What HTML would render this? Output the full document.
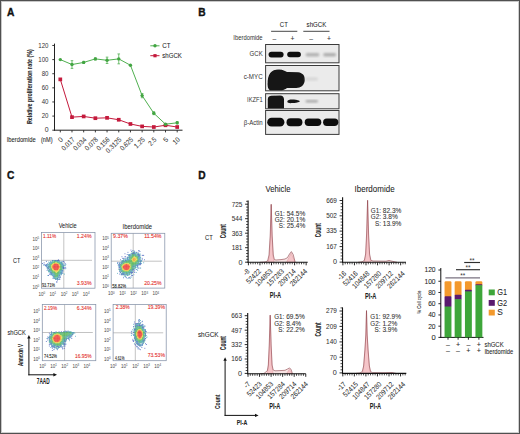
<!DOCTYPE html>
<html><head><meta charset="utf-8"><title>Figure</title>
<style>html,body{margin:0;padding:0;background:#fff;overflow:hidden}svg{display:block}text{font-family:"Liberation Sans",sans-serif}</style>
</head><body>
<svg width="520" height="434" viewBox="0 0 520 434">
<defs>
<filter id="bl3" x="-10%" y="-10%" width="120%" height="120%"><feGaussianBlur stdDeviation="0.35"/></filter>
<filter id="bl4" x="-30%" y="-30%" width="160%" height="160%"><feGaussianBlur stdDeviation="0.4"/></filter>
<filter id="bl5" x="-30%" y="-30%" width="160%" height="160%"><feGaussianBlur stdDeviation="0.5"/></filter>
<filter id="bl6" x="-30%" y="-30%" width="160%" height="160%"><feGaussianBlur stdDeviation="0.6"/></filter>
<filter id="bl8" x="-30%" y="-30%" width="160%" height="160%"><feGaussianBlur stdDeviation="0.8"/></filter>
<filter id="bl9" x="-30%" y="-30%" width="160%" height="160%"><feGaussianBlur stdDeviation="0.9"/></filter>
<filter id="bl10" x="-30%" y="-30%" width="160%" height="160%"><feGaussianBlur stdDeviation="1.0"/></filter>
</defs>
<rect x="0.50" y="0.50" width="519.00" height="433.00" rx="0" fill="#fff" stroke="#505050" stroke-width="1"/>
<line x1="1.50" y1="1.00" x2="1.50" y2="433.00" stroke="#c8c8c8" stroke-width="1"/>
<line x1="1.00" y1="1.50" x2="519.00" y2="1.50" stroke="#c8c8c8" stroke-width="1"/>
<line x1="518.50" y1="1.00" x2="518.50" y2="433.00" stroke="#d0d0d0" stroke-width="1"/>
<line x1="1.00" y1="432.50" x2="519.00" y2="432.50" stroke="#d0d0d0" stroke-width="1"/>
<text x="7.00" y="15.60" font-size="10.20" text-anchor="start" fill="#111" stroke="#111" stroke-width="0.35" font-weight="bold">A</text>
<text x="198.30" y="15.80" font-size="10.20" text-anchor="start" fill="#111" stroke="#111" stroke-width="0.35" font-weight="bold">B</text>
<text x="7.00" y="179.20" font-size="10.20" text-anchor="start" fill="#111" stroke="#111" stroke-width="0.35" font-weight="bold">C</text>
<text x="198.30" y="179.30" font-size="10.20" text-anchor="start" fill="#111" stroke="#111" stroke-width="0.35" font-weight="bold">D</text>
<line x1="54.50" y1="43.60" x2="54.50" y2="130.70" stroke="#222" stroke-width="1"/>
<line x1="54.00" y1="130.20" x2="182.50" y2="130.20" stroke="#222" stroke-width="1"/>
<line x1="52.30" y1="130.20" x2="54.50" y2="130.20" stroke="#222" stroke-width="0.9"/>
<text x="48.50" y="132.30" font-size="6.89" text-anchor="end" fill="#333">0</text>
<line x1="52.30" y1="116.08" x2="54.50" y2="116.08" stroke="#222" stroke-width="0.9"/>
<text x="48.50" y="118.18" font-size="6.89" text-anchor="end" fill="#333" textLength="6.79" lengthAdjust="spacingAndGlyphs">20</text>
<line x1="52.30" y1="101.96" x2="54.50" y2="101.96" stroke="#222" stroke-width="0.9"/>
<text x="48.50" y="104.06" font-size="6.89" text-anchor="end" fill="#333" textLength="6.79" lengthAdjust="spacingAndGlyphs">40</text>
<line x1="52.30" y1="87.84" x2="54.50" y2="87.84" stroke="#222" stroke-width="0.9"/>
<text x="48.50" y="89.94" font-size="6.89" text-anchor="end" fill="#333" textLength="6.79" lengthAdjust="spacingAndGlyphs">60</text>
<line x1="52.30" y1="73.72" x2="54.50" y2="73.72" stroke="#222" stroke-width="0.9"/>
<text x="48.50" y="75.82" font-size="6.89" text-anchor="end" fill="#333" textLength="6.79" lengthAdjust="spacingAndGlyphs">80</text>
<line x1="52.30" y1="59.60" x2="54.50" y2="59.60" stroke="#222" stroke-width="0.9"/>
<text x="48.50" y="61.70" font-size="6.89" text-anchor="end" fill="#333" textLength="10.18" lengthAdjust="spacingAndGlyphs">100</text>
<line x1="52.30" y1="45.48" x2="54.50" y2="45.48" stroke="#222" stroke-width="0.9"/>
<text x="48.50" y="47.58" font-size="6.89" text-anchor="end" fill="#333" textLength="10.18" lengthAdjust="spacingAndGlyphs">120</text>
<line x1="60.30" y1="130.20" x2="60.30" y2="132.40" stroke="#222" stroke-width="0.9"/>
<text x="63.50" y="140.10" font-size="7.01" text-anchor="end" fill="#3a3a3a" stroke="#3a3a3a" stroke-width="0.05" transform="rotate(-45 63.5 140.1)">0</text>
<line x1="71.99" y1="130.20" x2="71.99" y2="132.40" stroke="#222" stroke-width="0.9"/>
<text x="75.19" y="140.10" font-size="7.01" text-anchor="end" fill="#3a3a3a" stroke="#3a3a3a" stroke-width="0.05" transform="rotate(-45 75.19 140.1)" textLength="15.52" lengthAdjust="spacingAndGlyphs">0.017</text>
<line x1="83.68" y1="130.20" x2="83.68" y2="132.40" stroke="#222" stroke-width="0.9"/>
<text x="86.88" y="140.10" font-size="7.01" text-anchor="end" fill="#3a3a3a" stroke="#3a3a3a" stroke-width="0.05" transform="rotate(-45 86.88 140.1)" textLength="15.52" lengthAdjust="spacingAndGlyphs">0.034</text>
<line x1="95.37" y1="130.20" x2="95.37" y2="132.40" stroke="#222" stroke-width="0.9"/>
<text x="98.57" y="140.10" font-size="7.01" text-anchor="end" fill="#3a3a3a" stroke="#3a3a3a" stroke-width="0.05" transform="rotate(-45 98.57000000000001 140.1)" textLength="15.52" lengthAdjust="spacingAndGlyphs">0.078</text>
<line x1="107.06" y1="130.20" x2="107.06" y2="132.40" stroke="#222" stroke-width="0.9"/>
<text x="110.26" y="140.10" font-size="7.01" text-anchor="end" fill="#3a3a3a" stroke="#3a3a3a" stroke-width="0.05" transform="rotate(-45 110.26 140.1)" textLength="15.52" lengthAdjust="spacingAndGlyphs">0.156</text>
<line x1="118.75" y1="130.20" x2="118.75" y2="132.40" stroke="#222" stroke-width="0.9"/>
<text x="121.95" y="140.10" font-size="7.01" text-anchor="end" fill="#3a3a3a" stroke="#3a3a3a" stroke-width="0.05" transform="rotate(-45 121.95 140.1)" textLength="18.96" lengthAdjust="spacingAndGlyphs">0.3125</text>
<line x1="130.44" y1="130.20" x2="130.44" y2="132.40" stroke="#222" stroke-width="0.9"/>
<text x="133.64" y="140.10" font-size="7.01" text-anchor="end" fill="#3a3a3a" stroke="#3a3a3a" stroke-width="0.05" transform="rotate(-45 133.64 140.1)" textLength="15.52" lengthAdjust="spacingAndGlyphs">0.625</text>
<line x1="142.13" y1="130.20" x2="142.13" y2="132.40" stroke="#222" stroke-width="0.9"/>
<text x="145.33" y="140.10" font-size="7.01" text-anchor="end" fill="#3a3a3a" stroke="#3a3a3a" stroke-width="0.05" transform="rotate(-45 145.32999999999998 140.1)" textLength="12.07" lengthAdjust="spacingAndGlyphs">1.25</text>
<line x1="153.82" y1="130.20" x2="153.82" y2="132.40" stroke="#222" stroke-width="0.9"/>
<text x="157.02" y="140.10" font-size="7.01" text-anchor="end" fill="#3a3a3a" stroke="#3a3a3a" stroke-width="0.05" transform="rotate(-45 157.01999999999998 140.1)" textLength="8.62" lengthAdjust="spacingAndGlyphs">2.5</text>
<line x1="165.51" y1="130.20" x2="165.51" y2="132.40" stroke="#222" stroke-width="0.9"/>
<text x="168.71" y="140.10" font-size="7.01" text-anchor="end" fill="#3a3a3a" stroke="#3a3a3a" stroke-width="0.05" transform="rotate(-45 168.70999999999998 140.1)">5</text>
<line x1="177.20" y1="130.20" x2="177.20" y2="132.40" stroke="#222" stroke-width="0.9"/>
<text x="180.40" y="140.10" font-size="7.01" text-anchor="end" fill="#3a3a3a" stroke="#3a3a3a" stroke-width="0.05" transform="rotate(-45 180.39999999999998 140.1)" textLength="6.90" lengthAdjust="spacingAndGlyphs">10</text>
<text x="31.60" y="86.60" font-size="7.01" text-anchor="middle" fill="#2a2a2a" stroke="#2a2a2a" stroke-width="0.07" font-weight="bold" transform="rotate(-90 31.6 86.6)" textLength="75.00" lengthAdjust="spacingAndGlyphs">Relative proliferation rate (%)</text>
<text x="6.70" y="141.80" font-size="6.55" text-anchor="start" fill="#262626" stroke="#262626" stroke-width="0.07" textLength="29.00" lengthAdjust="spacingAndGlyphs">Iberdomide</text>
<text x="41.00" y="141.80" font-size="6.33" text-anchor="start" fill="#262626" stroke="#262626" stroke-width="0.07" textLength="11.50" lengthAdjust="spacingAndGlyphs">(nM)</text>
<polyline fill="none" stroke="#c41a3c" stroke-width="1" points="60.30,79.37 71.99,117.14 83.68,116.43 95.37,118.20 107.06,117.84 118.75,119.75 130.44,123.99 142.13,126.39 153.82,127.02 165.51,125.26 177.20,127.02"/>
<rect x="58.45" y="77.52" width="3.70" height="3.70" rx="0" fill="#c41a3c"/>
<rect x="70.14" y="115.29" width="3.70" height="3.70" rx="0" fill="#c41a3c"/>
<rect x="81.83" y="114.58" width="3.70" height="3.70" rx="0" fill="#c41a3c"/>
<rect x="93.52" y="116.35" width="3.70" height="3.70" rx="0" fill="#c41a3c"/>
<rect x="105.21" y="115.99" width="3.70" height="3.70" rx="0" fill="#c41a3c"/>
<rect x="116.90" y="117.90" width="3.70" height="3.70" rx="0" fill="#c41a3c"/>
<rect x="128.59" y="122.14" width="3.70" height="3.70" rx="0" fill="#c41a3c"/>
<rect x="140.28" y="124.54" width="3.70" height="3.70" rx="0" fill="#c41a3c"/>
<rect x="151.97" y="125.17" width="3.70" height="3.70" rx="0" fill="#c41a3c"/>
<rect x="163.66" y="123.41" width="3.70" height="3.70" rx="0" fill="#c41a3c"/>
<rect x="175.35" y="125.17" width="3.70" height="3.70" rx="0" fill="#c41a3c"/>
<polyline fill="none" stroke="#50b050" stroke-width="1" points="60.30,59.60 71.99,64.54 83.68,62.42 95.37,58.89 107.06,60.31 118.75,58.89 130.44,65.25 142.13,95.61 153.82,113.26 165.51,124.20 177.20,122.79"/>
<circle cx="60.30" cy="59.60" r="1.7" fill="#42a542"/>
<line x1="71.99" y1="60.66" x2="71.99" y2="68.42" stroke="#50b050" stroke-width="0.8"/>
<line x1="70.69" y1="60.66" x2="73.29" y2="60.66" stroke="#50b050" stroke-width="0.8"/>
<line x1="70.69" y1="68.42" x2="73.29" y2="68.42" stroke="#50b050" stroke-width="0.8"/>
<circle cx="71.99" cy="64.54" r="1.7" fill="#42a542"/>
<line x1="83.68" y1="61.36" x2="83.68" y2="63.48" stroke="#50b050" stroke-width="0.8"/>
<line x1="82.38" y1="61.36" x2="84.98" y2="61.36" stroke="#50b050" stroke-width="0.8"/>
<line x1="82.38" y1="63.48" x2="84.98" y2="63.48" stroke="#50b050" stroke-width="0.8"/>
<circle cx="83.68" cy="62.42" r="1.7" fill="#42a542"/>
<line x1="95.37" y1="57.83" x2="95.37" y2="59.95" stroke="#50b050" stroke-width="0.8"/>
<line x1="94.07" y1="57.83" x2="96.67" y2="57.83" stroke="#50b050" stroke-width="0.8"/>
<line x1="94.07" y1="59.95" x2="96.67" y2="59.95" stroke="#50b050" stroke-width="0.8"/>
<circle cx="95.37" cy="58.89" r="1.7" fill="#42a542"/>
<line x1="107.06" y1="57.13" x2="107.06" y2="63.48" stroke="#50b050" stroke-width="0.8"/>
<line x1="105.76" y1="57.13" x2="108.36" y2="57.13" stroke="#50b050" stroke-width="0.8"/>
<line x1="105.76" y1="63.48" x2="108.36" y2="63.48" stroke="#50b050" stroke-width="0.8"/>
<circle cx="107.06" cy="60.31" r="1.7" fill="#42a542"/>
<line x1="118.75" y1="53.95" x2="118.75" y2="63.84" stroke="#50b050" stroke-width="0.8"/>
<line x1="117.45" y1="53.95" x2="120.05" y2="53.95" stroke="#50b050" stroke-width="0.8"/>
<line x1="117.45" y1="63.84" x2="120.05" y2="63.84" stroke="#50b050" stroke-width="0.8"/>
<circle cx="118.75" cy="58.89" r="1.7" fill="#42a542"/>
<circle cx="130.44" cy="65.25" r="1.7" fill="#42a542"/>
<line x1="142.13" y1="93.49" x2="142.13" y2="97.72" stroke="#50b050" stroke-width="0.8"/>
<line x1="140.83" y1="93.49" x2="143.43" y2="93.49" stroke="#50b050" stroke-width="0.8"/>
<line x1="140.83" y1="97.72" x2="143.43" y2="97.72" stroke="#50b050" stroke-width="0.8"/>
<circle cx="142.13" cy="95.61" r="1.7" fill="#42a542"/>
<line x1="153.82" y1="111.84" x2="153.82" y2="114.67" stroke="#50b050" stroke-width="0.8"/>
<line x1="152.52" y1="111.84" x2="155.12" y2="111.84" stroke="#50b050" stroke-width="0.8"/>
<line x1="152.52" y1="114.67" x2="155.12" y2="114.67" stroke="#50b050" stroke-width="0.8"/>
<circle cx="153.82" cy="113.26" r="1.7" fill="#42a542"/>
<circle cx="165.51" cy="124.20" r="1.7" fill="#42a542"/>
<line x1="177.20" y1="121.73" x2="177.20" y2="123.85" stroke="#50b050" stroke-width="0.8"/>
<line x1="175.90" y1="121.73" x2="178.50" y2="121.73" stroke="#50b050" stroke-width="0.8"/>
<line x1="175.90" y1="123.85" x2="178.50" y2="123.85" stroke="#50b050" stroke-width="0.8"/>
<circle cx="177.20" cy="122.79" r="1.7" fill="#42a542"/>
<line x1="150.30" y1="45.80" x2="159.50" y2="45.80" stroke="#50b050" stroke-width="1"/>
<circle cx="155" cy="45.8" r="1.7" fill="#42a542"/>
<text x="162.30" y="47.90" font-size="7.01" text-anchor="start" fill="#262626" stroke="#262626" stroke-width="0.07" textLength="8.26" lengthAdjust="spacingAndGlyphs">CT</text>
<line x1="150.30" y1="55.70" x2="159.50" y2="55.70" stroke="#c41a3c" stroke-width="1"/>
<rect x="153.40" y="54.10" width="3.20" height="3.20" rx="0" fill="#c41a3c"/>
<text x="162.30" y="57.80" font-size="7.01" text-anchor="start" fill="#262626" stroke="#262626" stroke-width="0.07" textLength="19.60" lengthAdjust="spacingAndGlyphs">shGCK</text>
<text x="283.80" y="27.20" font-size="6.78" text-anchor="middle" fill="#262626" stroke="#262626" stroke-width="0.07" textLength="8.00" lengthAdjust="spacingAndGlyphs">CT</text>
<text x="316.40" y="27.20" font-size="6.78" text-anchor="middle" fill="#262626" stroke="#262626" stroke-width="0.07" textLength="19.60" lengthAdjust="spacingAndGlyphs">shGCK</text>
<line x1="271.10" y1="31.30" x2="297.30" y2="31.30" stroke="#333" stroke-width="0.9"/>
<line x1="303.30" y1="31.30" x2="329.50" y2="31.30" stroke="#333" stroke-width="0.9"/>
<text x="262.60" y="39.80" font-size="6.55" text-anchor="end" fill="#333" textLength="29.30" lengthAdjust="spacingAndGlyphs">Iberdomide</text>
<text x="274.40" y="41.20" font-size="6.78" text-anchor="middle" fill="#333" stroke="#333" stroke-width="0.07">–</text>
<text x="292.40" y="41.20" font-size="6.78" text-anchor="middle" fill="#333" stroke="#333" stroke-width="0.07">+</text>
<text x="311.20" y="41.20" font-size="6.78" text-anchor="middle" fill="#333" stroke="#333" stroke-width="0.07">–</text>
<text x="329.10" y="41.20" font-size="6.78" text-anchor="middle" fill="#333" stroke="#333" stroke-width="0.07">+</text>
<text x="262.70" y="55.60" font-size="6.78" text-anchor="end" fill="#333" textLength="13.10" lengthAdjust="spacingAndGlyphs">GCK</text>
<text x="262.70" y="78.90" font-size="6.78" text-anchor="end" fill="#333" textLength="19.00" lengthAdjust="spacingAndGlyphs">c-MYC</text>
<text x="262.70" y="102.30" font-size="6.78" text-anchor="end" fill="#333" textLength="15.60" lengthAdjust="spacingAndGlyphs">IKZF1</text>
<text x="262.70" y="124.80" font-size="6.78" text-anchor="end" fill="#333" textLength="19.00" lengthAdjust="spacingAndGlyphs">β-Actin</text>
<rect x="265.60" y="44.50" width="73.40" height="18.30" rx="0" fill="#ebebeb" stroke="#3a3a3a" stroke-width="1"/>
<rect x="265.60" y="65.50" width="73.40" height="25.30" rx="0" fill="#ebebeb" stroke="#3a3a3a" stroke-width="1"/>
<rect x="265.60" y="93.70" width="73.40" height="15.10" rx="0" fill="#ebebeb" stroke="#3a3a3a" stroke-width="1"/>
<rect x="265.60" y="110.50" width="73.40" height="23.90" rx="0" fill="#ebebeb" stroke="#3a3a3a" stroke-width="1"/>
<rect x="268.60" y="51.70" width="15.00" height="5.70" rx="2.85" fill="#111" filter="url(#bl6)"/>
<rect x="287.20" y="51.80" width="13.70" height="5.50" rx="2.75" fill="#111" filter="url(#bl6)"/>
<rect x="305.60" y="53.00" width="13.80" height="3.40" rx="1.70" fill="#b3b3b3" filter="url(#bl8)"/>
<rect x="323.20" y="53.00" width="13.00" height="3.40" rx="1.70" fill="#afafaf" filter="url(#bl8)"/>
<path d="M267.6,84 C267.6,74 271,69.5 279,69.5 C283,69.5 285,71 287,72 L298,72.3 C303,73 305,76 304.8,80 C304.5,85 301,88 296,88 L287,88 C285,89.5 283,90.3 280,90.3 L270,90.3 C268,89 267.6,87 267.6,84 Z" fill="#121212" filter="url(#bl6)"/>
<rect x="305.00" y="77.50" width="13.00" height="3.00" rx="1.50" fill="#d6d6d6" filter="url(#bl10)"/>
<path d="M267.8,108.3 L267.8,99 C268,96.5 270,95.6 272,95.8 L280,95.6 C282.5,95.6 284,97 284,99.5 L284,108.3 Z" fill="#121212" filter="url(#bl5)"/>
<path d="M287.3,101.2 C288,99.1 292,99.2 296,99.7 C298.5,100.2 299.8,100.8 299.8,101.4 C299.2,102.3 296,102.8 292,103.1 C289,103.3 287.3,102.9 287.3,101.2 Z" fill="#151515" filter="url(#bl5)"/>
<rect x="305.60" y="100.00" width="12.40" height="2.60" rx="1.30" fill="#a8a8a8" filter="url(#bl8)"/>
<rect x="267.20" y="117.80" width="17.20" height="8.80" rx="4.40" fill="#101010" filter="url(#bl6)"/>
<rect x="286.50" y="118.30" width="15.90" height="8.00" rx="4.00" fill="#101010" filter="url(#bl6)"/>
<rect x="304.70" y="118.60" width="16.60" height="7.40" rx="3.70" fill="#101010" filter="url(#bl6)"/>
<rect x="323.10" y="118.60" width="15.20" height="7.40" rx="3.70" fill="#101010" filter="url(#bl6)"/>
<rect x="41.60" y="232.60" width="53.40" height="55.60" fill="#fff"/>
<line x1="63.80" y1="232.60" x2="63.80" y2="288.20" stroke="#b4b4b4" stroke-width="0.8"/>
<line x1="41.60" y1="260.30" x2="92.00" y2="260.30" stroke="#b4b4b4" stroke-width="0.8"/>
<g filter="url(#bl3)"><rect x="57.95" y="259.45" width="0.80" height="0.80" fill="#3550b8"/><rect x="51.95" y="260.20" width="0.80" height="0.80" fill="#3550b8"/><rect x="52.70" y="260.20" width="0.80" height="0.80" fill="#3a9fb5"/><rect x="53.45" y="260.20" width="0.80" height="0.80" fill="#3a9fb5"/><rect x="54.20" y="260.20" width="0.80" height="0.80" fill="#3a9a8c"/><rect x="54.95" y="260.20" width="0.80" height="0.80" fill="#3550b8"/><rect x="55.70" y="260.20" width="0.80" height="0.80" fill="#3550b8"/><rect x="56.45" y="260.20" width="0.80" height="0.80" fill="#3a9a8c"/><rect x="57.20" y="260.20" width="0.80" height="0.80" fill="#3550b8"/><rect x="57.95" y="260.20" width="0.80" height="0.80" fill="#3550b8"/><rect x="58.70" y="260.20" width="0.80" height="0.80" fill="#3550b8"/><rect x="45.95" y="260.95" width="0.80" height="0.80" fill="#3550b8"/><rect x="50.45" y="260.95" width="0.80" height="0.80" fill="#3a9fb5"/><rect x="51.95" y="260.95" width="0.80" height="0.80" fill="#3a9a8c"/><rect x="53.45" y="260.95" width="0.80" height="0.80" fill="#46b04a"/><rect x="54.20" y="260.95" width="0.80" height="0.80" fill="#46b04a"/><rect x="54.95" y="260.95" width="0.80" height="0.80" fill="#3a9a8c"/><rect x="55.70" y="260.95" width="0.80" height="0.80" fill="#3a9fb5"/><rect x="56.45" y="260.95" width="0.80" height="0.80" fill="#3a9fb5"/><rect x="57.20" y="260.95" width="0.80" height="0.80" fill="#3a9a8c"/><rect x="57.95" y="260.95" width="0.80" height="0.80" fill="#3a9fb5"/><rect x="58.70" y="260.95" width="0.80" height="0.80" fill="#3a9fb5"/><rect x="59.45" y="260.95" width="0.80" height="0.80" fill="#3a9fb5"/><rect x="61.70" y="260.95" width="0.80" height="0.80" fill="#3550b8"/><rect x="63.20" y="260.95" width="0.80" height="0.80" fill="#3550b8"/><rect x="48.20" y="261.70" width="0.80" height="0.80" fill="#3a9fb5"/><rect x="49.70" y="261.70" width="0.80" height="0.80" fill="#3a9fb5"/><rect x="50.45" y="261.70" width="0.80" height="0.80" fill="#3550b8"/><rect x="51.20" y="261.70" width="0.80" height="0.80" fill="#3a9fb5"/><rect x="51.95" y="261.70" width="0.80" height="0.80" fill="#3a9a8c"/><rect x="52.70" y="261.70" width="0.80" height="0.80" fill="#3a9a8c"/><rect x="53.45" y="261.70" width="0.80" height="0.80" fill="#46b04a"/><rect x="54.20" y="261.70" width="0.80" height="0.80" fill="#46b04a"/><rect x="54.95" y="261.70" width="0.80" height="0.80" fill="#46b04a"/><rect x="55.70" y="261.70" width="0.80" height="0.80" fill="#46b04a"/><rect x="56.45" y="261.70" width="0.80" height="0.80" fill="#46b04a"/><rect x="57.20" y="261.70" width="0.80" height="0.80" fill="#3a9fb5"/><rect x="57.95" y="261.70" width="0.80" height="0.80" fill="#3a9fb5"/><rect x="58.70" y="261.70" width="0.80" height="0.80" fill="#3a9fb5"/><rect x="59.45" y="261.70" width="0.80" height="0.80" fill="#3a9a8c"/><rect x="60.20" y="261.70" width="0.80" height="0.80" fill="#3a9fb5"/><rect x="60.95" y="261.70" width="0.80" height="0.80" fill="#3a9a8c"/><rect x="61.70" y="261.70" width="0.80" height="0.80" fill="#3a9fb5"/><rect x="63.95" y="261.70" width="0.80" height="0.80" fill="#3550b8"/><rect x="43.70" y="262.45" width="0.80" height="0.80" fill="#3550b8"/><rect x="48.95" y="262.45" width="0.80" height="0.80" fill="#3a9fb5"/><rect x="49.70" y="262.45" width="0.80" height="0.80" fill="#3a9fb5"/><rect x="50.45" y="262.45" width="0.80" height="0.80" fill="#3a9fb5"/><rect x="51.20" y="262.45" width="0.80" height="0.80" fill="#3a9fb5"/><rect x="51.95" y="262.45" width="0.80" height="0.80" fill="#3a9a8c"/><rect x="52.70" y="262.45" width="0.80" height="0.80" fill="#46b04a"/><rect x="53.45" y="262.45" width="0.80" height="0.80" fill="#46b04a"/><rect x="54.20" y="262.45" width="0.80" height="0.80" fill="#46b04a"/><rect x="54.95" y="262.45" width="0.80" height="0.80" fill="#e0d83a"/><rect x="55.70" y="262.45" width="0.80" height="0.80" fill="#e0d83a"/><rect x="56.45" y="262.45" width="0.80" height="0.80" fill="#e0d83a"/><rect x="57.20" y="262.45" width="0.80" height="0.80" fill="#46b04a"/><rect x="57.95" y="262.45" width="0.80" height="0.80" fill="#46b04a"/><rect x="58.70" y="262.45" width="0.80" height="0.80" fill="#46b04a"/><rect x="59.45" y="262.45" width="0.80" height="0.80" fill="#3a9a8c"/><rect x="60.20" y="262.45" width="0.80" height="0.80" fill="#3a9fb5"/><rect x="60.95" y="262.45" width="0.80" height="0.80" fill="#3550b8"/><rect x="61.70" y="262.45" width="0.80" height="0.80" fill="#3a9a8c"/><rect x="42.20" y="263.20" width="0.80" height="0.80" fill="#3550b8"/><rect x="47.45" y="263.20" width="0.80" height="0.80" fill="#3550b8"/><rect x="48.95" y="263.20" width="0.80" height="0.80" fill="#3a9a8c"/><rect x="49.70" y="263.20" width="0.80" height="0.80" fill="#3a9fb5"/><rect x="50.45" y="263.20" width="0.80" height="0.80" fill="#3a9fb5"/><rect x="51.20" y="263.20" width="0.80" height="0.80" fill="#3a9fb5"/><rect x="51.95" y="263.20" width="0.80" height="0.80" fill="#46b04a"/><rect x="52.70" y="263.20" width="0.80" height="0.80" fill="#e0d83a"/><rect x="53.45" y="263.20" width="0.80" height="0.80" fill="#e0d83a"/><rect x="54.20" y="263.20" width="0.80" height="0.80" fill="#f3951e"/><rect x="54.95" y="263.20" width="0.80" height="0.80" fill="#f3951e"/><rect x="55.70" y="263.20" width="0.80" height="0.80" fill="#f3951e"/><rect x="56.45" y="263.20" width="0.80" height="0.80" fill="#f3951e"/><rect x="57.20" y="263.20" width="0.80" height="0.80" fill="#e0d83a"/><rect x="57.95" y="263.20" width="0.80" height="0.80" fill="#e0d83a"/><rect x="58.70" y="263.20" width="0.80" height="0.80" fill="#46b04a"/><rect x="59.45" y="263.20" width="0.80" height="0.80" fill="#46b04a"/><rect x="60.20" y="263.20" width="0.80" height="0.80" fill="#3a9fb5"/><rect x="60.95" y="263.20" width="0.80" height="0.80" fill="#3a9a8c"/><rect x="61.70" y="263.20" width="0.80" height="0.80" fill="#3a9fb5"/><rect x="62.45" y="263.20" width="0.80" height="0.80" fill="#3a9fb5"/><rect x="64.70" y="263.20" width="0.80" height="0.80" fill="#3550b8"/><rect x="43.70" y="263.95" width="0.80" height="0.80" fill="#3550b8"/><rect x="45.95" y="263.95" width="0.80" height="0.80" fill="#3550b8"/><rect x="46.70" y="263.95" width="0.80" height="0.80" fill="#3a9fb5"/><rect x="47.45" y="263.95" width="0.80" height="0.80" fill="#3a9fb5"/><rect x="48.20" y="263.95" width="0.80" height="0.80" fill="#3a9a8c"/><rect x="48.95" y="263.95" width="0.80" height="0.80" fill="#3a9fb5"/><rect x="49.70" y="263.95" width="0.80" height="0.80" fill="#46b04a"/><rect x="50.45" y="263.95" width="0.80" height="0.80" fill="#46b04a"/><rect x="51.20" y="263.95" width="0.80" height="0.80" fill="#46b04a"/><rect x="51.95" y="263.95" width="0.80" height="0.80" fill="#e0d83a"/><rect x="52.70" y="263.95" width="0.80" height="0.80" fill="#f3951e"/><rect x="53.45" y="263.95" width="0.80" height="0.80" fill="#f3951e"/><rect x="54.20" y="263.95" width="0.80" height="0.80" fill="#e8261e"/><rect x="54.95" y="263.95" width="0.80" height="0.80" fill="#e8261e"/><rect x="55.70" y="263.95" width="0.80" height="0.80" fill="#e8261e"/><rect x="56.45" y="263.95" width="0.80" height="0.80" fill="#e8261e"/><rect x="57.20" y="263.95" width="0.80" height="0.80" fill="#e8261e"/><rect x="57.95" y="263.95" width="0.80" height="0.80" fill="#f3951e"/><rect x="58.70" y="263.95" width="0.80" height="0.80" fill="#e0d83a"/><rect x="59.45" y="263.95" width="0.80" height="0.80" fill="#46b04a"/><rect x="60.20" y="263.95" width="0.80" height="0.80" fill="#46b04a"/><rect x="60.95" y="263.95" width="0.80" height="0.80" fill="#3a9a8c"/><rect x="61.70" y="263.95" width="0.80" height="0.80" fill="#3550b8"/><rect x="62.45" y="263.95" width="0.80" height="0.80" fill="#3a9fb5"/><rect x="65.45" y="263.95" width="0.80" height="0.80" fill="#3a9fb5"/><rect x="42.95" y="264.70" width="0.80" height="0.80" fill="#3a9fb5"/><rect x="44.45" y="264.70" width="0.80" height="0.80" fill="#3550b8"/><rect x="45.20" y="264.70" width="0.80" height="0.80" fill="#3550b8"/><rect x="45.95" y="264.70" width="0.80" height="0.80" fill="#3a9fb5"/><rect x="47.45" y="264.70" width="0.80" height="0.80" fill="#3a9fb5"/><rect x="48.95" y="264.70" width="0.80" height="0.80" fill="#3a9fb5"/><rect x="49.70" y="264.70" width="0.80" height="0.80" fill="#3a9a8c"/><rect x="50.45" y="264.70" width="0.80" height="0.80" fill="#46b04a"/><rect x="51.20" y="264.70" width="0.80" height="0.80" fill="#e0d83a"/><rect x="51.95" y="264.70" width="0.80" height="0.80" fill="#e0d83a"/><rect x="52.70" y="264.70" width="0.80" height="0.80" fill="#f3951e"/><rect x="53.45" y="264.70" width="0.80" height="0.80" fill="#e8261e"/><rect x="54.20" y="264.70" width="0.80" height="0.80" fill="#e8261e"/><rect x="54.95" y="264.70" width="0.80" height="0.80" fill="#e8261e"/><rect x="55.70" y="264.70" width="0.80" height="0.80" fill="#e8261e"/><rect x="56.45" y="264.70" width="0.80" height="0.80" fill="#e8261e"/><rect x="57.20" y="264.70" width="0.80" height="0.80" fill="#e8261e"/><rect x="57.95" y="264.70" width="0.80" height="0.80" fill="#e8261e"/><rect x="58.70" y="264.70" width="0.80" height="0.80" fill="#f3951e"/><rect x="59.45" y="264.70" width="0.80" height="0.80" fill="#e0d83a"/><rect x="60.20" y="264.70" width="0.80" height="0.80" fill="#46b04a"/><rect x="60.95" y="264.70" width="0.80" height="0.80" fill="#3a9fb5"/><rect x="61.70" y="264.70" width="0.80" height="0.80" fill="#3a9fb5"/><rect x="62.45" y="264.70" width="0.80" height="0.80" fill="#3550b8"/><rect x="63.20" y="264.70" width="0.80" height="0.80" fill="#3a9fb5"/><rect x="63.95" y="264.70" width="0.80" height="0.80" fill="#3a9fb5"/><rect x="64.70" y="264.70" width="0.80" height="0.80" fill="#3550b8"/><rect x="45.20" y="265.45" width="0.80" height="0.80" fill="#3550b8"/><rect x="45.95" y="265.45" width="0.80" height="0.80" fill="#3550b8"/><rect x="46.70" y="265.45" width="0.80" height="0.80" fill="#3550b8"/><rect x="47.45" y="265.45" width="0.80" height="0.80" fill="#3a9fb5"/><rect x="48.20" y="265.45" width="0.80" height="0.80" fill="#3a9a8c"/><rect x="48.95" y="265.45" width="0.80" height="0.80" fill="#3a9fb5"/><rect x="49.70" y="265.45" width="0.80" height="0.80" fill="#3a9a8c"/><rect x="50.45" y="265.45" width="0.80" height="0.80" fill="#46b04a"/><rect x="51.20" y="265.45" width="0.80" height="0.80" fill="#e0d83a"/><rect x="51.95" y="265.45" width="0.80" height="0.80" fill="#f3951e"/><rect x="52.70" y="265.45" width="0.80" height="0.80" fill="#e8261e"/><rect x="53.45" y="265.45" width="0.80" height="0.80" fill="#e8261e"/><rect x="54.20" y="265.45" width="0.80" height="0.80" fill="#e8261e"/><rect x="54.95" y="265.45" width="0.80" height="0.80" fill="#e8261e"/><rect x="55.70" y="265.45" width="0.80" height="0.80" fill="#e8261e"/><rect x="56.45" y="265.45" width="0.80" height="0.80" fill="#e8261e"/><rect x="57.20" y="265.45" width="0.80" height="0.80" fill="#e8261e"/><rect x="57.95" y="265.45" width="0.80" height="0.80" fill="#e8261e"/><rect x="58.70" y="265.45" width="0.80" height="0.80" fill="#f3951e"/><rect x="59.45" y="265.45" width="0.80" height="0.80" fill="#e0d83a"/><rect x="60.20" y="265.45" width="0.80" height="0.80" fill="#46b04a"/><rect x="60.95" y="265.45" width="0.80" height="0.80" fill="#46b04a"/><rect x="61.70" y="265.45" width="0.80" height="0.80" fill="#3a9fb5"/><rect x="62.45" y="265.45" width="0.80" height="0.80" fill="#3a9a8c"/><rect x="63.20" y="265.45" width="0.80" height="0.80" fill="#3a9fb5"/><rect x="64.70" y="265.45" width="0.80" height="0.80" fill="#3a9fb5"/><rect x="45.95" y="266.20" width="0.80" height="0.80" fill="#3a9fb5"/><rect x="46.70" y="266.20" width="0.80" height="0.80" fill="#3a9fb5"/><rect x="48.20" y="266.20" width="0.80" height="0.80" fill="#3550b8"/><rect x="48.95" y="266.20" width="0.80" height="0.80" fill="#46b04a"/><rect x="49.70" y="266.20" width="0.80" height="0.80" fill="#3a9a8c"/><rect x="50.45" y="266.20" width="0.80" height="0.80" fill="#46b04a"/><rect x="51.20" y="266.20" width="0.80" height="0.80" fill="#e0d83a"/><rect x="51.95" y="266.20" width="0.80" height="0.80" fill="#f3951e"/><rect x="52.70" y="266.20" width="0.80" height="0.80" fill="#e8261e"/><rect x="53.45" y="266.20" width="0.80" height="0.80" fill="#e8261e"/><rect x="54.20" y="266.20" width="0.80" height="0.80" fill="#e8261e"/><rect x="54.95" y="266.20" width="0.80" height="0.80" fill="#e8261e"/><rect x="55.70" y="266.20" width="0.80" height="0.80" fill="#e8261e"/><rect x="56.45" y="266.20" width="0.80" height="0.80" fill="#e8261e"/><rect x="57.20" y="266.20" width="0.80" height="0.80" fill="#e8261e"/><rect x="57.95" y="266.20" width="0.80" height="0.80" fill="#e8261e"/><rect x="58.70" y="266.20" width="0.80" height="0.80" fill="#e8261e"/><rect x="59.45" y="266.20" width="0.80" height="0.80" fill="#f3951e"/><rect x="60.20" y="266.20" width="0.80" height="0.80" fill="#46b04a"/><rect x="60.95" y="266.20" width="0.80" height="0.80" fill="#46b04a"/><rect x="61.70" y="266.20" width="0.80" height="0.80" fill="#3a9a8c"/><rect x="62.45" y="266.20" width="0.80" height="0.80" fill="#3a9a8c"/><rect x="63.20" y="266.20" width="0.80" height="0.80" fill="#3a9fb5"/><rect x="46.70" y="266.95" width="0.80" height="0.80" fill="#3550b8"/><rect x="47.45" y="266.95" width="0.80" height="0.80" fill="#3a9fb5"/><rect x="48.20" y="266.95" width="0.80" height="0.80" fill="#3a9a8c"/><rect x="48.95" y="266.95" width="0.80" height="0.80" fill="#3a9fb5"/><rect x="49.70" y="266.95" width="0.80" height="0.80" fill="#3a9a8c"/><rect x="50.45" y="266.95" width="0.80" height="0.80" fill="#46b04a"/><rect x="51.20" y="266.95" width="0.80" height="0.80" fill="#e0d83a"/><rect x="51.95" y="266.95" width="0.80" height="0.80" fill="#f3951e"/><rect x="52.70" y="266.95" width="0.80" height="0.80" fill="#e8261e"/><rect x="53.45" y="266.95" width="0.80" height="0.80" fill="#e8261e"/><rect x="54.20" y="266.95" width="0.80" height="0.80" fill="#e8261e"/><rect x="54.95" y="266.95" width="0.80" height="0.80" fill="#e8261e"/><rect x="55.70" y="266.95" width="0.80" height="0.80" fill="#e8261e"/><rect x="56.45" y="266.95" width="0.80" height="0.80" fill="#e8261e"/><rect x="57.20" y="266.95" width="0.80" height="0.80" fill="#e8261e"/><rect x="57.95" y="266.95" width="0.80" height="0.80" fill="#e8261e"/><rect x="58.70" y="266.95" width="0.80" height="0.80" fill="#e8261e"/><rect x="59.45" y="266.95" width="0.80" height="0.80" fill="#f3951e"/><rect x="60.20" y="266.95" width="0.80" height="0.80" fill="#46b04a"/><rect x="60.95" y="266.95" width="0.80" height="0.80" fill="#46b04a"/><rect x="61.70" y="266.95" width="0.80" height="0.80" fill="#3a9fb5"/><rect x="62.45" y="266.95" width="0.80" height="0.80" fill="#3550b8"/><rect x="63.20" y="266.95" width="0.80" height="0.80" fill="#3550b8"/><rect x="64.70" y="266.95" width="0.80" height="0.80" fill="#3550b8"/><rect x="46.70" y="267.70" width="0.80" height="0.80" fill="#3550b8"/><rect x="47.45" y="267.70" width="0.80" height="0.80" fill="#3550b8"/><rect x="48.20" y="267.70" width="0.80" height="0.80" fill="#3a9a8c"/><rect x="48.95" y="267.70" width="0.80" height="0.80" fill="#3a9a8c"/><rect x="49.70" y="267.70" width="0.80" height="0.80" fill="#3a9fb5"/><rect x="50.45" y="267.70" width="0.80" height="0.80" fill="#46b04a"/><rect x="51.20" y="267.70" width="0.80" height="0.80" fill="#e0d83a"/><rect x="51.95" y="267.70" width="0.80" height="0.80" fill="#f3951e"/><rect x="52.70" y="267.70" width="0.80" height="0.80" fill="#e8261e"/><rect x="53.45" y="267.70" width="0.80" height="0.80" fill="#e8261e"/><rect x="54.20" y="267.70" width="0.80" height="0.80" fill="#e8261e"/><rect x="54.95" y="267.70" width="0.80" height="0.80" fill="#e8261e"/><rect x="55.70" y="267.70" width="0.80" height="0.80" fill="#e8261e"/><rect x="56.45" y="267.70" width="0.80" height="0.80" fill="#e8261e"/><rect x="57.20" y="267.70" width="0.80" height="0.80" fill="#e8261e"/><rect x="57.95" y="267.70" width="0.80" height="0.80" fill="#e8261e"/><rect x="58.70" y="267.70" width="0.80" height="0.80" fill="#f3951e"/><rect x="59.45" y="267.70" width="0.80" height="0.80" fill="#e0d83a"/><rect x="60.20" y="267.70" width="0.80" height="0.80" fill="#46b04a"/><rect x="60.95" y="267.70" width="0.80" height="0.80" fill="#46b04a"/><rect x="61.70" y="267.70" width="0.80" height="0.80" fill="#3a9a8c"/><rect x="62.45" y="267.70" width="0.80" height="0.80" fill="#3a9a8c"/><rect x="63.20" y="267.70" width="0.80" height="0.80" fill="#3550b8"/><rect x="63.95" y="267.70" width="0.80" height="0.80" fill="#3550b8"/><rect x="65.45" y="267.70" width="0.80" height="0.80" fill="#3550b8"/><rect x="47.45" y="268.45" width="0.80" height="0.80" fill="#3a9a8c"/><rect x="48.20" y="268.45" width="0.80" height="0.80" fill="#3550b8"/><rect x="49.70" y="268.45" width="0.80" height="0.80" fill="#3a9a8c"/><rect x="50.45" y="268.45" width="0.80" height="0.80" fill="#46b04a"/><rect x="51.20" y="268.45" width="0.80" height="0.80" fill="#46b04a"/><rect x="51.95" y="268.45" width="0.80" height="0.80" fill="#e0d83a"/><rect x="52.70" y="268.45" width="0.80" height="0.80" fill="#f3951e"/><rect x="53.45" y="268.45" width="0.80" height="0.80" fill="#e8261e"/><rect x="54.20" y="268.45" width="0.80" height="0.80" fill="#e8261e"/><rect x="54.95" y="268.45" width="0.80" height="0.80" fill="#e8261e"/><rect x="55.70" y="268.45" width="0.80" height="0.80" fill="#e8261e"/><rect x="56.45" y="268.45" width="0.80" height="0.80" fill="#e8261e"/><rect x="57.20" y="268.45" width="0.80" height="0.80" fill="#e8261e"/><rect x="57.95" y="268.45" width="0.80" height="0.80" fill="#e8261e"/><rect x="58.70" y="268.45" width="0.80" height="0.80" fill="#f3951e"/><rect x="59.45" y="268.45" width="0.80" height="0.80" fill="#e0d83a"/><rect x="60.20" y="268.45" width="0.80" height="0.80" fill="#46b04a"/><rect x="60.95" y="268.45" width="0.80" height="0.80" fill="#46b04a"/><rect x="61.70" y="268.45" width="0.80" height="0.80" fill="#3a9fb5"/><rect x="62.45" y="268.45" width="0.80" height="0.80" fill="#3a9a8c"/><rect x="63.20" y="268.45" width="0.80" height="0.80" fill="#3550b8"/><rect x="64.70" y="268.45" width="0.80" height="0.80" fill="#3a9fb5"/><rect x="47.45" y="269.20" width="0.80" height="0.80" fill="#3a9fb5"/><rect x="48.95" y="269.20" width="0.80" height="0.80" fill="#3550b8"/><rect x="49.70" y="269.20" width="0.80" height="0.80" fill="#3a9a8c"/><rect x="50.45" y="269.20" width="0.80" height="0.80" fill="#3a9a8c"/><rect x="51.20" y="269.20" width="0.80" height="0.80" fill="#46b04a"/><rect x="51.95" y="269.20" width="0.80" height="0.80" fill="#e0d83a"/><rect x="52.70" y="269.20" width="0.80" height="0.80" fill="#e0d83a"/><rect x="53.45" y="269.20" width="0.80" height="0.80" fill="#f3951e"/><rect x="54.20" y="269.20" width="0.80" height="0.80" fill="#e8261e"/><rect x="54.95" y="269.20" width="0.80" height="0.80" fill="#e8261e"/><rect x="55.70" y="269.20" width="0.80" height="0.80" fill="#e8261e"/><rect x="56.45" y="269.20" width="0.80" height="0.80" fill="#e8261e"/><rect x="57.20" y="269.20" width="0.80" height="0.80" fill="#e8261e"/><rect x="57.95" y="269.20" width="0.80" height="0.80" fill="#f3951e"/><rect x="58.70" y="269.20" width="0.80" height="0.80" fill="#e0d83a"/><rect x="59.45" y="269.20" width="0.80" height="0.80" fill="#46b04a"/><rect x="60.20" y="269.20" width="0.80" height="0.80" fill="#46b04a"/><rect x="60.95" y="269.20" width="0.80" height="0.80" fill="#3a9a8c"/><rect x="61.70" y="269.20" width="0.80" height="0.80" fill="#46b04a"/><rect x="46.70" y="269.95" width="0.80" height="0.80" fill="#3550b8"/><rect x="48.20" y="269.95" width="0.80" height="0.80" fill="#3a9a8c"/><rect x="48.95" y="269.95" width="0.80" height="0.80" fill="#3a9fb5"/><rect x="49.70" y="269.95" width="0.80" height="0.80" fill="#3a9fb5"/><rect x="50.45" y="269.95" width="0.80" height="0.80" fill="#46b04a"/><rect x="51.20" y="269.95" width="0.80" height="0.80" fill="#46b04a"/><rect x="51.95" y="269.95" width="0.80" height="0.80" fill="#46b04a"/><rect x="52.70" y="269.95" width="0.80" height="0.80" fill="#e0d83a"/><rect x="53.45" y="269.95" width="0.80" height="0.80" fill="#e0d83a"/><rect x="54.20" y="269.95" width="0.80" height="0.80" fill="#f3951e"/><rect x="54.95" y="269.95" width="0.80" height="0.80" fill="#f3951e"/><rect x="55.70" y="269.95" width="0.80" height="0.80" fill="#f3951e"/><rect x="56.45" y="269.95" width="0.80" height="0.80" fill="#f3951e"/><rect x="57.20" y="269.95" width="0.80" height="0.80" fill="#f3951e"/><rect x="57.95" y="269.95" width="0.80" height="0.80" fill="#e0d83a"/><rect x="58.70" y="269.95" width="0.80" height="0.80" fill="#e0d83a"/><rect x="59.45" y="269.95" width="0.80" height="0.80" fill="#46b04a"/><rect x="60.20" y="269.95" width="0.80" height="0.80" fill="#3a9a8c"/><rect x="60.95" y="269.95" width="0.80" height="0.80" fill="#3a9a8c"/><rect x="61.70" y="269.95" width="0.80" height="0.80" fill="#3550b8"/><rect x="62.45" y="269.95" width="0.80" height="0.80" fill="#3a9fb5"/><rect x="48.20" y="270.70" width="0.80" height="0.80" fill="#3a9a8c"/><rect x="48.95" y="270.70" width="0.80" height="0.80" fill="#3a9a8c"/><rect x="49.70" y="270.70" width="0.80" height="0.80" fill="#3550b8"/><rect x="50.45" y="270.70" width="0.80" height="0.80" fill="#3a9fb5"/><rect x="51.20" y="270.70" width="0.80" height="0.80" fill="#3a9a8c"/><rect x="51.95" y="270.70" width="0.80" height="0.80" fill="#46b04a"/><rect x="52.70" y="270.70" width="0.80" height="0.80" fill="#46b04a"/><rect x="53.45" y="270.70" width="0.80" height="0.80" fill="#e0d83a"/><rect x="54.20" y="270.70" width="0.80" height="0.80" fill="#e0d83a"/><rect x="54.95" y="270.70" width="0.80" height="0.80" fill="#f3951e"/><rect x="55.70" y="270.70" width="0.80" height="0.80" fill="#f3951e"/><rect x="56.45" y="270.70" width="0.80" height="0.80" fill="#f3951e"/><rect x="57.20" y="270.70" width="0.80" height="0.80" fill="#e0d83a"/><rect x="57.95" y="270.70" width="0.80" height="0.80" fill="#e0d83a"/><rect x="58.70" y="270.70" width="0.80" height="0.80" fill="#46b04a"/><rect x="59.45" y="270.70" width="0.80" height="0.80" fill="#46b04a"/><rect x="60.20" y="270.70" width="0.80" height="0.80" fill="#3a9fb5"/><rect x="60.95" y="270.70" width="0.80" height="0.80" fill="#3a9fb5"/><rect x="61.70" y="270.70" width="0.80" height="0.80" fill="#3550b8"/><rect x="62.45" y="270.70" width="0.80" height="0.80" fill="#3550b8"/><rect x="48.20" y="271.45" width="0.80" height="0.80" fill="#3a9fb5"/><rect x="48.95" y="271.45" width="0.80" height="0.80" fill="#3a9fb5"/><rect x="49.70" y="271.45" width="0.80" height="0.80" fill="#3a9fb5"/><rect x="50.45" y="271.45" width="0.80" height="0.80" fill="#3a9fb5"/><rect x="51.20" y="271.45" width="0.80" height="0.80" fill="#3a9fb5"/><rect x="51.95" y="271.45" width="0.80" height="0.80" fill="#46b04a"/><rect x="52.70" y="271.45" width="0.80" height="0.80" fill="#46b04a"/><rect x="53.45" y="271.45" width="0.80" height="0.80" fill="#46b04a"/><rect x="54.20" y="271.45" width="0.80" height="0.80" fill="#46b04a"/><rect x="54.95" y="271.45" width="0.80" height="0.80" fill="#e0d83a"/><rect x="55.70" y="271.45" width="0.80" height="0.80" fill="#e0d83a"/><rect x="56.45" y="271.45" width="0.80" height="0.80" fill="#e0d83a"/><rect x="57.20" y="271.45" width="0.80" height="0.80" fill="#e0d83a"/><rect x="57.95" y="271.45" width="0.80" height="0.80" fill="#46b04a"/><rect x="58.70" y="271.45" width="0.80" height="0.80" fill="#46b04a"/><rect x="59.45" y="271.45" width="0.80" height="0.80" fill="#3a9fb5"/><rect x="60.20" y="271.45" width="0.80" height="0.80" fill="#3a9fb5"/><rect x="60.95" y="271.45" width="0.80" height="0.80" fill="#3a9fb5"/><rect x="61.70" y="271.45" width="0.80" height="0.80" fill="#3a9fb5"/><rect x="49.70" y="272.20" width="0.80" height="0.80" fill="#3a9fb5"/><rect x="50.45" y="272.20" width="0.80" height="0.80" fill="#3550b8"/><rect x="51.20" y="272.20" width="0.80" height="0.80" fill="#3a9a8c"/><rect x="51.95" y="272.20" width="0.80" height="0.80" fill="#46b04a"/><rect x="52.70" y="272.20" width="0.80" height="0.80" fill="#3a9a8c"/><rect x="53.45" y="272.20" width="0.80" height="0.80" fill="#46b04a"/><rect x="54.20" y="272.20" width="0.80" height="0.80" fill="#46b04a"/><rect x="54.95" y="272.20" width="0.80" height="0.80" fill="#46b04a"/><rect x="55.70" y="272.20" width="0.80" height="0.80" fill="#e0d83a"/><rect x="56.45" y="272.20" width="0.80" height="0.80" fill="#e0d83a"/><rect x="57.20" y="272.20" width="0.80" height="0.80" fill="#46b04a"/><rect x="57.95" y="272.20" width="0.80" height="0.80" fill="#46b04a"/><rect x="58.70" y="272.20" width="0.80" height="0.80" fill="#46b04a"/><rect x="59.45" y="272.20" width="0.80" height="0.80" fill="#3a9fb5"/><rect x="60.20" y="272.20" width="0.80" height="0.80" fill="#3a9a8c"/><rect x="60.95" y="272.20" width="0.80" height="0.80" fill="#3a9fb5"/><rect x="61.70" y="272.20" width="0.80" height="0.80" fill="#3550b8"/><rect x="50.45" y="272.95" width="0.80" height="0.80" fill="#3550b8"/><rect x="51.20" y="272.95" width="0.80" height="0.80" fill="#3550b8"/><rect x="51.95" y="272.95" width="0.80" height="0.80" fill="#3a9fb5"/><rect x="52.70" y="272.95" width="0.80" height="0.80" fill="#3a9a8c"/><rect x="53.45" y="272.95" width="0.80" height="0.80" fill="#3a9fb5"/><rect x="54.20" y="272.95" width="0.80" height="0.80" fill="#46b04a"/><rect x="54.95" y="272.95" width="0.80" height="0.80" fill="#46b04a"/><rect x="55.70" y="272.95" width="0.80" height="0.80" fill="#46b04a"/><rect x="56.45" y="272.95" width="0.80" height="0.80" fill="#46b04a"/><rect x="57.20" y="272.95" width="0.80" height="0.80" fill="#46b04a"/><rect x="57.95" y="272.95" width="0.80" height="0.80" fill="#46b04a"/><rect x="58.70" y="272.95" width="0.80" height="0.80" fill="#3a9a8c"/><rect x="59.45" y="272.95" width="0.80" height="0.80" fill="#3a9fb5"/><rect x="60.20" y="272.95" width="0.80" height="0.80" fill="#3a9fb5"/><rect x="60.95" y="272.95" width="0.80" height="0.80" fill="#3550b8"/><rect x="61.70" y="272.95" width="0.80" height="0.80" fill="#3a9fb5"/><rect x="62.45" y="272.95" width="0.80" height="0.80" fill="#3a9fb5"/><rect x="48.95" y="273.70" width="0.80" height="0.80" fill="#3550b8"/><rect x="49.70" y="273.70" width="0.80" height="0.80" fill="#3550b8"/><rect x="50.45" y="273.70" width="0.80" height="0.80" fill="#3a9fb5"/><rect x="51.20" y="273.70" width="0.80" height="0.80" fill="#3a9fb5"/><rect x="51.95" y="273.70" width="0.80" height="0.80" fill="#3a9a8c"/><rect x="52.70" y="273.70" width="0.80" height="0.80" fill="#3a9fb5"/><rect x="53.45" y="273.70" width="0.80" height="0.80" fill="#3a9fb5"/><rect x="54.20" y="273.70" width="0.80" height="0.80" fill="#3a9a8c"/><rect x="54.95" y="273.70" width="0.80" height="0.80" fill="#46b04a"/><rect x="55.70" y="273.70" width="0.80" height="0.80" fill="#46b04a"/><rect x="56.45" y="273.70" width="0.80" height="0.80" fill="#46b04a"/><rect x="57.20" y="273.70" width="0.80" height="0.80" fill="#46b04a"/><rect x="57.95" y="273.70" width="0.80" height="0.80" fill="#46b04a"/><rect x="58.70" y="273.70" width="0.80" height="0.80" fill="#3a9a8c"/><rect x="59.45" y="273.70" width="0.80" height="0.80" fill="#46b04a"/><rect x="60.20" y="273.70" width="0.80" height="0.80" fill="#3a9fb5"/><rect x="60.95" y="273.70" width="0.80" height="0.80" fill="#3550b8"/><rect x="63.95" y="273.70" width="0.80" height="0.80" fill="#3a9fb5"/><rect x="50.45" y="274.45" width="0.80" height="0.80" fill="#3a9fb5"/><rect x="51.20" y="274.45" width="0.80" height="0.80" fill="#3550b8"/><rect x="51.95" y="274.45" width="0.80" height="0.80" fill="#3a9fb5"/><rect x="52.70" y="274.45" width="0.80" height="0.80" fill="#3a9fb5"/><rect x="53.45" y="274.45" width="0.80" height="0.80" fill="#3a9a8c"/><rect x="54.20" y="274.45" width="0.80" height="0.80" fill="#3a9a8c"/><rect x="54.95" y="274.45" width="0.80" height="0.80" fill="#46b04a"/><rect x="55.70" y="274.45" width="0.80" height="0.80" fill="#46b04a"/><rect x="56.45" y="274.45" width="0.80" height="0.80" fill="#46b04a"/><rect x="57.20" y="274.45" width="0.80" height="0.80" fill="#46b04a"/><rect x="57.95" y="274.45" width="0.80" height="0.80" fill="#3a9fb5"/><rect x="58.70" y="274.45" width="0.80" height="0.80" fill="#3a9a8c"/><rect x="59.45" y="274.45" width="0.80" height="0.80" fill="#3a9fb5"/><rect x="60.95" y="274.45" width="0.80" height="0.80" fill="#3a9fb5"/><rect x="47.45" y="275.20" width="0.80" height="0.80" fill="#3a9fb5"/><rect x="48.20" y="275.20" width="0.80" height="0.80" fill="#3550b8"/><rect x="51.95" y="275.20" width="0.80" height="0.80" fill="#3a9fb5"/><rect x="52.70" y="275.20" width="0.80" height="0.80" fill="#3a9fb5"/><rect x="53.45" y="275.20" width="0.80" height="0.80" fill="#3a9fb5"/><rect x="54.20" y="275.20" width="0.80" height="0.80" fill="#3a9fb5"/><rect x="54.95" y="275.20" width="0.80" height="0.80" fill="#3a9fb5"/><rect x="55.70" y="275.20" width="0.80" height="0.80" fill="#46b04a"/><rect x="56.45" y="275.20" width="0.80" height="0.80" fill="#46b04a"/><rect x="57.20" y="275.20" width="0.80" height="0.80" fill="#46b04a"/><rect x="57.95" y="275.20" width="0.80" height="0.80" fill="#3a9fb5"/><rect x="58.70" y="275.20" width="0.80" height="0.80" fill="#3a9fb5"/><rect x="59.45" y="275.20" width="0.80" height="0.80" fill="#3550b8"/><rect x="52.70" y="275.95" width="0.80" height="0.80" fill="#3550b8"/><rect x="53.45" y="275.95" width="0.80" height="0.80" fill="#3a9a8c"/><rect x="54.20" y="275.95" width="0.80" height="0.80" fill="#46b04a"/><rect x="54.95" y="275.95" width="0.80" height="0.80" fill="#46b04a"/><rect x="55.70" y="275.95" width="0.80" height="0.80" fill="#3a9a8c"/><rect x="56.45" y="275.95" width="0.80" height="0.80" fill="#3a9a8c"/><rect x="57.20" y="275.95" width="0.80" height="0.80" fill="#46b04a"/><rect x="57.95" y="275.95" width="0.80" height="0.80" fill="#3a9fb5"/><rect x="59.45" y="275.95" width="0.80" height="0.80" fill="#3a9a8c"/><rect x="53.45" y="276.70" width="0.80" height="0.80" fill="#3550b8"/><rect x="54.20" y="276.70" width="0.80" height="0.80" fill="#3a9fb5"/><rect x="54.95" y="276.70" width="0.80" height="0.80" fill="#46b04a"/><rect x="55.70" y="276.70" width="0.80" height="0.80" fill="#46b04a"/><rect x="56.45" y="276.70" width="0.80" height="0.80" fill="#46b04a"/><rect x="57.20" y="276.70" width="0.80" height="0.80" fill="#3a9fb5"/><rect x="57.95" y="276.70" width="0.80" height="0.80" fill="#3a9a8c"/><rect x="58.70" y="276.70" width="0.80" height="0.80" fill="#3550b8"/><rect x="59.45" y="276.70" width="0.80" height="0.80" fill="#3a9fb5"/><rect x="60.20" y="276.70" width="0.80" height="0.80" fill="#3550b8"/><rect x="52.70" y="277.45" width="0.80" height="0.80" fill="#3a9fb5"/><rect x="53.45" y="277.45" width="0.80" height="0.80" fill="#3a9fb5"/><rect x="54.20" y="277.45" width="0.80" height="0.80" fill="#3a9fb5"/><rect x="54.95" y="277.45" width="0.80" height="0.80" fill="#3a9fb5"/><rect x="56.45" y="277.45" width="0.80" height="0.80" fill="#3a9fb5"/><rect x="57.20" y="277.45" width="0.80" height="0.80" fill="#3a9fb5"/><rect x="57.95" y="277.45" width="0.80" height="0.80" fill="#3a9a8c"/><rect x="59.45" y="277.45" width="0.80" height="0.80" fill="#3550b8"/><rect x="52.70" y="278.20" width="0.80" height="0.80" fill="#3550b8"/><rect x="54.20" y="278.20" width="0.80" height="0.80" fill="#3a9a8c"/><rect x="54.95" y="278.20" width="0.80" height="0.80" fill="#3a9a8c"/><rect x="55.70" y="278.20" width="0.80" height="0.80" fill="#3a9a8c"/><rect x="56.45" y="278.20" width="0.80" height="0.80" fill="#3a9fb5"/><rect x="57.20" y="278.20" width="0.80" height="0.80" fill="#3550b8"/><rect x="58.70" y="278.20" width="0.80" height="0.80" fill="#3a9fb5"/><rect x="54.95" y="278.95" width="0.80" height="0.80" fill="#3550b8"/><rect x="55.70" y="278.95" width="0.80" height="0.80" fill="#3a9fb5"/><rect x="56.45" y="278.95" width="0.80" height="0.80" fill="#3a9a8c"/><rect x="57.20" y="278.95" width="0.80" height="0.80" fill="#3a9fb5"/><rect x="57.95" y="278.95" width="0.80" height="0.80" fill="#3a9fb5"/><rect x="58.70" y="278.95" width="0.80" height="0.80" fill="#3550b8"/><rect x="59.45" y="278.95" width="0.80" height="0.80" fill="#3550b8"/><rect x="57.20" y="279.70" width="0.80" height="0.80" fill="#3550b8"/><rect x="56.45" y="281.20" width="0.80" height="0.80" fill="#3550b8"/><rect x="56.45" y="281.95" width="0.80" height="0.80" fill="#3550b8"/></g>
<rect x="41.60" y="232.60" width="53.40" height="55.60" fill="none" stroke="#8592a8" stroke-width="0.75"/>
<text x="39.20" y="288.50" font-size="4.5" text-anchor="end" fill="#484848">10<tspan font-size="2.93" dy="-1.6">0</tspan></text>
<text x="39.20" y="278.90" font-size="4.5" text-anchor="end" fill="#484848">10<tspan font-size="2.93" dy="-1.6">1</tspan></text>
<text x="39.20" y="269.30" font-size="4.5" text-anchor="end" fill="#484848">10<tspan font-size="2.93" dy="-1.6">2</tspan></text>
<text x="39.20" y="259.70" font-size="4.5" text-anchor="end" fill="#484848">10<tspan font-size="2.93" dy="-1.6">3</tspan></text>
<text x="39.20" y="250.10" font-size="4.5" text-anchor="end" fill="#484848">10<tspan font-size="2.93" dy="-1.6">4</tspan></text>
<text x="39.20" y="240.50" font-size="4.5" text-anchor="end" fill="#484848">10<tspan font-size="2.93" dy="-1.6">5</tspan></text>
<text x="41.80" y="295.50" font-size="4.5" text-anchor="middle" fill="#484848">10<tspan font-size="2.93" dy="-1.6">0</tspan></text>
<text x="52.90" y="295.50" font-size="4.5" text-anchor="middle" fill="#484848">10<tspan font-size="2.93" dy="-1.6">1</tspan></text>
<text x="64.00" y="295.50" font-size="4.5" text-anchor="middle" fill="#484848">10<tspan font-size="2.93" dy="-1.6">2</tspan></text>
<text x="75.10" y="295.50" font-size="4.5" text-anchor="middle" fill="#484848">10<tspan font-size="2.93" dy="-1.6">3</tspan></text>
<text x="86.20" y="295.50" font-size="4.5" text-anchor="middle" fill="#484848">10<tspan font-size="2.93" dy="-1.6">4</tspan></text>
<text x="43.10" y="238.20" font-size="5.65" text-anchor="start" fill="#e4302c" stroke="#e4302c" stroke-width="0.1" textLength="13.00" lengthAdjust="spacingAndGlyphs">1.11%</text>
<text x="76.80" y="238.20" font-size="5.65" text-anchor="start" fill="#e4302c" stroke="#e4302c" stroke-width="0.1" textLength="14.70" lengthAdjust="spacingAndGlyphs">1.24%</text>
<text x="76.80" y="284.80" font-size="5.65" text-anchor="start" fill="#e4302c" stroke="#e4302c" stroke-width="0.1" textLength="14.70" lengthAdjust="spacingAndGlyphs">3.93%</text>
<text x="41.90" y="287.20" font-size="5.65" text-anchor="start" fill="#222" stroke="#222" stroke-width="0.1" textLength="13.10" lengthAdjust="spacingAndGlyphs">93.71%</text>
<text x="67.70" y="228.30" font-size="6.67" text-anchor="middle" fill="#222" stroke="#222" stroke-width="0.05" textLength="18.10" lengthAdjust="spacingAndGlyphs">Vehicle</text>
<rect x="111.20" y="233.30" width="53.60" height="54.80" fill="#fff"/>
<line x1="133.20" y1="233.30" x2="133.20" y2="288.10" stroke="#b4b4b4" stroke-width="0.8"/>
<line x1="111.20" y1="261.20" x2="161.80" y2="261.20" stroke="#b4b4b4" stroke-width="0.8"/>
<g filter="url(#bl3)"><rect x="130.55" y="249.65" width="0.80" height="0.80" fill="#3550b8"/><rect x="132.05" y="250.40" width="0.80" height="0.80" fill="#3a9fb5"/><rect x="133.55" y="250.40" width="0.80" height="0.80" fill="#3550b8"/><rect x="138.05" y="250.40" width="0.80" height="0.80" fill="#3550b8"/><rect x="138.80" y="250.40" width="0.80" height="0.80" fill="#3550b8"/><rect x="131.30" y="251.15" width="0.80" height="0.80" fill="#3550b8"/><rect x="134.30" y="251.15" width="0.80" height="0.80" fill="#3a9fb5"/><rect x="139.55" y="251.15" width="0.80" height="0.80" fill="#3550b8"/><rect x="127.55" y="251.90" width="0.80" height="0.80" fill="#3550b8"/><rect x="132.80" y="251.90" width="0.80" height="0.80" fill="#3550b8"/><rect x="133.55" y="251.90" width="0.80" height="0.80" fill="#3a9a8c"/><rect x="134.30" y="251.90" width="0.80" height="0.80" fill="#3550b8"/><rect x="135.80" y="251.90" width="0.80" height="0.80" fill="#3550b8"/><rect x="136.55" y="251.90" width="0.80" height="0.80" fill="#3550b8"/><rect x="131.30" y="252.65" width="0.80" height="0.80" fill="#3a9fb5"/><rect x="132.05" y="252.65" width="0.80" height="0.80" fill="#3a9a8c"/><rect x="132.80" y="252.65" width="0.80" height="0.80" fill="#3a9a8c"/><rect x="133.55" y="252.65" width="0.80" height="0.80" fill="#3a9a8c"/><rect x="134.30" y="252.65" width="0.80" height="0.80" fill="#3a9a8c"/><rect x="135.05" y="252.65" width="0.80" height="0.80" fill="#3a9fb5"/><rect x="135.80" y="252.65" width="0.80" height="0.80" fill="#3a9fb5"/><rect x="136.55" y="252.65" width="0.80" height="0.80" fill="#3a9a8c"/><rect x="138.05" y="252.65" width="0.80" height="0.80" fill="#3550b8"/><rect x="124.55" y="253.40" width="0.80" height="0.80" fill="#3550b8"/><rect x="130.55" y="253.40" width="0.80" height="0.80" fill="#3a9fb5"/><rect x="131.30" y="253.40" width="0.80" height="0.80" fill="#3a9a8c"/><rect x="132.05" y="253.40" width="0.80" height="0.80" fill="#3550b8"/><rect x="132.80" y="253.40" width="0.80" height="0.80" fill="#3550b8"/><rect x="133.55" y="253.40" width="0.80" height="0.80" fill="#3550b8"/><rect x="134.30" y="253.40" width="0.80" height="0.80" fill="#3550b8"/><rect x="135.05" y="253.40" width="0.80" height="0.80" fill="#3a9fb5"/><rect x="136.55" y="253.40" width="0.80" height="0.80" fill="#3a9a8c"/><rect x="137.30" y="253.40" width="0.80" height="0.80" fill="#3a9fb5"/><rect x="138.05" y="253.40" width="0.80" height="0.80" fill="#3a9fb5"/><rect x="139.55" y="253.40" width="0.80" height="0.80" fill="#3a9fb5"/><rect x="126.80" y="254.15" width="0.80" height="0.80" fill="#3550b8"/><rect x="128.30" y="254.15" width="0.80" height="0.80" fill="#3a9fb5"/><rect x="129.05" y="254.15" width="0.80" height="0.80" fill="#3a9fb5"/><rect x="129.80" y="254.15" width="0.80" height="0.80" fill="#3550b8"/><rect x="131.30" y="254.15" width="0.80" height="0.80" fill="#3a9fb5"/><rect x="132.05" y="254.15" width="0.80" height="0.80" fill="#46b04a"/><rect x="132.80" y="254.15" width="0.80" height="0.80" fill="#46b04a"/><rect x="133.55" y="254.15" width="0.80" height="0.80" fill="#3a9a8c"/><rect x="134.30" y="254.15" width="0.80" height="0.80" fill="#46b04a"/><rect x="135.05" y="254.15" width="0.80" height="0.80" fill="#3a9fb5"/><rect x="135.80" y="254.15" width="0.80" height="0.80" fill="#3a9a8c"/><rect x="137.30" y="254.15" width="0.80" height="0.80" fill="#3550b8"/><rect x="138.05" y="254.15" width="0.80" height="0.80" fill="#3550b8"/><rect x="138.80" y="254.15" width="0.80" height="0.80" fill="#3a9a8c"/><rect x="139.55" y="254.15" width="0.80" height="0.80" fill="#3a9fb5"/><rect x="128.30" y="254.90" width="0.80" height="0.80" fill="#3550b8"/><rect x="129.05" y="254.90" width="0.80" height="0.80" fill="#3550b8"/><rect x="129.80" y="254.90" width="0.80" height="0.80" fill="#3a9fb5"/><rect x="130.55" y="254.90" width="0.80" height="0.80" fill="#3a9a8c"/><rect x="131.30" y="254.90" width="0.80" height="0.80" fill="#3a9fb5"/><rect x="132.05" y="254.90" width="0.80" height="0.80" fill="#46b04a"/><rect x="132.80" y="254.90" width="0.80" height="0.80" fill="#3a9a8c"/><rect x="133.55" y="254.90" width="0.80" height="0.80" fill="#3a9a8c"/><rect x="134.30" y="254.90" width="0.80" height="0.80" fill="#3a9fb5"/><rect x="135.05" y="254.90" width="0.80" height="0.80" fill="#3a9a8c"/><rect x="135.80" y="254.90" width="0.80" height="0.80" fill="#3a9fb5"/><rect x="136.55" y="254.90" width="0.80" height="0.80" fill="#46b04a"/><rect x="137.30" y="254.90" width="0.80" height="0.80" fill="#3a9fb5"/><rect x="138.05" y="254.90" width="0.80" height="0.80" fill="#3a9fb5"/><rect x="138.80" y="254.90" width="0.80" height="0.80" fill="#3550b8"/><rect x="139.55" y="254.90" width="0.80" height="0.80" fill="#3550b8"/><rect x="141.80" y="254.90" width="0.80" height="0.80" fill="#3550b8"/><rect x="142.55" y="254.90" width="0.80" height="0.80" fill="#3550b8"/><rect x="143.30" y="254.90" width="0.80" height="0.80" fill="#3550b8"/><rect x="128.30" y="255.65" width="0.80" height="0.80" fill="#3a9a8c"/><rect x="129.05" y="255.65" width="0.80" height="0.80" fill="#3a9a8c"/><rect x="129.80" y="255.65" width="0.80" height="0.80" fill="#3a9fb5"/><rect x="130.55" y="255.65" width="0.80" height="0.80" fill="#46b04a"/><rect x="131.30" y="255.65" width="0.80" height="0.80" fill="#3a9fb5"/><rect x="132.05" y="255.65" width="0.80" height="0.80" fill="#46b04a"/><rect x="132.80" y="255.65" width="0.80" height="0.80" fill="#46b04a"/><rect x="133.55" y="255.65" width="0.80" height="0.80" fill="#46b04a"/><rect x="134.30" y="255.65" width="0.80" height="0.80" fill="#46b04a"/><rect x="135.05" y="255.65" width="0.80" height="0.80" fill="#46b04a"/><rect x="135.80" y="255.65" width="0.80" height="0.80" fill="#46b04a"/><rect x="136.55" y="255.65" width="0.80" height="0.80" fill="#3a9fb5"/><rect x="137.30" y="255.65" width="0.80" height="0.80" fill="#3a9fb5"/><rect x="138.05" y="255.65" width="0.80" height="0.80" fill="#3550b8"/><rect x="138.80" y="255.65" width="0.80" height="0.80" fill="#3550b8"/><rect x="139.55" y="255.65" width="0.80" height="0.80" fill="#3a9a8c"/><rect x="121.55" y="256.40" width="0.80" height="0.80" fill="#3550b8"/><rect x="124.55" y="256.40" width="0.80" height="0.80" fill="#3550b8"/><rect x="125.30" y="256.40" width="0.80" height="0.80" fill="#3550b8"/><rect x="127.55" y="256.40" width="0.80" height="0.80" fill="#3a9fb5"/><rect x="129.05" y="256.40" width="0.80" height="0.80" fill="#3a9a8c"/><rect x="129.80" y="256.40" width="0.80" height="0.80" fill="#3a9a8c"/><rect x="130.55" y="256.40" width="0.80" height="0.80" fill="#3a9fb5"/><rect x="131.30" y="256.40" width="0.80" height="0.80" fill="#46b04a"/><rect x="132.05" y="256.40" width="0.80" height="0.80" fill="#46b04a"/><rect x="132.80" y="256.40" width="0.80" height="0.80" fill="#46b04a"/><rect x="133.55" y="256.40" width="0.80" height="0.80" fill="#e0d83a"/><rect x="134.30" y="256.40" width="0.80" height="0.80" fill="#e0d83a"/><rect x="135.05" y="256.40" width="0.80" height="0.80" fill="#46b04a"/><rect x="135.80" y="256.40" width="0.80" height="0.80" fill="#46b04a"/><rect x="136.55" y="256.40" width="0.80" height="0.80" fill="#46b04a"/><rect x="137.30" y="256.40" width="0.80" height="0.80" fill="#46b04a"/><rect x="138.05" y="256.40" width="0.80" height="0.80" fill="#46b04a"/><rect x="138.80" y="256.40" width="0.80" height="0.80" fill="#3550b8"/><rect x="139.55" y="256.40" width="0.80" height="0.80" fill="#3a9fb5"/><rect x="126.80" y="257.15" width="0.80" height="0.80" fill="#3a9fb5"/><rect x="127.55" y="257.15" width="0.80" height="0.80" fill="#3550b8"/><rect x="128.30" y="257.15" width="0.80" height="0.80" fill="#3a9fb5"/><rect x="129.05" y="257.15" width="0.80" height="0.80" fill="#3a9a8c"/><rect x="129.80" y="257.15" width="0.80" height="0.80" fill="#3a9a8c"/><rect x="130.55" y="257.15" width="0.80" height="0.80" fill="#46b04a"/><rect x="131.30" y="257.15" width="0.80" height="0.80" fill="#46b04a"/><rect x="132.05" y="257.15" width="0.80" height="0.80" fill="#46b04a"/><rect x="132.80" y="257.15" width="0.80" height="0.80" fill="#e0d83a"/><rect x="133.55" y="257.15" width="0.80" height="0.80" fill="#e0d83a"/><rect x="134.30" y="257.15" width="0.80" height="0.80" fill="#e0d83a"/><rect x="135.05" y="257.15" width="0.80" height="0.80" fill="#e0d83a"/><rect x="135.80" y="257.15" width="0.80" height="0.80" fill="#e0d83a"/><rect x="136.55" y="257.15" width="0.80" height="0.80" fill="#46b04a"/><rect x="137.30" y="257.15" width="0.80" height="0.80" fill="#46b04a"/><rect x="138.05" y="257.15" width="0.80" height="0.80" fill="#3a9fb5"/><rect x="138.80" y="257.15" width="0.80" height="0.80" fill="#3a9fb5"/><rect x="139.55" y="257.15" width="0.80" height="0.80" fill="#3a9fb5"/><rect x="140.30" y="257.15" width="0.80" height="0.80" fill="#3a9fb5"/><rect x="122.30" y="257.90" width="0.80" height="0.80" fill="#3550b8"/><rect x="123.05" y="257.90" width="0.80" height="0.80" fill="#3550b8"/><rect x="124.55" y="257.90" width="0.80" height="0.80" fill="#3550b8"/><rect x="126.80" y="257.90" width="0.80" height="0.80" fill="#3550b8"/><rect x="127.55" y="257.90" width="0.80" height="0.80" fill="#3550b8"/><rect x="129.05" y="257.90" width="0.80" height="0.80" fill="#3a9a8c"/><rect x="129.80" y="257.90" width="0.80" height="0.80" fill="#3a9fb5"/><rect x="130.55" y="257.90" width="0.80" height="0.80" fill="#46b04a"/><rect x="131.30" y="257.90" width="0.80" height="0.80" fill="#46b04a"/><rect x="132.05" y="257.90" width="0.80" height="0.80" fill="#e0d83a"/><rect x="132.80" y="257.90" width="0.80" height="0.80" fill="#e0d83a"/><rect x="133.55" y="257.90" width="0.80" height="0.80" fill="#f3951e"/><rect x="134.30" y="257.90" width="0.80" height="0.80" fill="#f3951e"/><rect x="135.05" y="257.90" width="0.80" height="0.80" fill="#e0d83a"/><rect x="135.80" y="257.90" width="0.80" height="0.80" fill="#e0d83a"/><rect x="136.55" y="257.90" width="0.80" height="0.80" fill="#46b04a"/><rect x="137.30" y="257.90" width="0.80" height="0.80" fill="#46b04a"/><rect x="138.05" y="257.90" width="0.80" height="0.80" fill="#3a9fb5"/><rect x="138.80" y="257.90" width="0.80" height="0.80" fill="#3a9a8c"/><rect x="139.55" y="257.90" width="0.80" height="0.80" fill="#3550b8"/><rect x="141.80" y="257.90" width="0.80" height="0.80" fill="#3550b8"/><rect x="124.55" y="258.65" width="0.80" height="0.80" fill="#3a9fb5"/><rect x="125.30" y="258.65" width="0.80" height="0.80" fill="#3a9fb5"/><rect x="126.05" y="258.65" width="0.80" height="0.80" fill="#3a9fb5"/><rect x="126.80" y="258.65" width="0.80" height="0.80" fill="#3a9a8c"/><rect x="127.55" y="258.65" width="0.80" height="0.80" fill="#3a9fb5"/><rect x="128.30" y="258.65" width="0.80" height="0.80" fill="#3a9fb5"/><rect x="129.05" y="258.65" width="0.80" height="0.80" fill="#46b04a"/><rect x="129.80" y="258.65" width="0.80" height="0.80" fill="#46b04a"/><rect x="130.55" y="258.65" width="0.80" height="0.80" fill="#46b04a"/><rect x="131.30" y="258.65" width="0.80" height="0.80" fill="#46b04a"/><rect x="132.05" y="258.65" width="0.80" height="0.80" fill="#e0d83a"/><rect x="132.80" y="258.65" width="0.80" height="0.80" fill="#f3951e"/><rect x="133.55" y="258.65" width="0.80" height="0.80" fill="#f3951e"/><rect x="134.30" y="258.65" width="0.80" height="0.80" fill="#f3951e"/><rect x="135.05" y="258.65" width="0.80" height="0.80" fill="#f3951e"/><rect x="135.80" y="258.65" width="0.80" height="0.80" fill="#e0d83a"/><rect x="136.55" y="258.65" width="0.80" height="0.80" fill="#e0d83a"/><rect x="137.30" y="258.65" width="0.80" height="0.80" fill="#46b04a"/><rect x="138.05" y="258.65" width="0.80" height="0.80" fill="#3a9fb5"/><rect x="138.80" y="258.65" width="0.80" height="0.80" fill="#3a9fb5"/><rect x="139.55" y="258.65" width="0.80" height="0.80" fill="#3a9fb5"/><rect x="140.30" y="258.65" width="0.80" height="0.80" fill="#3a9a8c"/><rect x="120.05" y="259.40" width="0.80" height="0.80" fill="#3550b8"/><rect x="123.05" y="259.40" width="0.80" height="0.80" fill="#3a9a8c"/><rect x="123.80" y="259.40" width="0.80" height="0.80" fill="#3a9fb5"/><rect x="125.30" y="259.40" width="0.80" height="0.80" fill="#3a9fb5"/><rect x="126.80" y="259.40" width="0.80" height="0.80" fill="#3a9fb5"/><rect x="127.55" y="259.40" width="0.80" height="0.80" fill="#3550b8"/><rect x="128.30" y="259.40" width="0.80" height="0.80" fill="#3a9fb5"/><rect x="129.05" y="259.40" width="0.80" height="0.80" fill="#3a9fb5"/><rect x="129.80" y="259.40" width="0.80" height="0.80" fill="#3a9fb5"/><rect x="130.55" y="259.40" width="0.80" height="0.80" fill="#46b04a"/><rect x="131.30" y="259.40" width="0.80" height="0.80" fill="#e0d83a"/><rect x="132.05" y="259.40" width="0.80" height="0.80" fill="#e0d83a"/><rect x="132.80" y="259.40" width="0.80" height="0.80" fill="#f3951e"/><rect x="133.55" y="259.40" width="0.80" height="0.80" fill="#f3951e"/><rect x="134.30" y="259.40" width="0.80" height="0.80" fill="#f3951e"/><rect x="135.05" y="259.40" width="0.80" height="0.80" fill="#f3951e"/><rect x="135.80" y="259.40" width="0.80" height="0.80" fill="#e0d83a"/><rect x="136.55" y="259.40" width="0.80" height="0.80" fill="#e0d83a"/><rect x="137.30" y="259.40" width="0.80" height="0.80" fill="#46b04a"/><rect x="138.05" y="259.40" width="0.80" height="0.80" fill="#3a9a8c"/><rect x="138.80" y="259.40" width="0.80" height="0.80" fill="#46b04a"/><rect x="139.55" y="259.40" width="0.80" height="0.80" fill="#3a9a8c"/><rect x="141.80" y="259.40" width="0.80" height="0.80" fill="#3550b8"/><rect x="144.05" y="259.40" width="0.80" height="0.80" fill="#3550b8"/><rect x="121.55" y="260.15" width="0.80" height="0.80" fill="#3a9fb5"/><rect x="122.30" y="260.15" width="0.80" height="0.80" fill="#3a9a8c"/><rect x="123.05" y="260.15" width="0.80" height="0.80" fill="#3a9a8c"/><rect x="124.55" y="260.15" width="0.80" height="0.80" fill="#3550b8"/><rect x="125.30" y="260.15" width="0.80" height="0.80" fill="#3550b8"/><rect x="126.05" y="260.15" width="0.80" height="0.80" fill="#3a9a8c"/><rect x="126.80" y="260.15" width="0.80" height="0.80" fill="#3a9fb5"/><rect x="127.55" y="260.15" width="0.80" height="0.80" fill="#3a9a8c"/><rect x="128.30" y="260.15" width="0.80" height="0.80" fill="#3a9a8c"/><rect x="129.05" y="260.15" width="0.80" height="0.80" fill="#46b04a"/><rect x="129.80" y="260.15" width="0.80" height="0.80" fill="#46b04a"/><rect x="130.55" y="260.15" width="0.80" height="0.80" fill="#46b04a"/><rect x="131.30" y="260.15" width="0.80" height="0.80" fill="#46b04a"/><rect x="132.05" y="260.15" width="0.80" height="0.80" fill="#e0d83a"/><rect x="132.80" y="260.15" width="0.80" height="0.80" fill="#e0d83a"/><rect x="133.55" y="260.15" width="0.80" height="0.80" fill="#f3951e"/><rect x="134.30" y="260.15" width="0.80" height="0.80" fill="#f3951e"/><rect x="135.05" y="260.15" width="0.80" height="0.80" fill="#e0d83a"/><rect x="135.80" y="260.15" width="0.80" height="0.80" fill="#e0d83a"/><rect x="136.55" y="260.15" width="0.80" height="0.80" fill="#46b04a"/><rect x="137.30" y="260.15" width="0.80" height="0.80" fill="#46b04a"/><rect x="138.05" y="260.15" width="0.80" height="0.80" fill="#3a9fb5"/><rect x="138.80" y="260.15" width="0.80" height="0.80" fill="#3a9a8c"/><rect x="140.30" y="260.15" width="0.80" height="0.80" fill="#3550b8"/><rect x="141.05" y="260.15" width="0.80" height="0.80" fill="#3a9fb5"/><rect x="121.55" y="260.90" width="0.80" height="0.80" fill="#3a9a8c"/><rect x="122.30" y="260.90" width="0.80" height="0.80" fill="#3a9fb5"/><rect x="123.05" y="260.90" width="0.80" height="0.80" fill="#3a9a8c"/><rect x="123.80" y="260.90" width="0.80" height="0.80" fill="#3a9a8c"/><rect x="124.55" y="260.90" width="0.80" height="0.80" fill="#3a9a8c"/><rect x="125.30" y="260.90" width="0.80" height="0.80" fill="#3a9a8c"/><rect x="126.05" y="260.90" width="0.80" height="0.80" fill="#46b04a"/><rect x="126.80" y="260.90" width="0.80" height="0.80" fill="#3a9fb5"/><rect x="127.55" y="260.90" width="0.80" height="0.80" fill="#46b04a"/><rect x="128.30" y="260.90" width="0.80" height="0.80" fill="#46b04a"/><rect x="129.05" y="260.90" width="0.80" height="0.80" fill="#3a9fb5"/><rect x="129.80" y="260.90" width="0.80" height="0.80" fill="#46b04a"/><rect x="130.55" y="260.90" width="0.80" height="0.80" fill="#46b04a"/><rect x="131.30" y="260.90" width="0.80" height="0.80" fill="#46b04a"/><rect x="132.05" y="260.90" width="0.80" height="0.80" fill="#e0d83a"/><rect x="132.80" y="260.90" width="0.80" height="0.80" fill="#e0d83a"/><rect x="133.55" y="260.90" width="0.80" height="0.80" fill="#e0d83a"/><rect x="134.30" y="260.90" width="0.80" height="0.80" fill="#e0d83a"/><rect x="135.05" y="260.90" width="0.80" height="0.80" fill="#e0d83a"/><rect x="135.80" y="260.90" width="0.80" height="0.80" fill="#e0d83a"/><rect x="136.55" y="260.90" width="0.80" height="0.80" fill="#46b04a"/><rect x="137.30" y="260.90" width="0.80" height="0.80" fill="#46b04a"/><rect x="138.05" y="260.90" width="0.80" height="0.80" fill="#3a9a8c"/><rect x="138.80" y="260.90" width="0.80" height="0.80" fill="#3a9fb5"/><rect x="139.55" y="260.90" width="0.80" height="0.80" fill="#3a9fb5"/><rect x="140.30" y="260.90" width="0.80" height="0.80" fill="#3a9a8c"/><rect x="141.05" y="260.90" width="0.80" height="0.80" fill="#3a9fb5"/><rect x="120.80" y="261.65" width="0.80" height="0.80" fill="#3a9fb5"/><rect x="121.55" y="261.65" width="0.80" height="0.80" fill="#3a9a8c"/><rect x="122.30" y="261.65" width="0.80" height="0.80" fill="#3550b8"/><rect x="123.05" y="261.65" width="0.80" height="0.80" fill="#3a9fb5"/><rect x="123.80" y="261.65" width="0.80" height="0.80" fill="#46b04a"/><rect x="124.55" y="261.65" width="0.80" height="0.80" fill="#3a9fb5"/><rect x="125.30" y="261.65" width="0.80" height="0.80" fill="#3a9fb5"/><rect x="126.05" y="261.65" width="0.80" height="0.80" fill="#46b04a"/><rect x="126.80" y="261.65" width="0.80" height="0.80" fill="#46b04a"/><rect x="127.55" y="261.65" width="0.80" height="0.80" fill="#46b04a"/><rect x="128.30" y="261.65" width="0.80" height="0.80" fill="#46b04a"/><rect x="129.05" y="261.65" width="0.80" height="0.80" fill="#46b04a"/><rect x="129.80" y="261.65" width="0.80" height="0.80" fill="#46b04a"/><rect x="130.55" y="261.65" width="0.80" height="0.80" fill="#46b04a"/><rect x="131.30" y="261.65" width="0.80" height="0.80" fill="#46b04a"/><rect x="132.05" y="261.65" width="0.80" height="0.80" fill="#46b04a"/><rect x="132.80" y="261.65" width="0.80" height="0.80" fill="#e0d83a"/><rect x="133.55" y="261.65" width="0.80" height="0.80" fill="#e0d83a"/><rect x="134.30" y="261.65" width="0.80" height="0.80" fill="#e0d83a"/><rect x="135.05" y="261.65" width="0.80" height="0.80" fill="#46b04a"/><rect x="135.80" y="261.65" width="0.80" height="0.80" fill="#46b04a"/><rect x="136.55" y="261.65" width="0.80" height="0.80" fill="#46b04a"/><rect x="137.30" y="261.65" width="0.80" height="0.80" fill="#3a9fb5"/><rect x="138.05" y="261.65" width="0.80" height="0.80" fill="#3a9a8c"/><rect x="139.55" y="261.65" width="0.80" height="0.80" fill="#3a9a8c"/><rect x="140.30" y="261.65" width="0.80" height="0.80" fill="#3550b8"/><rect x="117.05" y="262.40" width="0.80" height="0.80" fill="#3550b8"/><rect x="118.55" y="262.40" width="0.80" height="0.80" fill="#3550b8"/><rect x="119.30" y="262.40" width="0.80" height="0.80" fill="#3a9fb5"/><rect x="120.05" y="262.40" width="0.80" height="0.80" fill="#3a9fb5"/><rect x="120.80" y="262.40" width="0.80" height="0.80" fill="#3a9fb5"/><rect x="121.55" y="262.40" width="0.80" height="0.80" fill="#3550b8"/><rect x="122.30" y="262.40" width="0.80" height="0.80" fill="#46b04a"/><rect x="123.05" y="262.40" width="0.80" height="0.80" fill="#3a9a8c"/><rect x="123.80" y="262.40" width="0.80" height="0.80" fill="#46b04a"/><rect x="124.55" y="262.40" width="0.80" height="0.80" fill="#46b04a"/><rect x="125.30" y="262.40" width="0.80" height="0.80" fill="#46b04a"/><rect x="126.05" y="262.40" width="0.80" height="0.80" fill="#46b04a"/><rect x="126.80" y="262.40" width="0.80" height="0.80" fill="#46b04a"/><rect x="127.55" y="262.40" width="0.80" height="0.80" fill="#46b04a"/><rect x="128.30" y="262.40" width="0.80" height="0.80" fill="#46b04a"/><rect x="129.05" y="262.40" width="0.80" height="0.80" fill="#46b04a"/><rect x="129.80" y="262.40" width="0.80" height="0.80" fill="#46b04a"/><rect x="130.55" y="262.40" width="0.80" height="0.80" fill="#46b04a"/><rect x="131.30" y="262.40" width="0.80" height="0.80" fill="#46b04a"/><rect x="132.05" y="262.40" width="0.80" height="0.80" fill="#46b04a"/><rect x="132.80" y="262.40" width="0.80" height="0.80" fill="#46b04a"/><rect x="133.55" y="262.40" width="0.80" height="0.80" fill="#46b04a"/><rect x="134.30" y="262.40" width="0.80" height="0.80" fill="#46b04a"/><rect x="135.05" y="262.40" width="0.80" height="0.80" fill="#46b04a"/><rect x="135.80" y="262.40" width="0.80" height="0.80" fill="#46b04a"/><rect x="136.55" y="262.40" width="0.80" height="0.80" fill="#3a9a8c"/><rect x="137.30" y="262.40" width="0.80" height="0.80" fill="#3a9fb5"/><rect x="138.05" y="262.40" width="0.80" height="0.80" fill="#46b04a"/><rect x="139.55" y="262.40" width="0.80" height="0.80" fill="#3a9fb5"/><rect x="140.30" y="262.40" width="0.80" height="0.80" fill="#3a9fb5"/><rect x="143.30" y="262.40" width="0.80" height="0.80" fill="#3a9fb5"/><rect x="117.05" y="263.15" width="0.80" height="0.80" fill="#3a9fb5"/><rect x="119.30" y="263.15" width="0.80" height="0.80" fill="#3550b8"/><rect x="120.80" y="263.15" width="0.80" height="0.80" fill="#3550b8"/><rect x="121.55" y="263.15" width="0.80" height="0.80" fill="#3a9a8c"/><rect x="122.30" y="263.15" width="0.80" height="0.80" fill="#3a9fb5"/><rect x="123.05" y="263.15" width="0.80" height="0.80" fill="#46b04a"/><rect x="123.80" y="263.15" width="0.80" height="0.80" fill="#46b04a"/><rect x="124.55" y="263.15" width="0.80" height="0.80" fill="#e0d83a"/><rect x="125.30" y="263.15" width="0.80" height="0.80" fill="#e0d83a"/><rect x="126.05" y="263.15" width="0.80" height="0.80" fill="#e0d83a"/><rect x="126.80" y="263.15" width="0.80" height="0.80" fill="#e0d83a"/><rect x="127.55" y="263.15" width="0.80" height="0.80" fill="#e0d83a"/><rect x="128.30" y="263.15" width="0.80" height="0.80" fill="#e0d83a"/><rect x="129.05" y="263.15" width="0.80" height="0.80" fill="#46b04a"/><rect x="129.80" y="263.15" width="0.80" height="0.80" fill="#46b04a"/><rect x="130.55" y="263.15" width="0.80" height="0.80" fill="#46b04a"/><rect x="131.30" y="263.15" width="0.80" height="0.80" fill="#46b04a"/><rect x="132.05" y="263.15" width="0.80" height="0.80" fill="#46b04a"/><rect x="132.80" y="263.15" width="0.80" height="0.80" fill="#46b04a"/><rect x="133.55" y="263.15" width="0.80" height="0.80" fill="#46b04a"/><rect x="134.30" y="263.15" width="0.80" height="0.80" fill="#46b04a"/><rect x="135.05" y="263.15" width="0.80" height="0.80" fill="#46b04a"/><rect x="135.80" y="263.15" width="0.80" height="0.80" fill="#46b04a"/><rect x="136.55" y="263.15" width="0.80" height="0.80" fill="#3a9a8c"/><rect x="137.30" y="263.15" width="0.80" height="0.80" fill="#46b04a"/><rect x="138.05" y="263.15" width="0.80" height="0.80" fill="#3a9a8c"/><rect x="138.80" y="263.15" width="0.80" height="0.80" fill="#3a9a8c"/><rect x="139.55" y="263.15" width="0.80" height="0.80" fill="#3550b8"/><rect x="140.30" y="263.15" width="0.80" height="0.80" fill="#3550b8"/><rect x="141.05" y="263.15" width="0.80" height="0.80" fill="#3a9fb5"/><rect x="118.55" y="263.90" width="0.80" height="0.80" fill="#3550b8"/><rect x="119.30" y="263.90" width="0.80" height="0.80" fill="#3a9a8c"/><rect x="120.05" y="263.90" width="0.80" height="0.80" fill="#3a9a8c"/><rect x="120.80" y="263.90" width="0.80" height="0.80" fill="#3a9a8c"/><rect x="121.55" y="263.90" width="0.80" height="0.80" fill="#3a9a8c"/><rect x="122.30" y="263.90" width="0.80" height="0.80" fill="#46b04a"/><rect x="123.05" y="263.90" width="0.80" height="0.80" fill="#e0d83a"/><rect x="123.80" y="263.90" width="0.80" height="0.80" fill="#e0d83a"/><rect x="124.55" y="263.90" width="0.80" height="0.80" fill="#f3951e"/><rect x="125.30" y="263.90" width="0.80" height="0.80" fill="#f3951e"/><rect x="126.05" y="263.90" width="0.80" height="0.80" fill="#e8261e"/><rect x="126.80" y="263.90" width="0.80" height="0.80" fill="#f3951e"/><rect x="127.55" y="263.90" width="0.80" height="0.80" fill="#f3951e"/><rect x="128.30" y="263.90" width="0.80" height="0.80" fill="#f3951e"/><rect x="129.05" y="263.90" width="0.80" height="0.80" fill="#e0d83a"/><rect x="129.80" y="263.90" width="0.80" height="0.80" fill="#e0d83a"/><rect x="130.55" y="263.90" width="0.80" height="0.80" fill="#46b04a"/><rect x="131.30" y="263.90" width="0.80" height="0.80" fill="#46b04a"/><rect x="132.05" y="263.90" width="0.80" height="0.80" fill="#46b04a"/><rect x="132.80" y="263.90" width="0.80" height="0.80" fill="#46b04a"/><rect x="133.55" y="263.90" width="0.80" height="0.80" fill="#46b04a"/><rect x="134.30" y="263.90" width="0.80" height="0.80" fill="#3a9a8c"/><rect x="135.05" y="263.90" width="0.80" height="0.80" fill="#3a9a8c"/><rect x="135.80" y="263.90" width="0.80" height="0.80" fill="#3a9a8c"/><rect x="136.55" y="263.90" width="0.80" height="0.80" fill="#3a9a8c"/><rect x="137.30" y="263.90" width="0.80" height="0.80" fill="#3a9fb5"/><rect x="138.05" y="263.90" width="0.80" height="0.80" fill="#3a9fb5"/><rect x="138.80" y="263.90" width="0.80" height="0.80" fill="#3550b8"/><rect x="139.55" y="263.90" width="0.80" height="0.80" fill="#3550b8"/><rect x="140.30" y="263.90" width="0.80" height="0.80" fill="#3550b8"/><rect x="117.80" y="264.65" width="0.80" height="0.80" fill="#3550b8"/><rect x="118.55" y="264.65" width="0.80" height="0.80" fill="#3550b8"/><rect x="119.30" y="264.65" width="0.80" height="0.80" fill="#3a9fb5"/><rect x="120.05" y="264.65" width="0.80" height="0.80" fill="#46b04a"/><rect x="120.80" y="264.65" width="0.80" height="0.80" fill="#46b04a"/><rect x="121.55" y="264.65" width="0.80" height="0.80" fill="#46b04a"/><rect x="122.30" y="264.65" width="0.80" height="0.80" fill="#e0d83a"/><rect x="123.05" y="264.65" width="0.80" height="0.80" fill="#f3951e"/><rect x="123.80" y="264.65" width="0.80" height="0.80" fill="#f3951e"/><rect x="124.55" y="264.65" width="0.80" height="0.80" fill="#e8261e"/><rect x="125.30" y="264.65" width="0.80" height="0.80" fill="#e8261e"/><rect x="126.05" y="264.65" width="0.80" height="0.80" fill="#e8261e"/><rect x="126.80" y="264.65" width="0.80" height="0.80" fill="#e8261e"/><rect x="127.55" y="264.65" width="0.80" height="0.80" fill="#e8261e"/><rect x="128.30" y="264.65" width="0.80" height="0.80" fill="#f3951e"/><rect x="129.05" y="264.65" width="0.80" height="0.80" fill="#f3951e"/><rect x="129.80" y="264.65" width="0.80" height="0.80" fill="#e0d83a"/><rect x="130.55" y="264.65" width="0.80" height="0.80" fill="#46b04a"/><rect x="131.30" y="264.65" width="0.80" height="0.80" fill="#46b04a"/><rect x="132.05" y="264.65" width="0.80" height="0.80" fill="#46b04a"/><rect x="132.80" y="264.65" width="0.80" height="0.80" fill="#46b04a"/><rect x="133.55" y="264.65" width="0.80" height="0.80" fill="#3a9fb5"/><rect x="134.30" y="264.65" width="0.80" height="0.80" fill="#46b04a"/><rect x="135.05" y="264.65" width="0.80" height="0.80" fill="#46b04a"/><rect x="135.80" y="264.65" width="0.80" height="0.80" fill="#3a9a8c"/><rect x="136.55" y="264.65" width="0.80" height="0.80" fill="#3a9a8c"/><rect x="137.30" y="264.65" width="0.80" height="0.80" fill="#3550b8"/><rect x="138.05" y="264.65" width="0.80" height="0.80" fill="#3a9fb5"/><rect x="139.55" y="264.65" width="0.80" height="0.80" fill="#3550b8"/><rect x="118.55" y="265.40" width="0.80" height="0.80" fill="#3a9fb5"/><rect x="119.30" y="265.40" width="0.80" height="0.80" fill="#3550b8"/><rect x="120.05" y="265.40" width="0.80" height="0.80" fill="#3a9a8c"/><rect x="120.80" y="265.40" width="0.80" height="0.80" fill="#46b04a"/><rect x="121.55" y="265.40" width="0.80" height="0.80" fill="#46b04a"/><rect x="122.30" y="265.40" width="0.80" height="0.80" fill="#e0d83a"/><rect x="123.05" y="265.40" width="0.80" height="0.80" fill="#f3951e"/><rect x="123.80" y="265.40" width="0.80" height="0.80" fill="#e8261e"/><rect x="124.55" y="265.40" width="0.80" height="0.80" fill="#e8261e"/><rect x="125.30" y="265.40" width="0.80" height="0.80" fill="#e8261e"/><rect x="126.05" y="265.40" width="0.80" height="0.80" fill="#e8261e"/><rect x="126.80" y="265.40" width="0.80" height="0.80" fill="#e8261e"/><rect x="127.55" y="265.40" width="0.80" height="0.80" fill="#e8261e"/><rect x="128.30" y="265.40" width="0.80" height="0.80" fill="#e8261e"/><rect x="129.05" y="265.40" width="0.80" height="0.80" fill="#f3951e"/><rect x="129.80" y="265.40" width="0.80" height="0.80" fill="#e0d83a"/><rect x="130.55" y="265.40" width="0.80" height="0.80" fill="#46b04a"/><rect x="131.30" y="265.40" width="0.80" height="0.80" fill="#46b04a"/><rect x="132.05" y="265.40" width="0.80" height="0.80" fill="#46b04a"/><rect x="132.80" y="265.40" width="0.80" height="0.80" fill="#3a9a8c"/><rect x="133.55" y="265.40" width="0.80" height="0.80" fill="#3a9fb5"/><rect x="134.30" y="265.40" width="0.80" height="0.80" fill="#3a9a8c"/><rect x="135.05" y="265.40" width="0.80" height="0.80" fill="#3a9a8c"/><rect x="135.80" y="265.40" width="0.80" height="0.80" fill="#3550b8"/><rect x="136.55" y="265.40" width="0.80" height="0.80" fill="#3a9fb5"/><rect x="137.30" y="265.40" width="0.80" height="0.80" fill="#3550b8"/><rect x="118.55" y="266.15" width="0.80" height="0.80" fill="#3a9fb5"/><rect x="119.30" y="266.15" width="0.80" height="0.80" fill="#3a9fb5"/><rect x="120.05" y="266.15" width="0.80" height="0.80" fill="#3a9a8c"/><rect x="120.80" y="266.15" width="0.80" height="0.80" fill="#46b04a"/><rect x="121.55" y="266.15" width="0.80" height="0.80" fill="#e0d83a"/><rect x="122.30" y="266.15" width="0.80" height="0.80" fill="#f3951e"/><rect x="123.05" y="266.15" width="0.80" height="0.80" fill="#e8261e"/><rect x="123.80" y="266.15" width="0.80" height="0.80" fill="#e8261e"/><rect x="124.55" y="266.15" width="0.80" height="0.80" fill="#e8261e"/><rect x="125.30" y="266.15" width="0.80" height="0.80" fill="#e8261e"/><rect x="126.05" y="266.15" width="0.80" height="0.80" fill="#e8261e"/><rect x="126.80" y="266.15" width="0.80" height="0.80" fill="#e8261e"/><rect x="127.55" y="266.15" width="0.80" height="0.80" fill="#e8261e"/><rect x="128.30" y="266.15" width="0.80" height="0.80" fill="#e8261e"/><rect x="129.05" y="266.15" width="0.80" height="0.80" fill="#e8261e"/><rect x="129.80" y="266.15" width="0.80" height="0.80" fill="#f3951e"/><rect x="130.55" y="266.15" width="0.80" height="0.80" fill="#e0d83a"/><rect x="131.30" y="266.15" width="0.80" height="0.80" fill="#46b04a"/><rect x="132.05" y="266.15" width="0.80" height="0.80" fill="#3a9a8c"/><rect x="132.80" y="266.15" width="0.80" height="0.80" fill="#3a9a8c"/><rect x="133.55" y="266.15" width="0.80" height="0.80" fill="#3a9a8c"/><rect x="134.30" y="266.15" width="0.80" height="0.80" fill="#3a9a8c"/><rect x="135.05" y="266.15" width="0.80" height="0.80" fill="#3a9fb5"/><rect x="137.30" y="266.15" width="0.80" height="0.80" fill="#3550b8"/><rect x="118.55" y="266.90" width="0.80" height="0.80" fill="#3550b8"/><rect x="119.30" y="266.90" width="0.80" height="0.80" fill="#3550b8"/><rect x="120.05" y="266.90" width="0.80" height="0.80" fill="#3a9fb5"/><rect x="120.80" y="266.90" width="0.80" height="0.80" fill="#46b04a"/><rect x="121.55" y="266.90" width="0.80" height="0.80" fill="#e0d83a"/><rect x="122.30" y="266.90" width="0.80" height="0.80" fill="#f3951e"/><rect x="123.05" y="266.90" width="0.80" height="0.80" fill="#e8261e"/><rect x="123.80" y="266.90" width="0.80" height="0.80" fill="#e8261e"/><rect x="124.55" y="266.90" width="0.80" height="0.80" fill="#e8261e"/><rect x="125.30" y="266.90" width="0.80" height="0.80" fill="#e8261e"/><rect x="126.05" y="266.90" width="0.80" height="0.80" fill="#e8261e"/><rect x="126.80" y="266.90" width="0.80" height="0.80" fill="#e8261e"/><rect x="127.55" y="266.90" width="0.80" height="0.80" fill="#e8261e"/><rect x="128.30" y="266.90" width="0.80" height="0.80" fill="#e8261e"/><rect x="129.05" y="266.90" width="0.80" height="0.80" fill="#e8261e"/><rect x="129.80" y="266.90" width="0.80" height="0.80" fill="#e0d83a"/><rect x="130.55" y="266.90" width="0.80" height="0.80" fill="#46b04a"/><rect x="131.30" y="266.90" width="0.80" height="0.80" fill="#46b04a"/><rect x="132.05" y="266.90" width="0.80" height="0.80" fill="#3a9fb5"/><rect x="132.80" y="266.90" width="0.80" height="0.80" fill="#3a9a8c"/><rect x="134.30" y="266.90" width="0.80" height="0.80" fill="#3a9a8c"/><rect x="135.05" y="266.90" width="0.80" height="0.80" fill="#3a9a8c"/><rect x="135.80" y="266.90" width="0.80" height="0.80" fill="#3a9fb5"/><rect x="137.30" y="266.90" width="0.80" height="0.80" fill="#3a9fb5"/><rect x="119.30" y="267.65" width="0.80" height="0.80" fill="#3550b8"/><rect x="120.05" y="267.65" width="0.80" height="0.80" fill="#3a9fb5"/><rect x="120.80" y="267.65" width="0.80" height="0.80" fill="#46b04a"/><rect x="121.55" y="267.65" width="0.80" height="0.80" fill="#46b04a"/><rect x="122.30" y="267.65" width="0.80" height="0.80" fill="#f3951e"/><rect x="123.05" y="267.65" width="0.80" height="0.80" fill="#e8261e"/><rect x="123.80" y="267.65" width="0.80" height="0.80" fill="#e8261e"/><rect x="124.55" y="267.65" width="0.80" height="0.80" fill="#e8261e"/><rect x="125.30" y="267.65" width="0.80" height="0.80" fill="#e8261e"/><rect x="126.05" y="267.65" width="0.80" height="0.80" fill="#e8261e"/><rect x="126.80" y="267.65" width="0.80" height="0.80" fill="#e8261e"/><rect x="127.55" y="267.65" width="0.80" height="0.80" fill="#e8261e"/><rect x="128.30" y="267.65" width="0.80" height="0.80" fill="#e8261e"/><rect x="129.05" y="267.65" width="0.80" height="0.80" fill="#f3951e"/><rect x="129.80" y="267.65" width="0.80" height="0.80" fill="#e0d83a"/><rect x="130.55" y="267.65" width="0.80" height="0.80" fill="#46b04a"/><rect x="131.30" y="267.65" width="0.80" height="0.80" fill="#46b04a"/><rect x="132.05" y="267.65" width="0.80" height="0.80" fill="#3a9fb5"/><rect x="132.80" y="267.65" width="0.80" height="0.80" fill="#3a9a8c"/><rect x="134.30" y="267.65" width="0.80" height="0.80" fill="#3a9a8c"/><rect x="135.05" y="267.65" width="0.80" height="0.80" fill="#3a9a8c"/><rect x="137.30" y="267.65" width="0.80" height="0.80" fill="#3a9fb5"/><rect x="138.05" y="267.65" width="0.80" height="0.80" fill="#3550b8"/><rect x="139.55" y="267.65" width="0.80" height="0.80" fill="#3550b8"/><rect x="140.30" y="267.65" width="0.80" height="0.80" fill="#3a9fb5"/><rect x="118.55" y="268.40" width="0.80" height="0.80" fill="#3a9a8c"/><rect x="120.05" y="268.40" width="0.80" height="0.80" fill="#3a9fb5"/><rect x="120.80" y="268.40" width="0.80" height="0.80" fill="#3a9a8c"/><rect x="121.55" y="268.40" width="0.80" height="0.80" fill="#46b04a"/><rect x="122.30" y="268.40" width="0.80" height="0.80" fill="#e0d83a"/><rect x="123.05" y="268.40" width="0.80" height="0.80" fill="#f3951e"/><rect x="123.80" y="268.40" width="0.80" height="0.80" fill="#e8261e"/><rect x="124.55" y="268.40" width="0.80" height="0.80" fill="#e8261e"/><rect x="125.30" y="268.40" width="0.80" height="0.80" fill="#e8261e"/><rect x="126.05" y="268.40" width="0.80" height="0.80" fill="#e8261e"/><rect x="126.80" y="268.40" width="0.80" height="0.80" fill="#e8261e"/><rect x="127.55" y="268.40" width="0.80" height="0.80" fill="#e8261e"/><rect x="128.30" y="268.40" width="0.80" height="0.80" fill="#e8261e"/><rect x="129.05" y="268.40" width="0.80" height="0.80" fill="#f3951e"/><rect x="129.80" y="268.40" width="0.80" height="0.80" fill="#e0d83a"/><rect x="130.55" y="268.40" width="0.80" height="0.80" fill="#46b04a"/><rect x="131.30" y="268.40" width="0.80" height="0.80" fill="#46b04a"/><rect x="132.05" y="268.40" width="0.80" height="0.80" fill="#46b04a"/><rect x="132.80" y="268.40" width="0.80" height="0.80" fill="#3a9a8c"/><rect x="133.55" y="268.40" width="0.80" height="0.80" fill="#3a9a8c"/><rect x="134.30" y="268.40" width="0.80" height="0.80" fill="#3a9a8c"/><rect x="118.55" y="269.15" width="0.80" height="0.80" fill="#3a9a8c"/><rect x="119.30" y="269.15" width="0.80" height="0.80" fill="#3550b8"/><rect x="120.05" y="269.15" width="0.80" height="0.80" fill="#3a9a8c"/><rect x="120.80" y="269.15" width="0.80" height="0.80" fill="#3a9a8c"/><rect x="121.55" y="269.15" width="0.80" height="0.80" fill="#46b04a"/><rect x="122.30" y="269.15" width="0.80" height="0.80" fill="#e0d83a"/><rect x="123.05" y="269.15" width="0.80" height="0.80" fill="#e0d83a"/><rect x="123.80" y="269.15" width="0.80" height="0.80" fill="#f3951e"/><rect x="124.55" y="269.15" width="0.80" height="0.80" fill="#e8261e"/><rect x="125.30" y="269.15" width="0.80" height="0.80" fill="#e8261e"/><rect x="126.05" y="269.15" width="0.80" height="0.80" fill="#e8261e"/><rect x="126.80" y="269.15" width="0.80" height="0.80" fill="#e8261e"/><rect x="127.55" y="269.15" width="0.80" height="0.80" fill="#e8261e"/><rect x="128.30" y="269.15" width="0.80" height="0.80" fill="#f3951e"/><rect x="129.05" y="269.15" width="0.80" height="0.80" fill="#e0d83a"/><rect x="129.80" y="269.15" width="0.80" height="0.80" fill="#46b04a"/><rect x="130.55" y="269.15" width="0.80" height="0.80" fill="#46b04a"/><rect x="131.30" y="269.15" width="0.80" height="0.80" fill="#3a9a8c"/><rect x="132.05" y="269.15" width="0.80" height="0.80" fill="#3a9a8c"/><rect x="132.80" y="269.15" width="0.80" height="0.80" fill="#3550b8"/><rect x="133.55" y="269.15" width="0.80" height="0.80" fill="#3a9fb5"/><rect x="135.80" y="269.15" width="0.80" height="0.80" fill="#3550b8"/><rect x="136.55" y="269.15" width="0.80" height="0.80" fill="#3a9fb5"/><rect x="119.30" y="269.90" width="0.80" height="0.80" fill="#3a9a8c"/><rect x="120.05" y="269.90" width="0.80" height="0.80" fill="#3a9a8c"/><rect x="120.80" y="269.90" width="0.80" height="0.80" fill="#3a9a8c"/><rect x="121.55" y="269.90" width="0.80" height="0.80" fill="#3a9a8c"/><rect x="122.30" y="269.90" width="0.80" height="0.80" fill="#46b04a"/><rect x="123.05" y="269.90" width="0.80" height="0.80" fill="#e0d83a"/><rect x="123.80" y="269.90" width="0.80" height="0.80" fill="#e0d83a"/><rect x="124.55" y="269.90" width="0.80" height="0.80" fill="#f3951e"/><rect x="125.30" y="269.90" width="0.80" height="0.80" fill="#f3951e"/><rect x="126.05" y="269.90" width="0.80" height="0.80" fill="#f3951e"/><rect x="126.80" y="269.90" width="0.80" height="0.80" fill="#f3951e"/><rect x="127.55" y="269.90" width="0.80" height="0.80" fill="#f3951e"/><rect x="128.30" y="269.90" width="0.80" height="0.80" fill="#e0d83a"/><rect x="129.05" y="269.90" width="0.80" height="0.80" fill="#46b04a"/><rect x="129.80" y="269.90" width="0.80" height="0.80" fill="#46b04a"/><rect x="130.55" y="269.90" width="0.80" height="0.80" fill="#3a9fb5"/><rect x="131.30" y="269.90" width="0.80" height="0.80" fill="#46b04a"/><rect x="132.05" y="269.90" width="0.80" height="0.80" fill="#3550b8"/><rect x="133.55" y="269.90" width="0.80" height="0.80" fill="#3550b8"/><rect x="137.30" y="269.90" width="0.80" height="0.80" fill="#3a9fb5"/><rect x="119.30" y="270.65" width="0.80" height="0.80" fill="#3a9fb5"/><rect x="120.80" y="270.65" width="0.80" height="0.80" fill="#3a9fb5"/><rect x="121.55" y="270.65" width="0.80" height="0.80" fill="#3a9a8c"/><rect x="122.30" y="270.65" width="0.80" height="0.80" fill="#3a9fb5"/><rect x="123.05" y="270.65" width="0.80" height="0.80" fill="#46b04a"/><rect x="123.80" y="270.65" width="0.80" height="0.80" fill="#46b04a"/><rect x="124.55" y="270.65" width="0.80" height="0.80" fill="#e0d83a"/><rect x="125.30" y="270.65" width="0.80" height="0.80" fill="#e0d83a"/><rect x="126.05" y="270.65" width="0.80" height="0.80" fill="#e0d83a"/><rect x="126.80" y="270.65" width="0.80" height="0.80" fill="#e0d83a"/><rect x="127.55" y="270.65" width="0.80" height="0.80" fill="#e0d83a"/><rect x="128.30" y="270.65" width="0.80" height="0.80" fill="#46b04a"/><rect x="129.05" y="270.65" width="0.80" height="0.80" fill="#46b04a"/><rect x="129.80" y="270.65" width="0.80" height="0.80" fill="#3a9fb5"/><rect x="130.55" y="270.65" width="0.80" height="0.80" fill="#3a9a8c"/><rect x="131.30" y="270.65" width="0.80" height="0.80" fill="#3a9fb5"/><rect x="134.30" y="270.65" width="0.80" height="0.80" fill="#3550b8"/><rect x="119.30" y="271.40" width="0.80" height="0.80" fill="#3550b8"/><rect x="120.05" y="271.40" width="0.80" height="0.80" fill="#3a9a8c"/><rect x="120.80" y="271.40" width="0.80" height="0.80" fill="#3550b8"/><rect x="121.55" y="271.40" width="0.80" height="0.80" fill="#46b04a"/><rect x="122.30" y="271.40" width="0.80" height="0.80" fill="#46b04a"/><rect x="123.05" y="271.40" width="0.80" height="0.80" fill="#46b04a"/><rect x="123.80" y="271.40" width="0.80" height="0.80" fill="#46b04a"/><rect x="124.55" y="271.40" width="0.80" height="0.80" fill="#46b04a"/><rect x="125.30" y="271.40" width="0.80" height="0.80" fill="#46b04a"/><rect x="126.05" y="271.40" width="0.80" height="0.80" fill="#46b04a"/><rect x="126.80" y="271.40" width="0.80" height="0.80" fill="#46b04a"/><rect x="127.55" y="271.40" width="0.80" height="0.80" fill="#46b04a"/><rect x="128.30" y="271.40" width="0.80" height="0.80" fill="#46b04a"/><rect x="129.05" y="271.40" width="0.80" height="0.80" fill="#3a9fb5"/><rect x="129.80" y="271.40" width="0.80" height="0.80" fill="#3a9fb5"/><rect x="130.55" y="271.40" width="0.80" height="0.80" fill="#3550b8"/><rect x="131.30" y="271.40" width="0.80" height="0.80" fill="#3a9fb5"/><rect x="132.05" y="271.40" width="0.80" height="0.80" fill="#3a9fb5"/><rect x="132.80" y="271.40" width="0.80" height="0.80" fill="#3a9a8c"/><rect x="120.05" y="272.15" width="0.80" height="0.80" fill="#3550b8"/><rect x="122.30" y="272.15" width="0.80" height="0.80" fill="#3a9a8c"/><rect x="123.05" y="272.15" width="0.80" height="0.80" fill="#3a9fb5"/><rect x="123.80" y="272.15" width="0.80" height="0.80" fill="#3a9a8c"/><rect x="124.55" y="272.15" width="0.80" height="0.80" fill="#3a9fb5"/><rect x="125.30" y="272.15" width="0.80" height="0.80" fill="#3a9fb5"/><rect x="126.05" y="272.15" width="0.80" height="0.80" fill="#3a9a8c"/><rect x="126.80" y="272.15" width="0.80" height="0.80" fill="#3a9a8c"/><rect x="127.55" y="272.15" width="0.80" height="0.80" fill="#3a9fb5"/><rect x="128.30" y="272.15" width="0.80" height="0.80" fill="#3a9a8c"/><rect x="129.05" y="272.15" width="0.80" height="0.80" fill="#46b04a"/><rect x="129.80" y="272.15" width="0.80" height="0.80" fill="#3a9a8c"/><rect x="130.55" y="272.15" width="0.80" height="0.80" fill="#3550b8"/><rect x="131.30" y="272.15" width="0.80" height="0.80" fill="#3550b8"/><rect x="132.05" y="272.15" width="0.80" height="0.80" fill="#3550b8"/><rect x="134.30" y="272.15" width="0.80" height="0.80" fill="#3550b8"/><rect x="135.80" y="272.15" width="0.80" height="0.80" fill="#3a9fb5"/><rect x="117.05" y="272.90" width="0.80" height="0.80" fill="#3a9fb5"/><rect x="120.80" y="272.90" width="0.80" height="0.80" fill="#3550b8"/><rect x="121.55" y="272.90" width="0.80" height="0.80" fill="#3a9a8c"/><rect x="122.30" y="272.90" width="0.80" height="0.80" fill="#3550b8"/><rect x="123.05" y="272.90" width="0.80" height="0.80" fill="#3a9fb5"/><rect x="123.80" y="272.90" width="0.80" height="0.80" fill="#3a9a8c"/><rect x="124.55" y="272.90" width="0.80" height="0.80" fill="#3a9fb5"/><rect x="125.30" y="272.90" width="0.80" height="0.80" fill="#46b04a"/><rect x="126.05" y="272.90" width="0.80" height="0.80" fill="#46b04a"/><rect x="126.80" y="272.90" width="0.80" height="0.80" fill="#46b04a"/><rect x="127.55" y="272.90" width="0.80" height="0.80" fill="#3a9a8c"/><rect x="128.30" y="272.90" width="0.80" height="0.80" fill="#3a9fb5"/><rect x="129.05" y="272.90" width="0.80" height="0.80" fill="#3a9a8c"/><rect x="130.55" y="272.90" width="0.80" height="0.80" fill="#3a9a8c"/><rect x="131.30" y="272.90" width="0.80" height="0.80" fill="#3550b8"/><rect x="119.30" y="273.65" width="0.80" height="0.80" fill="#3550b8"/><rect x="120.80" y="273.65" width="0.80" height="0.80" fill="#3a9fb5"/><rect x="121.55" y="273.65" width="0.80" height="0.80" fill="#3a9fb5"/><rect x="122.30" y="273.65" width="0.80" height="0.80" fill="#3550b8"/><rect x="123.05" y="273.65" width="0.80" height="0.80" fill="#3550b8"/><rect x="123.80" y="273.65" width="0.80" height="0.80" fill="#3550b8"/><rect x="124.55" y="273.65" width="0.80" height="0.80" fill="#3a9fb5"/><rect x="126.05" y="273.65" width="0.80" height="0.80" fill="#3a9a8c"/><rect x="126.80" y="273.65" width="0.80" height="0.80" fill="#3550b8"/><rect x="127.55" y="273.65" width="0.80" height="0.80" fill="#3a9fb5"/><rect x="129.05" y="273.65" width="0.80" height="0.80" fill="#3a9a8c"/><rect x="129.80" y="273.65" width="0.80" height="0.80" fill="#3a9fb5"/><rect x="131.30" y="273.65" width="0.80" height="0.80" fill="#3a9fb5"/><rect x="120.80" y="274.40" width="0.80" height="0.80" fill="#3550b8"/><rect x="121.55" y="274.40" width="0.80" height="0.80" fill="#3550b8"/><rect x="122.30" y="274.40" width="0.80" height="0.80" fill="#3a9a8c"/><rect x="123.05" y="274.40" width="0.80" height="0.80" fill="#3550b8"/><rect x="123.80" y="274.40" width="0.80" height="0.80" fill="#3a9fb5"/><rect x="124.55" y="274.40" width="0.80" height="0.80" fill="#3a9a8c"/><rect x="125.30" y="274.40" width="0.80" height="0.80" fill="#3550b8"/><rect x="126.05" y="274.40" width="0.80" height="0.80" fill="#3a9fb5"/><rect x="126.80" y="274.40" width="0.80" height="0.80" fill="#3a9a8c"/><rect x="127.55" y="274.40" width="0.80" height="0.80" fill="#3a9fb5"/><rect x="128.30" y="274.40" width="0.80" height="0.80" fill="#3a9a8c"/><rect x="129.05" y="274.40" width="0.80" height="0.80" fill="#3a9a8c"/><rect x="133.55" y="274.40" width="0.80" height="0.80" fill="#3a9fb5"/><rect x="124.55" y="275.15" width="0.80" height="0.80" fill="#3a9a8c"/><rect x="126.80" y="275.15" width="0.80" height="0.80" fill="#3a9a8c"/><rect x="127.55" y="275.15" width="0.80" height="0.80" fill="#3a9a8c"/><rect x="131.30" y="275.15" width="0.80" height="0.80" fill="#3550b8"/><rect x="132.05" y="275.15" width="0.80" height="0.80" fill="#3550b8"/><rect x="123.80" y="275.90" width="0.80" height="0.80" fill="#3a9fb5"/><rect x="125.30" y="275.90" width="0.80" height="0.80" fill="#3550b8"/><rect x="125.30" y="276.65" width="0.80" height="0.80" fill="#3a9fb5"/><rect x="129.80" y="276.65" width="0.80" height="0.80" fill="#3550b8"/><rect x="131.30" y="276.65" width="0.80" height="0.80" fill="#3a9fb5"/><rect x="123.05" y="277.40" width="0.80" height="0.80" fill="#3550b8"/><rect x="126.05" y="277.40" width="0.80" height="0.80" fill="#3550b8"/><rect x="128.30" y="277.40" width="0.80" height="0.80" fill="#3550b8"/><rect x="129.05" y="277.40" width="0.80" height="0.80" fill="#3550b8"/><rect x="127.55" y="278.15" width="0.80" height="0.80" fill="#3a9fb5"/><rect x="129.80" y="278.15" width="0.80" height="0.80" fill="#3a9fb5"/></g>
<rect x="111.20" y="233.30" width="53.60" height="54.80" fill="none" stroke="#8592a8" stroke-width="0.75"/>
<text x="108.80" y="288.40" font-size="4.5" text-anchor="end" fill="#484848">10<tspan font-size="2.93" dy="-1.6">0</tspan></text>
<text x="108.80" y="278.80" font-size="4.5" text-anchor="end" fill="#484848">10<tspan font-size="2.93" dy="-1.6">1</tspan></text>
<text x="108.80" y="269.20" font-size="4.5" text-anchor="end" fill="#484848">10<tspan font-size="2.93" dy="-1.6">2</tspan></text>
<text x="108.80" y="259.60" font-size="4.5" text-anchor="end" fill="#484848">10<tspan font-size="2.93" dy="-1.6">3</tspan></text>
<text x="108.80" y="250.00" font-size="4.5" text-anchor="end" fill="#484848">10<tspan font-size="2.93" dy="-1.6">4</tspan></text>
<text x="108.80" y="240.40" font-size="4.5" text-anchor="end" fill="#484848">10<tspan font-size="2.93" dy="-1.6">5</tspan></text>
<text x="111.40" y="295.40" font-size="4.5" text-anchor="middle" fill="#484848">10<tspan font-size="2.93" dy="-1.6">0</tspan></text>
<text x="122.50" y="295.40" font-size="4.5" text-anchor="middle" fill="#484848">10<tspan font-size="2.93" dy="-1.6">1</tspan></text>
<text x="133.60" y="295.40" font-size="4.5" text-anchor="middle" fill="#484848">10<tspan font-size="2.93" dy="-1.6">2</tspan></text>
<text x="144.70" y="295.40" font-size="4.5" text-anchor="middle" fill="#484848">10<tspan font-size="2.93" dy="-1.6">3</tspan></text>
<text x="155.80" y="295.40" font-size="4.5" text-anchor="middle" fill="#484848">10<tspan font-size="2.93" dy="-1.6">4</tspan></text>
<text x="113.10" y="238.20" font-size="5.65" text-anchor="start" fill="#e4302c" stroke="#e4302c" stroke-width="0.1" textLength="14.70" lengthAdjust="spacingAndGlyphs">9.37%</text>
<text x="144.20" y="238.20" font-size="5.65" text-anchor="start" fill="#e4302c" stroke="#e4302c" stroke-width="0.1" textLength="17.30" lengthAdjust="spacingAndGlyphs">11.54%</text>
<text x="144.20" y="284.80" font-size="5.65" text-anchor="start" fill="#e4302c" stroke="#e4302c" stroke-width="0.1" textLength="17.30" lengthAdjust="spacingAndGlyphs">20.25%</text>
<text x="112.30" y="287.50" font-size="5.65" text-anchor="start" fill="#222" stroke="#222" stroke-width="0.1" textLength="13.70" lengthAdjust="spacingAndGlyphs">58.82%</text>
<text x="137.30" y="229.00" font-size="6.67" text-anchor="middle" fill="#222" stroke="#222" stroke-width="0.05" textLength="29.40" lengthAdjust="spacingAndGlyphs">Iberdomide</text>
<rect x="42.30" y="304.50" width="53.50" height="56.20" fill="#fff"/>
<line x1="64.60" y1="304.50" x2="64.60" y2="360.70" stroke="#b4b4b4" stroke-width="0.8"/>
<line x1="42.30" y1="332.50" x2="92.80" y2="332.50" stroke="#b4b4b4" stroke-width="0.8"/>
<g filter="url(#bl3)"><rect x="65.40" y="330.60" width="0.80" height="0.80" fill="#3550b8"/><rect x="67.65" y="330.60" width="0.80" height="0.80" fill="#3550b8"/><rect x="51.15" y="331.35" width="0.80" height="0.80" fill="#3550b8"/><rect x="55.65" y="331.35" width="0.80" height="0.80" fill="#3550b8"/><rect x="58.65" y="331.35" width="0.80" height="0.80" fill="#3550b8"/><rect x="60.90" y="331.35" width="0.80" height="0.80" fill="#3550b8"/><rect x="63.15" y="331.35" width="0.80" height="0.80" fill="#3550b8"/><rect x="63.90" y="331.35" width="0.80" height="0.80" fill="#3a9a8c"/><rect x="64.65" y="331.35" width="0.80" height="0.80" fill="#3a9fb5"/><rect x="65.40" y="331.35" width="0.80" height="0.80" fill="#3a9a8c"/><rect x="66.15" y="331.35" width="0.80" height="0.80" fill="#3550b8"/><rect x="66.90" y="331.35" width="0.80" height="0.80" fill="#3a9a8c"/><rect x="67.65" y="331.35" width="0.80" height="0.80" fill="#3a9fb5"/><rect x="68.40" y="331.35" width="0.80" height="0.80" fill="#3a9a8c"/><rect x="69.15" y="331.35" width="0.80" height="0.80" fill="#3a9fb5"/><rect x="69.90" y="331.35" width="0.80" height="0.80" fill="#3a9fb5"/><rect x="70.65" y="331.35" width="0.80" height="0.80" fill="#3a9a8c"/><rect x="51.15" y="332.10" width="0.80" height="0.80" fill="#3a9fb5"/><rect x="52.65" y="332.10" width="0.80" height="0.80" fill="#3a9a8c"/><rect x="53.40" y="332.10" width="0.80" height="0.80" fill="#3a9fb5"/><rect x="54.15" y="332.10" width="0.80" height="0.80" fill="#3550b8"/><rect x="54.90" y="332.10" width="0.80" height="0.80" fill="#3a9fb5"/><rect x="55.65" y="332.10" width="0.80" height="0.80" fill="#3a9fb5"/><rect x="56.40" y="332.10" width="0.80" height="0.80" fill="#46b04a"/><rect x="57.15" y="332.10" width="0.80" height="0.80" fill="#46b04a"/><rect x="57.90" y="332.10" width="0.80" height="0.80" fill="#46b04a"/><rect x="58.65" y="332.10" width="0.80" height="0.80" fill="#3a9fb5"/><rect x="59.40" y="332.10" width="0.80" height="0.80" fill="#3a9a8c"/><rect x="60.15" y="332.10" width="0.80" height="0.80" fill="#3a9a8c"/><rect x="60.90" y="332.10" width="0.80" height="0.80" fill="#46b04a"/><rect x="61.65" y="332.10" width="0.80" height="0.80" fill="#3a9a8c"/><rect x="62.40" y="332.10" width="0.80" height="0.80" fill="#46b04a"/><rect x="63.15" y="332.10" width="0.80" height="0.80" fill="#46b04a"/><rect x="63.90" y="332.10" width="0.80" height="0.80" fill="#46b04a"/><rect x="64.65" y="332.10" width="0.80" height="0.80" fill="#3a9a8c"/><rect x="65.40" y="332.10" width="0.80" height="0.80" fill="#3a9fb5"/><rect x="66.15" y="332.10" width="0.80" height="0.80" fill="#46b04a"/><rect x="66.90" y="332.10" width="0.80" height="0.80" fill="#46b04a"/><rect x="67.65" y="332.10" width="0.80" height="0.80" fill="#46b04a"/><rect x="68.40" y="332.10" width="0.80" height="0.80" fill="#3a9fb5"/><rect x="69.15" y="332.10" width="0.80" height="0.80" fill="#3a9a8c"/><rect x="69.90" y="332.10" width="0.80" height="0.80" fill="#46b04a"/><rect x="70.65" y="332.10" width="0.80" height="0.80" fill="#3a9a8c"/><rect x="71.40" y="332.10" width="0.80" height="0.80" fill="#3a9fb5"/><rect x="72.15" y="332.10" width="0.80" height="0.80" fill="#3a9fb5"/><rect x="72.90" y="332.10" width="0.80" height="0.80" fill="#3a9fb5"/><rect x="73.65" y="332.10" width="0.80" height="0.80" fill="#3a9fb5"/><rect x="48.90" y="332.85" width="0.80" height="0.80" fill="#3550b8"/><rect x="51.15" y="332.85" width="0.80" height="0.80" fill="#3a9a8c"/><rect x="52.65" y="332.85" width="0.80" height="0.80" fill="#3a9a8c"/><rect x="53.40" y="332.85" width="0.80" height="0.80" fill="#46b04a"/><rect x="54.15" y="332.85" width="0.80" height="0.80" fill="#46b04a"/><rect x="54.90" y="332.85" width="0.80" height="0.80" fill="#46b04a"/><rect x="55.65" y="332.85" width="0.80" height="0.80" fill="#46b04a"/><rect x="56.40" y="332.85" width="0.80" height="0.80" fill="#46b04a"/><rect x="57.15" y="332.85" width="0.80" height="0.80" fill="#46b04a"/><rect x="57.90" y="332.85" width="0.80" height="0.80" fill="#46b04a"/><rect x="58.65" y="332.85" width="0.80" height="0.80" fill="#46b04a"/><rect x="59.40" y="332.85" width="0.80" height="0.80" fill="#46b04a"/><rect x="60.15" y="332.85" width="0.80" height="0.80" fill="#46b04a"/><rect x="60.90" y="332.85" width="0.80" height="0.80" fill="#3a9a8c"/><rect x="61.65" y="332.85" width="0.80" height="0.80" fill="#3a9a8c"/><rect x="62.40" y="332.85" width="0.80" height="0.80" fill="#3a9a8c"/><rect x="63.15" y="332.85" width="0.80" height="0.80" fill="#46b04a"/><rect x="63.90" y="332.85" width="0.80" height="0.80" fill="#46b04a"/><rect x="64.65" y="332.85" width="0.80" height="0.80" fill="#46b04a"/><rect x="65.40" y="332.85" width="0.80" height="0.80" fill="#46b04a"/><rect x="66.15" y="332.85" width="0.80" height="0.80" fill="#46b04a"/><rect x="66.90" y="332.85" width="0.80" height="0.80" fill="#46b04a"/><rect x="67.65" y="332.85" width="0.80" height="0.80" fill="#46b04a"/><rect x="68.40" y="332.85" width="0.80" height="0.80" fill="#46b04a"/><rect x="69.15" y="332.85" width="0.80" height="0.80" fill="#46b04a"/><rect x="69.90" y="332.85" width="0.80" height="0.80" fill="#46b04a"/><rect x="70.65" y="332.85" width="0.80" height="0.80" fill="#3a9fb5"/><rect x="71.40" y="332.85" width="0.80" height="0.80" fill="#46b04a"/><rect x="72.15" y="332.85" width="0.80" height="0.80" fill="#3a9fb5"/><rect x="72.90" y="332.85" width="0.80" height="0.80" fill="#3550b8"/><rect x="74.40" y="332.85" width="0.80" height="0.80" fill="#3a9fb5"/><rect x="50.40" y="333.60" width="0.80" height="0.80" fill="#3a9fb5"/><rect x="51.15" y="333.60" width="0.80" height="0.80" fill="#3550b8"/><rect x="51.90" y="333.60" width="0.80" height="0.80" fill="#3a9fb5"/><rect x="52.65" y="333.60" width="0.80" height="0.80" fill="#46b04a"/><rect x="53.40" y="333.60" width="0.80" height="0.80" fill="#46b04a"/><rect x="54.15" y="333.60" width="0.80" height="0.80" fill="#46b04a"/><rect x="54.90" y="333.60" width="0.80" height="0.80" fill="#46b04a"/><rect x="55.65" y="333.60" width="0.80" height="0.80" fill="#46b04a"/><rect x="56.40" y="333.60" width="0.80" height="0.80" fill="#e0d83a"/><rect x="57.15" y="333.60" width="0.80" height="0.80" fill="#e0d83a"/><rect x="57.90" y="333.60" width="0.80" height="0.80" fill="#e0d83a"/><rect x="58.65" y="333.60" width="0.80" height="0.80" fill="#46b04a"/><rect x="59.40" y="333.60" width="0.80" height="0.80" fill="#46b04a"/><rect x="60.15" y="333.60" width="0.80" height="0.80" fill="#46b04a"/><rect x="60.90" y="333.60" width="0.80" height="0.80" fill="#46b04a"/><rect x="61.65" y="333.60" width="0.80" height="0.80" fill="#46b04a"/><rect x="62.40" y="333.60" width="0.80" height="0.80" fill="#46b04a"/><rect x="63.15" y="333.60" width="0.80" height="0.80" fill="#46b04a"/><rect x="63.90" y="333.60" width="0.80" height="0.80" fill="#46b04a"/><rect x="64.65" y="333.60" width="0.80" height="0.80" fill="#46b04a"/><rect x="65.40" y="333.60" width="0.80" height="0.80" fill="#46b04a"/><rect x="66.15" y="333.60" width="0.80" height="0.80" fill="#46b04a"/><rect x="66.90" y="333.60" width="0.80" height="0.80" fill="#46b04a"/><rect x="67.65" y="333.60" width="0.80" height="0.80" fill="#46b04a"/><rect x="68.40" y="333.60" width="0.80" height="0.80" fill="#46b04a"/><rect x="69.15" y="333.60" width="0.80" height="0.80" fill="#3a9fb5"/><rect x="69.90" y="333.60" width="0.80" height="0.80" fill="#46b04a"/><rect x="70.65" y="333.60" width="0.80" height="0.80" fill="#46b04a"/><rect x="71.40" y="333.60" width="0.80" height="0.80" fill="#3a9fb5"/><rect x="72.15" y="333.60" width="0.80" height="0.80" fill="#3a9a8c"/><rect x="72.90" y="333.60" width="0.80" height="0.80" fill="#3a9a8c"/><rect x="49.65" y="334.35" width="0.80" height="0.80" fill="#3550b8"/><rect x="50.40" y="334.35" width="0.80" height="0.80" fill="#3550b8"/><rect x="51.15" y="334.35" width="0.80" height="0.80" fill="#3a9a8c"/><rect x="51.90" y="334.35" width="0.80" height="0.80" fill="#3a9fb5"/><rect x="52.65" y="334.35" width="0.80" height="0.80" fill="#46b04a"/><rect x="53.40" y="334.35" width="0.80" height="0.80" fill="#46b04a"/><rect x="54.15" y="334.35" width="0.80" height="0.80" fill="#e0d83a"/><rect x="54.90" y="334.35" width="0.80" height="0.80" fill="#e0d83a"/><rect x="55.65" y="334.35" width="0.80" height="0.80" fill="#f3951e"/><rect x="56.40" y="334.35" width="0.80" height="0.80" fill="#f3951e"/><rect x="57.15" y="334.35" width="0.80" height="0.80" fill="#f3951e"/><rect x="57.90" y="334.35" width="0.80" height="0.80" fill="#f3951e"/><rect x="58.65" y="334.35" width="0.80" height="0.80" fill="#e0d83a"/><rect x="59.40" y="334.35" width="0.80" height="0.80" fill="#e0d83a"/><rect x="60.15" y="334.35" width="0.80" height="0.80" fill="#46b04a"/><rect x="60.90" y="334.35" width="0.80" height="0.80" fill="#46b04a"/><rect x="61.65" y="334.35" width="0.80" height="0.80" fill="#46b04a"/><rect x="62.40" y="334.35" width="0.80" height="0.80" fill="#46b04a"/><rect x="63.15" y="334.35" width="0.80" height="0.80" fill="#46b04a"/><rect x="63.90" y="334.35" width="0.80" height="0.80" fill="#46b04a"/><rect x="64.65" y="334.35" width="0.80" height="0.80" fill="#46b04a"/><rect x="65.40" y="334.35" width="0.80" height="0.80" fill="#46b04a"/><rect x="66.15" y="334.35" width="0.80" height="0.80" fill="#46b04a"/><rect x="66.90" y="334.35" width="0.80" height="0.80" fill="#46b04a"/><rect x="67.65" y="334.35" width="0.80" height="0.80" fill="#3a9a8c"/><rect x="68.40" y="334.35" width="0.80" height="0.80" fill="#3a9a8c"/><rect x="69.15" y="334.35" width="0.80" height="0.80" fill="#46b04a"/><rect x="69.90" y="334.35" width="0.80" height="0.80" fill="#3a9fb5"/><rect x="70.65" y="334.35" width="0.80" height="0.80" fill="#3a9a8c"/><rect x="71.40" y="334.35" width="0.80" height="0.80" fill="#3a9fb5"/><rect x="72.15" y="334.35" width="0.80" height="0.80" fill="#3550b8"/><rect x="49.65" y="335.10" width="0.80" height="0.80" fill="#3a9fb5"/><rect x="51.15" y="335.10" width="0.80" height="0.80" fill="#3a9fb5"/><rect x="51.90" y="335.10" width="0.80" height="0.80" fill="#3a9fb5"/><rect x="52.65" y="335.10" width="0.80" height="0.80" fill="#46b04a"/><rect x="53.40" y="335.10" width="0.80" height="0.80" fill="#e0d83a"/><rect x="54.15" y="335.10" width="0.80" height="0.80" fill="#f3951e"/><rect x="54.90" y="335.10" width="0.80" height="0.80" fill="#f3951e"/><rect x="55.65" y="335.10" width="0.80" height="0.80" fill="#e8261e"/><rect x="56.40" y="335.10" width="0.80" height="0.80" fill="#e8261e"/><rect x="57.15" y="335.10" width="0.80" height="0.80" fill="#e8261e"/><rect x="57.90" y="335.10" width="0.80" height="0.80" fill="#e8261e"/><rect x="58.65" y="335.10" width="0.80" height="0.80" fill="#f3951e"/><rect x="59.40" y="335.10" width="0.80" height="0.80" fill="#f3951e"/><rect x="60.15" y="335.10" width="0.80" height="0.80" fill="#e0d83a"/><rect x="60.90" y="335.10" width="0.80" height="0.80" fill="#e0d83a"/><rect x="61.65" y="335.10" width="0.80" height="0.80" fill="#46b04a"/><rect x="62.40" y="335.10" width="0.80" height="0.80" fill="#46b04a"/><rect x="63.15" y="335.10" width="0.80" height="0.80" fill="#46b04a"/><rect x="63.90" y="335.10" width="0.80" height="0.80" fill="#46b04a"/><rect x="64.65" y="335.10" width="0.80" height="0.80" fill="#46b04a"/><rect x="65.40" y="335.10" width="0.80" height="0.80" fill="#46b04a"/><rect x="66.15" y="335.10" width="0.80" height="0.80" fill="#46b04a"/><rect x="66.90" y="335.10" width="0.80" height="0.80" fill="#46b04a"/><rect x="67.65" y="335.10" width="0.80" height="0.80" fill="#3a9fb5"/><rect x="68.40" y="335.10" width="0.80" height="0.80" fill="#46b04a"/><rect x="69.15" y="335.10" width="0.80" height="0.80" fill="#3a9fb5"/><rect x="69.90" y="335.10" width="0.80" height="0.80" fill="#3a9fb5"/><rect x="70.65" y="335.10" width="0.80" height="0.80" fill="#3a9fb5"/><rect x="71.40" y="335.10" width="0.80" height="0.80" fill="#3a9a8c"/><rect x="48.90" y="335.85" width="0.80" height="0.80" fill="#3a9fb5"/><rect x="49.65" y="335.85" width="0.80" height="0.80" fill="#3550b8"/><rect x="50.40" y="335.85" width="0.80" height="0.80" fill="#46b04a"/><rect x="51.15" y="335.85" width="0.80" height="0.80" fill="#3a9a8c"/><rect x="51.90" y="335.85" width="0.80" height="0.80" fill="#46b04a"/><rect x="52.65" y="335.85" width="0.80" height="0.80" fill="#e0d83a"/><rect x="53.40" y="335.85" width="0.80" height="0.80" fill="#f3951e"/><rect x="54.15" y="335.85" width="0.80" height="0.80" fill="#f3951e"/><rect x="54.90" y="335.85" width="0.80" height="0.80" fill="#e8261e"/><rect x="55.65" y="335.85" width="0.80" height="0.80" fill="#e8261e"/><rect x="56.40" y="335.85" width="0.80" height="0.80" fill="#e8261e"/><rect x="57.15" y="335.85" width="0.80" height="0.80" fill="#e8261e"/><rect x="57.90" y="335.85" width="0.80" height="0.80" fill="#e8261e"/><rect x="58.65" y="335.85" width="0.80" height="0.80" fill="#e8261e"/><rect x="59.40" y="335.85" width="0.80" height="0.80" fill="#f3951e"/><rect x="60.15" y="335.85" width="0.80" height="0.80" fill="#f3951e"/><rect x="60.90" y="335.85" width="0.80" height="0.80" fill="#e0d83a"/><rect x="61.65" y="335.85" width="0.80" height="0.80" fill="#46b04a"/><rect x="62.40" y="335.85" width="0.80" height="0.80" fill="#46b04a"/><rect x="63.15" y="335.85" width="0.80" height="0.80" fill="#46b04a"/><rect x="63.90" y="335.85" width="0.80" height="0.80" fill="#46b04a"/><rect x="64.65" y="335.85" width="0.80" height="0.80" fill="#3a9fb5"/><rect x="65.40" y="335.85" width="0.80" height="0.80" fill="#3a9fb5"/><rect x="66.15" y="335.85" width="0.80" height="0.80" fill="#3a9fb5"/><rect x="66.90" y="335.85" width="0.80" height="0.80" fill="#3a9a8c"/><rect x="67.65" y="335.85" width="0.80" height="0.80" fill="#3a9a8c"/><rect x="68.40" y="335.85" width="0.80" height="0.80" fill="#3550b8"/><rect x="69.15" y="335.85" width="0.80" height="0.80" fill="#3a9a8c"/><rect x="69.90" y="335.85" width="0.80" height="0.80" fill="#3550b8"/><rect x="71.40" y="335.85" width="0.80" height="0.80" fill="#3550b8"/><rect x="75.15" y="335.85" width="0.80" height="0.80" fill="#3a9fb5"/><rect x="47.40" y="336.60" width="0.80" height="0.80" fill="#3550b8"/><rect x="48.90" y="336.60" width="0.80" height="0.80" fill="#3a9fb5"/><rect x="49.65" y="336.60" width="0.80" height="0.80" fill="#3a9fb5"/><rect x="50.40" y="336.60" width="0.80" height="0.80" fill="#46b04a"/><rect x="51.15" y="336.60" width="0.80" height="0.80" fill="#3a9a8c"/><rect x="51.90" y="336.60" width="0.80" height="0.80" fill="#46b04a"/><rect x="52.65" y="336.60" width="0.80" height="0.80" fill="#e0d83a"/><rect x="53.40" y="336.60" width="0.80" height="0.80" fill="#f3951e"/><rect x="54.15" y="336.60" width="0.80" height="0.80" fill="#e8261e"/><rect x="54.90" y="336.60" width="0.80" height="0.80" fill="#e8261e"/><rect x="55.65" y="336.60" width="0.80" height="0.80" fill="#e8261e"/><rect x="56.40" y="336.60" width="0.80" height="0.80" fill="#e8261e"/><rect x="57.15" y="336.60" width="0.80" height="0.80" fill="#e8261e"/><rect x="57.90" y="336.60" width="0.80" height="0.80" fill="#e8261e"/><rect x="58.65" y="336.60" width="0.80" height="0.80" fill="#e8261e"/><rect x="59.40" y="336.60" width="0.80" height="0.80" fill="#e8261e"/><rect x="60.15" y="336.60" width="0.80" height="0.80" fill="#f3951e"/><rect x="60.90" y="336.60" width="0.80" height="0.80" fill="#e0d83a"/><rect x="61.65" y="336.60" width="0.80" height="0.80" fill="#e0d83a"/><rect x="62.40" y="336.60" width="0.80" height="0.80" fill="#46b04a"/><rect x="63.15" y="336.60" width="0.80" height="0.80" fill="#46b04a"/><rect x="63.90" y="336.60" width="0.80" height="0.80" fill="#3a9fb5"/><rect x="64.65" y="336.60" width="0.80" height="0.80" fill="#46b04a"/><rect x="65.40" y="336.60" width="0.80" height="0.80" fill="#46b04a"/><rect x="66.15" y="336.60" width="0.80" height="0.80" fill="#3a9a8c"/><rect x="66.90" y="336.60" width="0.80" height="0.80" fill="#3a9a8c"/><rect x="67.65" y="336.60" width="0.80" height="0.80" fill="#3a9fb5"/><rect x="69.15" y="336.60" width="0.80" height="0.80" fill="#3a9a8c"/><rect x="69.90" y="336.60" width="0.80" height="0.80" fill="#3a9fb5"/><rect x="70.65" y="336.60" width="0.80" height="0.80" fill="#3550b8"/><rect x="48.15" y="337.35" width="0.80" height="0.80" fill="#3550b8"/><rect x="48.90" y="337.35" width="0.80" height="0.80" fill="#3a9a8c"/><rect x="49.65" y="337.35" width="0.80" height="0.80" fill="#3550b8"/><rect x="50.40" y="337.35" width="0.80" height="0.80" fill="#46b04a"/><rect x="51.15" y="337.35" width="0.80" height="0.80" fill="#46b04a"/><rect x="51.90" y="337.35" width="0.80" height="0.80" fill="#46b04a"/><rect x="52.65" y="337.35" width="0.80" height="0.80" fill="#f3951e"/><rect x="53.40" y="337.35" width="0.80" height="0.80" fill="#e8261e"/><rect x="54.15" y="337.35" width="0.80" height="0.80" fill="#e8261e"/><rect x="54.90" y="337.35" width="0.80" height="0.80" fill="#e8261e"/><rect x="55.65" y="337.35" width="0.80" height="0.80" fill="#e8261e"/><rect x="56.40" y="337.35" width="0.80" height="0.80" fill="#e8261e"/><rect x="57.15" y="337.35" width="0.80" height="0.80" fill="#e8261e"/><rect x="57.90" y="337.35" width="0.80" height="0.80" fill="#e8261e"/><rect x="58.65" y="337.35" width="0.80" height="0.80" fill="#e8261e"/><rect x="59.40" y="337.35" width="0.80" height="0.80" fill="#e8261e"/><rect x="60.15" y="337.35" width="0.80" height="0.80" fill="#f3951e"/><rect x="60.90" y="337.35" width="0.80" height="0.80" fill="#e0d83a"/><rect x="61.65" y="337.35" width="0.80" height="0.80" fill="#e0d83a"/><rect x="62.40" y="337.35" width="0.80" height="0.80" fill="#46b04a"/><rect x="63.15" y="337.35" width="0.80" height="0.80" fill="#46b04a"/><rect x="63.90" y="337.35" width="0.80" height="0.80" fill="#46b04a"/><rect x="64.65" y="337.35" width="0.80" height="0.80" fill="#3a9fb5"/><rect x="65.40" y="337.35" width="0.80" height="0.80" fill="#46b04a"/><rect x="66.15" y="337.35" width="0.80" height="0.80" fill="#3a9fb5"/><rect x="67.65" y="337.35" width="0.80" height="0.80" fill="#3a9a8c"/><rect x="68.40" y="337.35" width="0.80" height="0.80" fill="#3550b8"/><rect x="69.15" y="337.35" width="0.80" height="0.80" fill="#3a9a8c"/><rect x="69.90" y="337.35" width="0.80" height="0.80" fill="#3a9fb5"/><rect x="46.65" y="338.10" width="0.80" height="0.80" fill="#3550b8"/><rect x="47.40" y="338.10" width="0.80" height="0.80" fill="#3a9fb5"/><rect x="48.90" y="338.10" width="0.80" height="0.80" fill="#3a9fb5"/><rect x="49.65" y="338.10" width="0.80" height="0.80" fill="#3a9a8c"/><rect x="50.40" y="338.10" width="0.80" height="0.80" fill="#46b04a"/><rect x="51.15" y="338.10" width="0.80" height="0.80" fill="#46b04a"/><rect x="51.90" y="338.10" width="0.80" height="0.80" fill="#e0d83a"/><rect x="52.65" y="338.10" width="0.80" height="0.80" fill="#f3951e"/><rect x="53.40" y="338.10" width="0.80" height="0.80" fill="#e8261e"/><rect x="54.15" y="338.10" width="0.80" height="0.80" fill="#e8261e"/><rect x="54.90" y="338.10" width="0.80" height="0.80" fill="#e8261e"/><rect x="55.65" y="338.10" width="0.80" height="0.80" fill="#e8261e"/><rect x="56.40" y="338.10" width="0.80" height="0.80" fill="#e8261e"/><rect x="57.15" y="338.10" width="0.80" height="0.80" fill="#e8261e"/><rect x="57.90" y="338.10" width="0.80" height="0.80" fill="#e8261e"/><rect x="58.65" y="338.10" width="0.80" height="0.80" fill="#e8261e"/><rect x="59.40" y="338.10" width="0.80" height="0.80" fill="#e8261e"/><rect x="60.15" y="338.10" width="0.80" height="0.80" fill="#f3951e"/><rect x="60.90" y="338.10" width="0.80" height="0.80" fill="#e0d83a"/><rect x="61.65" y="338.10" width="0.80" height="0.80" fill="#e0d83a"/><rect x="62.40" y="338.10" width="0.80" height="0.80" fill="#46b04a"/><rect x="63.15" y="338.10" width="0.80" height="0.80" fill="#3a9a8c"/><rect x="63.90" y="338.10" width="0.80" height="0.80" fill="#46b04a"/><rect x="64.65" y="338.10" width="0.80" height="0.80" fill="#46b04a"/><rect x="65.40" y="338.10" width="0.80" height="0.80" fill="#3a9a8c"/><rect x="66.15" y="338.10" width="0.80" height="0.80" fill="#3a9a8c"/><rect x="66.90" y="338.10" width="0.80" height="0.80" fill="#3550b8"/><rect x="67.65" y="338.10" width="0.80" height="0.80" fill="#3a9fb5"/><rect x="68.40" y="338.10" width="0.80" height="0.80" fill="#3550b8"/><rect x="71.40" y="338.10" width="0.80" height="0.80" fill="#3550b8"/><rect x="48.90" y="338.85" width="0.80" height="0.80" fill="#3550b8"/><rect x="50.40" y="338.85" width="0.80" height="0.80" fill="#46b04a"/><rect x="51.15" y="338.85" width="0.80" height="0.80" fill="#46b04a"/><rect x="51.90" y="338.85" width="0.80" height="0.80" fill="#e0d83a"/><rect x="52.65" y="338.85" width="0.80" height="0.80" fill="#f3951e"/><rect x="53.40" y="338.85" width="0.80" height="0.80" fill="#e8261e"/><rect x="54.15" y="338.85" width="0.80" height="0.80" fill="#e8261e"/><rect x="54.90" y="338.85" width="0.80" height="0.80" fill="#e8261e"/><rect x="55.65" y="338.85" width="0.80" height="0.80" fill="#e8261e"/><rect x="56.40" y="338.85" width="0.80" height="0.80" fill="#e8261e"/><rect x="57.15" y="338.85" width="0.80" height="0.80" fill="#e8261e"/><rect x="57.90" y="338.85" width="0.80" height="0.80" fill="#e8261e"/><rect x="58.65" y="338.85" width="0.80" height="0.80" fill="#e8261e"/><rect x="59.40" y="338.85" width="0.80" height="0.80" fill="#e8261e"/><rect x="60.15" y="338.85" width="0.80" height="0.80" fill="#f3951e"/><rect x="60.90" y="338.85" width="0.80" height="0.80" fill="#e0d83a"/><rect x="61.65" y="338.85" width="0.80" height="0.80" fill="#46b04a"/><rect x="62.40" y="338.85" width="0.80" height="0.80" fill="#46b04a"/><rect x="63.15" y="338.85" width="0.80" height="0.80" fill="#46b04a"/><rect x="63.90" y="338.85" width="0.80" height="0.80" fill="#3a9a8c"/><rect x="64.65" y="338.85" width="0.80" height="0.80" fill="#3a9a8c"/><rect x="65.40" y="338.85" width="0.80" height="0.80" fill="#3a9a8c"/><rect x="66.15" y="338.85" width="0.80" height="0.80" fill="#3a9a8c"/><rect x="68.40" y="338.85" width="0.80" height="0.80" fill="#3550b8"/><rect x="69.15" y="338.85" width="0.80" height="0.80" fill="#3a9fb5"/><rect x="47.40" y="339.60" width="0.80" height="0.80" fill="#3550b8"/><rect x="48.90" y="339.60" width="0.80" height="0.80" fill="#3550b8"/><rect x="49.65" y="339.60" width="0.80" height="0.80" fill="#3a9a8c"/><rect x="50.40" y="339.60" width="0.80" height="0.80" fill="#3a9fb5"/><rect x="51.15" y="339.60" width="0.80" height="0.80" fill="#46b04a"/><rect x="51.90" y="339.60" width="0.80" height="0.80" fill="#46b04a"/><rect x="52.65" y="339.60" width="0.80" height="0.80" fill="#e0d83a"/><rect x="53.40" y="339.60" width="0.80" height="0.80" fill="#f3951e"/><rect x="54.15" y="339.60" width="0.80" height="0.80" fill="#e8261e"/><rect x="54.90" y="339.60" width="0.80" height="0.80" fill="#e8261e"/><rect x="55.65" y="339.60" width="0.80" height="0.80" fill="#e8261e"/><rect x="56.40" y="339.60" width="0.80" height="0.80" fill="#e8261e"/><rect x="57.15" y="339.60" width="0.80" height="0.80" fill="#e8261e"/><rect x="57.90" y="339.60" width="0.80" height="0.80" fill="#e8261e"/><rect x="58.65" y="339.60" width="0.80" height="0.80" fill="#e8261e"/><rect x="59.40" y="339.60" width="0.80" height="0.80" fill="#e8261e"/><rect x="60.15" y="339.60" width="0.80" height="0.80" fill="#f3951e"/><rect x="60.90" y="339.60" width="0.80" height="0.80" fill="#e0d83a"/><rect x="61.65" y="339.60" width="0.80" height="0.80" fill="#46b04a"/><rect x="62.40" y="339.60" width="0.80" height="0.80" fill="#3a9fb5"/><rect x="63.15" y="339.60" width="0.80" height="0.80" fill="#46b04a"/><rect x="63.90" y="339.60" width="0.80" height="0.80" fill="#3550b8"/><rect x="64.65" y="339.60" width="0.80" height="0.80" fill="#3a9fb5"/><rect x="65.40" y="339.60" width="0.80" height="0.80" fill="#3a9fb5"/><rect x="66.15" y="339.60" width="0.80" height="0.80" fill="#3550b8"/><rect x="48.90" y="340.35" width="0.80" height="0.80" fill="#3a9a8c"/><rect x="49.65" y="340.35" width="0.80" height="0.80" fill="#3a9a8c"/><rect x="50.40" y="340.35" width="0.80" height="0.80" fill="#46b04a"/><rect x="51.15" y="340.35" width="0.80" height="0.80" fill="#3a9fb5"/><rect x="51.90" y="340.35" width="0.80" height="0.80" fill="#46b04a"/><rect x="52.65" y="340.35" width="0.80" height="0.80" fill="#e0d83a"/><rect x="53.40" y="340.35" width="0.80" height="0.80" fill="#f3951e"/><rect x="54.15" y="340.35" width="0.80" height="0.80" fill="#e8261e"/><rect x="54.90" y="340.35" width="0.80" height="0.80" fill="#e8261e"/><rect x="55.65" y="340.35" width="0.80" height="0.80" fill="#e8261e"/><rect x="56.40" y="340.35" width="0.80" height="0.80" fill="#e8261e"/><rect x="57.15" y="340.35" width="0.80" height="0.80" fill="#e8261e"/><rect x="57.90" y="340.35" width="0.80" height="0.80" fill="#e8261e"/><rect x="58.65" y="340.35" width="0.80" height="0.80" fill="#e8261e"/><rect x="59.40" y="340.35" width="0.80" height="0.80" fill="#f3951e"/><rect x="60.15" y="340.35" width="0.80" height="0.80" fill="#e0d83a"/><rect x="60.90" y="340.35" width="0.80" height="0.80" fill="#e0d83a"/><rect x="61.65" y="340.35" width="0.80" height="0.80" fill="#46b04a"/><rect x="62.40" y="340.35" width="0.80" height="0.80" fill="#3a9a8c"/><rect x="63.15" y="340.35" width="0.80" height="0.80" fill="#3a9fb5"/><rect x="63.90" y="340.35" width="0.80" height="0.80" fill="#3a9a8c"/><rect x="64.65" y="340.35" width="0.80" height="0.80" fill="#3550b8"/><rect x="65.40" y="340.35" width="0.80" height="0.80" fill="#3a9a8c"/><rect x="69.15" y="340.35" width="0.80" height="0.80" fill="#3a9fb5"/><rect x="45.90" y="341.10" width="0.80" height="0.80" fill="#3550b8"/><rect x="48.90" y="341.10" width="0.80" height="0.80" fill="#3a9fb5"/><rect x="49.65" y="341.10" width="0.80" height="0.80" fill="#3a9a8c"/><rect x="50.40" y="341.10" width="0.80" height="0.80" fill="#46b04a"/><rect x="51.15" y="341.10" width="0.80" height="0.80" fill="#3a9fb5"/><rect x="51.90" y="341.10" width="0.80" height="0.80" fill="#46b04a"/><rect x="52.65" y="341.10" width="0.80" height="0.80" fill="#46b04a"/><rect x="53.40" y="341.10" width="0.80" height="0.80" fill="#e0d83a"/><rect x="54.15" y="341.10" width="0.80" height="0.80" fill="#f3951e"/><rect x="54.90" y="341.10" width="0.80" height="0.80" fill="#e8261e"/><rect x="55.65" y="341.10" width="0.80" height="0.80" fill="#e8261e"/><rect x="56.40" y="341.10" width="0.80" height="0.80" fill="#e8261e"/><rect x="57.15" y="341.10" width="0.80" height="0.80" fill="#e8261e"/><rect x="57.90" y="341.10" width="0.80" height="0.80" fill="#e8261e"/><rect x="58.65" y="341.10" width="0.80" height="0.80" fill="#f3951e"/><rect x="59.40" y="341.10" width="0.80" height="0.80" fill="#f3951e"/><rect x="60.15" y="341.10" width="0.80" height="0.80" fill="#e0d83a"/><rect x="60.90" y="341.10" width="0.80" height="0.80" fill="#46b04a"/><rect x="61.65" y="341.10" width="0.80" height="0.80" fill="#3a9a8c"/><rect x="62.40" y="341.10" width="0.80" height="0.80" fill="#46b04a"/><rect x="63.15" y="341.10" width="0.80" height="0.80" fill="#3a9fb5"/><rect x="63.90" y="341.10" width="0.80" height="0.80" fill="#3a9a8c"/><rect x="64.65" y="341.10" width="0.80" height="0.80" fill="#3a9a8c"/><rect x="65.40" y="341.10" width="0.80" height="0.80" fill="#3550b8"/><rect x="48.90" y="341.85" width="0.80" height="0.80" fill="#3a9a8c"/><rect x="49.65" y="341.85" width="0.80" height="0.80" fill="#3a9a8c"/><rect x="50.40" y="341.85" width="0.80" height="0.80" fill="#3550b8"/><rect x="51.15" y="341.85" width="0.80" height="0.80" fill="#3a9a8c"/><rect x="51.90" y="341.85" width="0.80" height="0.80" fill="#46b04a"/><rect x="52.65" y="341.85" width="0.80" height="0.80" fill="#46b04a"/><rect x="53.40" y="341.85" width="0.80" height="0.80" fill="#e0d83a"/><rect x="54.15" y="341.85" width="0.80" height="0.80" fill="#e0d83a"/><rect x="54.90" y="341.85" width="0.80" height="0.80" fill="#f3951e"/><rect x="55.65" y="341.85" width="0.80" height="0.80" fill="#f3951e"/><rect x="56.40" y="341.85" width="0.80" height="0.80" fill="#f3951e"/><rect x="57.15" y="341.85" width="0.80" height="0.80" fill="#f3951e"/><rect x="57.90" y="341.85" width="0.80" height="0.80" fill="#f3951e"/><rect x="58.65" y="341.85" width="0.80" height="0.80" fill="#e0d83a"/><rect x="59.40" y="341.85" width="0.80" height="0.80" fill="#e0d83a"/><rect x="60.15" y="341.85" width="0.80" height="0.80" fill="#46b04a"/><rect x="60.90" y="341.85" width="0.80" height="0.80" fill="#46b04a"/><rect x="61.65" y="341.85" width="0.80" height="0.80" fill="#3a9fb5"/><rect x="62.40" y="341.85" width="0.80" height="0.80" fill="#3a9a8c"/><rect x="63.15" y="341.85" width="0.80" height="0.80" fill="#3a9fb5"/><rect x="64.65" y="341.85" width="0.80" height="0.80" fill="#3a9fb5"/><rect x="49.65" y="342.60" width="0.80" height="0.80" fill="#3a9a8c"/><rect x="50.40" y="342.60" width="0.80" height="0.80" fill="#3a9a8c"/><rect x="51.15" y="342.60" width="0.80" height="0.80" fill="#46b04a"/><rect x="51.90" y="342.60" width="0.80" height="0.80" fill="#46b04a"/><rect x="52.65" y="342.60" width="0.80" height="0.80" fill="#46b04a"/><rect x="53.40" y="342.60" width="0.80" height="0.80" fill="#46b04a"/><rect x="54.15" y="342.60" width="0.80" height="0.80" fill="#46b04a"/><rect x="54.90" y="342.60" width="0.80" height="0.80" fill="#e0d83a"/><rect x="55.65" y="342.60" width="0.80" height="0.80" fill="#e0d83a"/><rect x="56.40" y="342.60" width="0.80" height="0.80" fill="#e0d83a"/><rect x="57.15" y="342.60" width="0.80" height="0.80" fill="#e0d83a"/><rect x="57.90" y="342.60" width="0.80" height="0.80" fill="#e0d83a"/><rect x="58.65" y="342.60" width="0.80" height="0.80" fill="#e0d83a"/><rect x="59.40" y="342.60" width="0.80" height="0.80" fill="#46b04a"/><rect x="60.15" y="342.60" width="0.80" height="0.80" fill="#46b04a"/><rect x="60.90" y="342.60" width="0.80" height="0.80" fill="#3a9fb5"/><rect x="61.65" y="342.60" width="0.80" height="0.80" fill="#3a9fb5"/><rect x="62.40" y="342.60" width="0.80" height="0.80" fill="#3a9a8c"/><rect x="63.15" y="342.60" width="0.80" height="0.80" fill="#3550b8"/><rect x="64.65" y="342.60" width="0.80" height="0.80" fill="#3550b8"/><rect x="49.65" y="343.35" width="0.80" height="0.80" fill="#3550b8"/><rect x="50.40" y="343.35" width="0.80" height="0.80" fill="#3a9fb5"/><rect x="51.15" y="343.35" width="0.80" height="0.80" fill="#3550b8"/><rect x="51.90" y="343.35" width="0.80" height="0.80" fill="#3a9fb5"/><rect x="52.65" y="343.35" width="0.80" height="0.80" fill="#3a9a8c"/><rect x="53.40" y="343.35" width="0.80" height="0.80" fill="#46b04a"/><rect x="54.15" y="343.35" width="0.80" height="0.80" fill="#46b04a"/><rect x="54.90" y="343.35" width="0.80" height="0.80" fill="#46b04a"/><rect x="55.65" y="343.35" width="0.80" height="0.80" fill="#46b04a"/><rect x="56.40" y="343.35" width="0.80" height="0.80" fill="#46b04a"/><rect x="57.15" y="343.35" width="0.80" height="0.80" fill="#46b04a"/><rect x="57.90" y="343.35" width="0.80" height="0.80" fill="#46b04a"/><rect x="58.65" y="343.35" width="0.80" height="0.80" fill="#46b04a"/><rect x="59.40" y="343.35" width="0.80" height="0.80" fill="#46b04a"/><rect x="60.15" y="343.35" width="0.80" height="0.80" fill="#46b04a"/><rect x="60.90" y="343.35" width="0.80" height="0.80" fill="#46b04a"/><rect x="61.65" y="343.35" width="0.80" height="0.80" fill="#3a9a8c"/><rect x="62.40" y="343.35" width="0.80" height="0.80" fill="#3a9a8c"/><rect x="63.15" y="343.35" width="0.80" height="0.80" fill="#3a9a8c"/><rect x="63.90" y="343.35" width="0.80" height="0.80" fill="#3550b8"/><rect x="65.40" y="343.35" width="0.80" height="0.80" fill="#3a9fb5"/><rect x="48.90" y="344.10" width="0.80" height="0.80" fill="#3550b8"/><rect x="50.40" y="344.10" width="0.80" height="0.80" fill="#3550b8"/><rect x="51.15" y="344.10" width="0.80" height="0.80" fill="#3a9fb5"/><rect x="52.65" y="344.10" width="0.80" height="0.80" fill="#46b04a"/><rect x="53.40" y="344.10" width="0.80" height="0.80" fill="#3a9fb5"/><rect x="54.15" y="344.10" width="0.80" height="0.80" fill="#3a9fb5"/><rect x="54.90" y="344.10" width="0.80" height="0.80" fill="#46b04a"/><rect x="55.65" y="344.10" width="0.80" height="0.80" fill="#46b04a"/><rect x="56.40" y="344.10" width="0.80" height="0.80" fill="#46b04a"/><rect x="57.15" y="344.10" width="0.80" height="0.80" fill="#46b04a"/><rect x="57.90" y="344.10" width="0.80" height="0.80" fill="#46b04a"/><rect x="58.65" y="344.10" width="0.80" height="0.80" fill="#46b04a"/><rect x="59.40" y="344.10" width="0.80" height="0.80" fill="#46b04a"/><rect x="60.15" y="344.10" width="0.80" height="0.80" fill="#3a9a8c"/><rect x="60.90" y="344.10" width="0.80" height="0.80" fill="#3a9a8c"/><rect x="62.40" y="344.10" width="0.80" height="0.80" fill="#3a9a8c"/><rect x="63.15" y="344.10" width="0.80" height="0.80" fill="#3a9fb5"/><rect x="63.90" y="344.10" width="0.80" height="0.80" fill="#3550b8"/><rect x="65.40" y="344.10" width="0.80" height="0.80" fill="#3550b8"/><rect x="51.15" y="344.85" width="0.80" height="0.80" fill="#3550b8"/><rect x="51.90" y="344.85" width="0.80" height="0.80" fill="#3a9a8c"/><rect x="52.65" y="344.85" width="0.80" height="0.80" fill="#3550b8"/><rect x="53.40" y="344.85" width="0.80" height="0.80" fill="#3a9a8c"/><rect x="54.15" y="344.85" width="0.80" height="0.80" fill="#3a9a8c"/><rect x="54.90" y="344.85" width="0.80" height="0.80" fill="#3a9a8c"/><rect x="55.65" y="344.85" width="0.80" height="0.80" fill="#3a9a8c"/><rect x="56.40" y="344.85" width="0.80" height="0.80" fill="#3a9a8c"/><rect x="57.15" y="344.85" width="0.80" height="0.80" fill="#46b04a"/><rect x="57.90" y="344.85" width="0.80" height="0.80" fill="#46b04a"/><rect x="58.65" y="344.85" width="0.80" height="0.80" fill="#46b04a"/><rect x="59.40" y="344.85" width="0.80" height="0.80" fill="#46b04a"/><rect x="60.15" y="344.85" width="0.80" height="0.80" fill="#3a9a8c"/><rect x="60.90" y="344.85" width="0.80" height="0.80" fill="#3a9fb5"/><rect x="48.90" y="345.60" width="0.80" height="0.80" fill="#3550b8"/><rect x="51.90" y="345.60" width="0.80" height="0.80" fill="#3a9fb5"/><rect x="52.65" y="345.60" width="0.80" height="0.80" fill="#3a9fb5"/><rect x="53.40" y="345.60" width="0.80" height="0.80" fill="#3a9fb5"/><rect x="54.15" y="345.60" width="0.80" height="0.80" fill="#3550b8"/><rect x="54.90" y="345.60" width="0.80" height="0.80" fill="#3a9a8c"/><rect x="55.65" y="345.60" width="0.80" height="0.80" fill="#3a9fb5"/><rect x="56.40" y="345.60" width="0.80" height="0.80" fill="#3a9fb5"/><rect x="57.15" y="345.60" width="0.80" height="0.80" fill="#46b04a"/><rect x="57.90" y="345.60" width="0.80" height="0.80" fill="#3a9fb5"/><rect x="58.65" y="345.60" width="0.80" height="0.80" fill="#3a9fb5"/><rect x="59.40" y="345.60" width="0.80" height="0.80" fill="#3a9a8c"/><rect x="60.15" y="345.60" width="0.80" height="0.80" fill="#3a9a8c"/><rect x="60.90" y="345.60" width="0.80" height="0.80" fill="#3550b8"/><rect x="63.15" y="345.60" width="0.80" height="0.80" fill="#3a9fb5"/><rect x="63.90" y="345.60" width="0.80" height="0.80" fill="#3550b8"/><rect x="64.65" y="345.60" width="0.80" height="0.80" fill="#3550b8"/><rect x="51.15" y="346.35" width="0.80" height="0.80" fill="#3550b8"/><rect x="51.90" y="346.35" width="0.80" height="0.80" fill="#3550b8"/><rect x="52.65" y="346.35" width="0.80" height="0.80" fill="#3a9a8c"/><rect x="53.40" y="346.35" width="0.80" height="0.80" fill="#3550b8"/><rect x="54.15" y="346.35" width="0.80" height="0.80" fill="#3a9fb5"/><rect x="55.65" y="346.35" width="0.80" height="0.80" fill="#3550b8"/><rect x="56.40" y="346.35" width="0.80" height="0.80" fill="#3a9a8c"/><rect x="57.15" y="346.35" width="0.80" height="0.80" fill="#3550b8"/><rect x="57.90" y="346.35" width="0.80" height="0.80" fill="#3550b8"/><rect x="58.65" y="346.35" width="0.80" height="0.80" fill="#3550b8"/><rect x="60.15" y="346.35" width="0.80" height="0.80" fill="#3550b8"/><rect x="60.90" y="346.35" width="0.80" height="0.80" fill="#3a9fb5"/><rect x="62.40" y="346.35" width="0.80" height="0.80" fill="#3550b8"/><rect x="50.40" y="347.10" width="0.80" height="0.80" fill="#3a9fb5"/><rect x="52.65" y="347.10" width="0.80" height="0.80" fill="#3550b8"/><rect x="54.15" y="347.10" width="0.80" height="0.80" fill="#3550b8"/><rect x="54.90" y="347.10" width="0.80" height="0.80" fill="#3a9a8c"/><rect x="56.40" y="347.10" width="0.80" height="0.80" fill="#3a9a8c"/><rect x="57.90" y="347.10" width="0.80" height="0.80" fill="#3a9a8c"/><rect x="58.65" y="347.10" width="0.80" height="0.80" fill="#3550b8"/><rect x="59.40" y="347.10" width="0.80" height="0.80" fill="#3a9fb5"/><rect x="61.65" y="347.10" width="0.80" height="0.80" fill="#3550b8"/><rect x="51.90" y="347.85" width="0.80" height="0.80" fill="#3550b8"/><rect x="55.65" y="347.85" width="0.80" height="0.80" fill="#3550b8"/><rect x="56.40" y="347.85" width="0.80" height="0.80" fill="#3a9fb5"/><rect x="57.15" y="347.85" width="0.80" height="0.80" fill="#3a9fb5"/><rect x="57.90" y="347.85" width="0.80" height="0.80" fill="#3a9a8c"/><rect x="62.40" y="347.85" width="0.80" height="0.80" fill="#3550b8"/><rect x="63.90" y="347.85" width="0.80" height="0.80" fill="#3550b8"/><rect x="54.15" y="348.60" width="0.80" height="0.80" fill="#3a9fb5"/><rect x="56.40" y="348.60" width="0.80" height="0.80" fill="#3a9fb5"/><rect x="62.40" y="348.60" width="0.80" height="0.80" fill="#3550b8"/><rect x="53.40" y="349.35" width="0.80" height="0.80" fill="#3550b8"/><rect x="57.15" y="349.35" width="0.80" height="0.80" fill="#3550b8"/><rect x="51.90" y="350.10" width="0.80" height="0.80" fill="#3550b8"/></g>
<rect x="42.30" y="304.50" width="53.50" height="56.20" fill="none" stroke="#8592a8" stroke-width="0.75"/>
<text x="39.90" y="361.00" font-size="4.5" text-anchor="end" fill="#484848">10<tspan font-size="2.93" dy="-1.6">0</tspan></text>
<text x="39.90" y="351.40" font-size="4.5" text-anchor="end" fill="#484848">10<tspan font-size="2.93" dy="-1.6">1</tspan></text>
<text x="39.90" y="341.80" font-size="4.5" text-anchor="end" fill="#484848">10<tspan font-size="2.93" dy="-1.6">2</tspan></text>
<text x="39.90" y="332.20" font-size="4.5" text-anchor="end" fill="#484848">10<tspan font-size="2.93" dy="-1.6">3</tspan></text>
<text x="39.90" y="322.60" font-size="4.5" text-anchor="end" fill="#484848">10<tspan font-size="2.93" dy="-1.6">4</tspan></text>
<text x="39.90" y="313.00" font-size="4.5" text-anchor="end" fill="#484848">10<tspan font-size="2.93" dy="-1.6">5</tspan></text>
<text x="42.50" y="368.00" font-size="4.5" text-anchor="middle" fill="#484848">10<tspan font-size="2.93" dy="-1.6">0</tspan></text>
<text x="53.60" y="368.00" font-size="4.5" text-anchor="middle" fill="#484848">10<tspan font-size="2.93" dy="-1.6">1</tspan></text>
<text x="64.70" y="368.00" font-size="4.5" text-anchor="middle" fill="#484848">10<tspan font-size="2.93" dy="-1.6">2</tspan></text>
<text x="75.80" y="368.00" font-size="4.5" text-anchor="middle" fill="#484848">10<tspan font-size="2.93" dy="-1.6">3</tspan></text>
<text x="86.90" y="368.00" font-size="4.5" text-anchor="middle" fill="#484848">10<tspan font-size="2.93" dy="-1.6">4</tspan></text>
<text x="44.00" y="309.80" font-size="5.65" text-anchor="start" fill="#e4302c" stroke="#e4302c" stroke-width="0.1" textLength="13.00" lengthAdjust="spacingAndGlyphs">2.19%</text>
<text x="76.80" y="309.80" font-size="5.65" text-anchor="start" fill="#e4302c" stroke="#e4302c" stroke-width="0.1" textLength="14.70" lengthAdjust="spacingAndGlyphs">6.34%</text>
<text x="44.00" y="357.60" font-size="5.65" text-anchor="start" fill="#222" stroke="#222" stroke-width="0.1" textLength="13.00" lengthAdjust="spacingAndGlyphs">74.52%</text>
<text x="75.00" y="357.60" font-size="5.65" text-anchor="start" fill="#e4302c" stroke="#e4302c" stroke-width="0.1" textLength="16.50" lengthAdjust="spacingAndGlyphs">16.95%</text>
<rect x="113.10" y="304.50" width="53.10" height="56.20" fill="#fff"/>
<line x1="135.30" y1="304.50" x2="135.30" y2="360.70" stroke="#b4b4b4" stroke-width="0.8"/>
<line x1="113.10" y1="332.80" x2="163.20" y2="332.80" stroke="#b4b4b4" stroke-width="0.8"/>
<g filter="url(#bl3)"><rect x="138.45" y="319.35" width="0.80" height="0.80" fill="#3a9fb5"/><rect x="139.20" y="319.35" width="0.80" height="0.80" fill="#3550b8"/><rect x="138.45" y="320.10" width="0.80" height="0.80" fill="#3550b8"/><rect x="139.95" y="320.10" width="0.80" height="0.80" fill="#3a9fb5"/><rect x="138.45" y="320.85" width="0.80" height="0.80" fill="#3550b8"/><rect x="139.20" y="320.85" width="0.80" height="0.80" fill="#3a9fb5"/><rect x="142.20" y="320.85" width="0.80" height="0.80" fill="#3550b8"/><rect x="133.95" y="321.60" width="0.80" height="0.80" fill="#3550b8"/><rect x="141.45" y="321.60" width="0.80" height="0.80" fill="#3a9fb5"/><rect x="138.45" y="322.35" width="0.80" height="0.80" fill="#3550b8"/><rect x="139.95" y="322.35" width="0.80" height="0.80" fill="#3550b8"/><rect x="134.70" y="323.10" width="0.80" height="0.80" fill="#3550b8"/><rect x="136.20" y="323.10" width="0.80" height="0.80" fill="#3550b8"/><rect x="136.95" y="323.10" width="0.80" height="0.80" fill="#3550b8"/><rect x="137.70" y="323.10" width="0.80" height="0.80" fill="#3a9a8c"/><rect x="138.45" y="323.10" width="0.80" height="0.80" fill="#3a9a8c"/><rect x="139.20" y="323.10" width="0.80" height="0.80" fill="#3a9fb5"/><rect x="139.95" y="323.10" width="0.80" height="0.80" fill="#3a9a8c"/><rect x="133.20" y="323.85" width="0.80" height="0.80" fill="#3a9fb5"/><rect x="134.70" y="323.85" width="0.80" height="0.80" fill="#3550b8"/><rect x="136.20" y="323.85" width="0.80" height="0.80" fill="#3a9fb5"/><rect x="136.95" y="323.85" width="0.80" height="0.80" fill="#3a9fb5"/><rect x="137.70" y="323.85" width="0.80" height="0.80" fill="#3550b8"/><rect x="138.45" y="323.85" width="0.80" height="0.80" fill="#3a9a8c"/><rect x="139.20" y="323.85" width="0.80" height="0.80" fill="#3a9a8c"/><rect x="142.20" y="323.85" width="0.80" height="0.80" fill="#3550b8"/><rect x="135.45" y="324.60" width="0.80" height="0.80" fill="#3550b8"/><rect x="136.20" y="324.60" width="0.80" height="0.80" fill="#3a9a8c"/><rect x="136.95" y="324.60" width="0.80" height="0.80" fill="#3a9fb5"/><rect x="138.45" y="324.60" width="0.80" height="0.80" fill="#3a9fb5"/><rect x="139.20" y="324.60" width="0.80" height="0.80" fill="#3550b8"/><rect x="139.95" y="324.60" width="0.80" height="0.80" fill="#3a9fb5"/><rect x="140.70" y="324.60" width="0.80" height="0.80" fill="#3550b8"/><rect x="141.45" y="324.60" width="0.80" height="0.80" fill="#3550b8"/><rect x="142.20" y="324.60" width="0.80" height="0.80" fill="#3a9fb5"/><rect x="142.95" y="324.60" width="0.80" height="0.80" fill="#3550b8"/><rect x="134.70" y="325.35" width="0.80" height="0.80" fill="#3a9fb5"/><rect x="135.45" y="325.35" width="0.80" height="0.80" fill="#3a9a8c"/><rect x="136.20" y="325.35" width="0.80" height="0.80" fill="#3a9a8c"/><rect x="136.95" y="325.35" width="0.80" height="0.80" fill="#3550b8"/><rect x="137.70" y="325.35" width="0.80" height="0.80" fill="#3550b8"/><rect x="138.45" y="325.35" width="0.80" height="0.80" fill="#3550b8"/><rect x="139.20" y="325.35" width="0.80" height="0.80" fill="#3550b8"/><rect x="139.95" y="325.35" width="0.80" height="0.80" fill="#3550b8"/><rect x="140.70" y="325.35" width="0.80" height="0.80" fill="#3a9a8c"/><rect x="141.45" y="325.35" width="0.80" height="0.80" fill="#3550b8"/><rect x="142.20" y="325.35" width="0.80" height="0.80" fill="#3a9fb5"/><rect x="144.45" y="325.35" width="0.80" height="0.80" fill="#3a9fb5"/><rect x="133.20" y="326.10" width="0.80" height="0.80" fill="#3550b8"/><rect x="134.70" y="326.10" width="0.80" height="0.80" fill="#3a9a8c"/><rect x="135.45" y="326.10" width="0.80" height="0.80" fill="#3550b8"/><rect x="136.20" y="326.10" width="0.80" height="0.80" fill="#3a9fb5"/><rect x="136.95" y="326.10" width="0.80" height="0.80" fill="#3a9a8c"/><rect x="137.70" y="326.10" width="0.80" height="0.80" fill="#46b04a"/><rect x="138.45" y="326.10" width="0.80" height="0.80" fill="#46b04a"/><rect x="139.20" y="326.10" width="0.80" height="0.80" fill="#3a9a8c"/><rect x="139.95" y="326.10" width="0.80" height="0.80" fill="#46b04a"/><rect x="140.70" y="326.10" width="0.80" height="0.80" fill="#3a9a8c"/><rect x="141.45" y="326.10" width="0.80" height="0.80" fill="#3a9fb5"/><rect x="142.20" y="326.10" width="0.80" height="0.80" fill="#3a9fb5"/><rect x="142.95" y="326.10" width="0.80" height="0.80" fill="#3a9a8c"/><rect x="144.45" y="326.10" width="0.80" height="0.80" fill="#3550b8"/><rect x="135.45" y="326.85" width="0.80" height="0.80" fill="#3a9a8c"/><rect x="136.20" y="326.85" width="0.80" height="0.80" fill="#3a9fb5"/><rect x="136.95" y="326.85" width="0.80" height="0.80" fill="#46b04a"/><rect x="137.70" y="326.85" width="0.80" height="0.80" fill="#3a9fb5"/><rect x="138.45" y="326.85" width="0.80" height="0.80" fill="#46b04a"/><rect x="139.20" y="326.85" width="0.80" height="0.80" fill="#46b04a"/><rect x="139.95" y="326.85" width="0.80" height="0.80" fill="#3a9fb5"/><rect x="140.70" y="326.85" width="0.80" height="0.80" fill="#46b04a"/><rect x="141.45" y="326.85" width="0.80" height="0.80" fill="#3a9fb5"/><rect x="142.20" y="326.85" width="0.80" height="0.80" fill="#3550b8"/><rect x="142.95" y="326.85" width="0.80" height="0.80" fill="#3550b8"/><rect x="133.20" y="327.60" width="0.80" height="0.80" fill="#3a9fb5"/><rect x="134.70" y="327.60" width="0.80" height="0.80" fill="#3a9a8c"/><rect x="135.45" y="327.60" width="0.80" height="0.80" fill="#3a9fb5"/><rect x="136.20" y="327.60" width="0.80" height="0.80" fill="#3a9a8c"/><rect x="136.95" y="327.60" width="0.80" height="0.80" fill="#46b04a"/><rect x="137.70" y="327.60" width="0.80" height="0.80" fill="#3a9fb5"/><rect x="138.45" y="327.60" width="0.80" height="0.80" fill="#46b04a"/><rect x="139.20" y="327.60" width="0.80" height="0.80" fill="#46b04a"/><rect x="139.95" y="327.60" width="0.80" height="0.80" fill="#46b04a"/><rect x="140.70" y="327.60" width="0.80" height="0.80" fill="#46b04a"/><rect x="141.45" y="327.60" width="0.80" height="0.80" fill="#3a9a8c"/><rect x="142.20" y="327.60" width="0.80" height="0.80" fill="#3550b8"/><rect x="142.95" y="327.60" width="0.80" height="0.80" fill="#3550b8"/><rect x="143.70" y="327.60" width="0.80" height="0.80" fill="#3550b8"/><rect x="133.95" y="328.35" width="0.80" height="0.80" fill="#3a9fb5"/><rect x="134.70" y="328.35" width="0.80" height="0.80" fill="#3a9a8c"/><rect x="135.45" y="328.35" width="0.80" height="0.80" fill="#3a9a8c"/><rect x="136.20" y="328.35" width="0.80" height="0.80" fill="#46b04a"/><rect x="136.95" y="328.35" width="0.80" height="0.80" fill="#3a9fb5"/><rect x="137.70" y="328.35" width="0.80" height="0.80" fill="#46b04a"/><rect x="138.45" y="328.35" width="0.80" height="0.80" fill="#46b04a"/><rect x="139.20" y="328.35" width="0.80" height="0.80" fill="#46b04a"/><rect x="139.95" y="328.35" width="0.80" height="0.80" fill="#46b04a"/><rect x="140.70" y="328.35" width="0.80" height="0.80" fill="#46b04a"/><rect x="141.45" y="328.35" width="0.80" height="0.80" fill="#3a9a8c"/><rect x="142.20" y="328.35" width="0.80" height="0.80" fill="#3a9fb5"/><rect x="142.95" y="328.35" width="0.80" height="0.80" fill="#3a9a8c"/><rect x="132.45" y="329.10" width="0.80" height="0.80" fill="#3a9fb5"/><rect x="133.95" y="329.10" width="0.80" height="0.80" fill="#3550b8"/><rect x="134.70" y="329.10" width="0.80" height="0.80" fill="#3550b8"/><rect x="135.45" y="329.10" width="0.80" height="0.80" fill="#3a9a8c"/><rect x="136.20" y="329.10" width="0.80" height="0.80" fill="#3a9a8c"/><rect x="136.95" y="329.10" width="0.80" height="0.80" fill="#46b04a"/><rect x="137.70" y="329.10" width="0.80" height="0.80" fill="#46b04a"/><rect x="138.45" y="329.10" width="0.80" height="0.80" fill="#e0d83a"/><rect x="139.20" y="329.10" width="0.80" height="0.80" fill="#e0d83a"/><rect x="139.95" y="329.10" width="0.80" height="0.80" fill="#e0d83a"/><rect x="140.70" y="329.10" width="0.80" height="0.80" fill="#e0d83a"/><rect x="141.45" y="329.10" width="0.80" height="0.80" fill="#46b04a"/><rect x="142.20" y="329.10" width="0.80" height="0.80" fill="#3a9fb5"/><rect x="142.95" y="329.10" width="0.80" height="0.80" fill="#3a9fb5"/><rect x="143.70" y="329.10" width="0.80" height="0.80" fill="#3a9a8c"/><rect x="144.45" y="329.10" width="0.80" height="0.80" fill="#3a9fb5"/><rect x="145.20" y="329.10" width="0.80" height="0.80" fill="#3a9fb5"/><rect x="133.95" y="329.85" width="0.80" height="0.80" fill="#3a9fb5"/><rect x="134.70" y="329.85" width="0.80" height="0.80" fill="#3550b8"/><rect x="135.45" y="329.85" width="0.80" height="0.80" fill="#3a9a8c"/><rect x="136.20" y="329.85" width="0.80" height="0.80" fill="#46b04a"/><rect x="136.95" y="329.85" width="0.80" height="0.80" fill="#46b04a"/><rect x="137.70" y="329.85" width="0.80" height="0.80" fill="#e0d83a"/><rect x="138.45" y="329.85" width="0.80" height="0.80" fill="#f3951e"/><rect x="139.20" y="329.85" width="0.80" height="0.80" fill="#f3951e"/><rect x="139.95" y="329.85" width="0.80" height="0.80" fill="#f3951e"/><rect x="140.70" y="329.85" width="0.80" height="0.80" fill="#e0d83a"/><rect x="141.45" y="329.85" width="0.80" height="0.80" fill="#46b04a"/><rect x="142.20" y="329.85" width="0.80" height="0.80" fill="#46b04a"/><rect x="142.95" y="329.85" width="0.80" height="0.80" fill="#3a9fb5"/><rect x="143.70" y="329.85" width="0.80" height="0.80" fill="#3a9fb5"/><rect x="144.45" y="329.85" width="0.80" height="0.80" fill="#3a9a8c"/><rect x="145.20" y="329.85" width="0.80" height="0.80" fill="#3a9fb5"/><rect x="131.70" y="330.60" width="0.80" height="0.80" fill="#3a9fb5"/><rect x="133.20" y="330.60" width="0.80" height="0.80" fill="#3a9fb5"/><rect x="133.95" y="330.60" width="0.80" height="0.80" fill="#3a9a8c"/><rect x="135.45" y="330.60" width="0.80" height="0.80" fill="#46b04a"/><rect x="136.20" y="330.60" width="0.80" height="0.80" fill="#46b04a"/><rect x="136.95" y="330.60" width="0.80" height="0.80" fill="#e0d83a"/><rect x="137.70" y="330.60" width="0.80" height="0.80" fill="#f3951e"/><rect x="138.45" y="330.60" width="0.80" height="0.80" fill="#e8261e"/><rect x="139.20" y="330.60" width="0.80" height="0.80" fill="#e8261e"/><rect x="139.95" y="330.60" width="0.80" height="0.80" fill="#e8261e"/><rect x="140.70" y="330.60" width="0.80" height="0.80" fill="#f3951e"/><rect x="141.45" y="330.60" width="0.80" height="0.80" fill="#e0d83a"/><rect x="142.20" y="330.60" width="0.80" height="0.80" fill="#46b04a"/><rect x="142.95" y="330.60" width="0.80" height="0.80" fill="#3a9a8c"/><rect x="144.45" y="330.60" width="0.80" height="0.80" fill="#3a9a8c"/><rect x="145.20" y="330.60" width="0.80" height="0.80" fill="#3550b8"/><rect x="130.95" y="331.35" width="0.80" height="0.80" fill="#3550b8"/><rect x="133.95" y="331.35" width="0.80" height="0.80" fill="#3a9fb5"/><rect x="134.70" y="331.35" width="0.80" height="0.80" fill="#3a9a8c"/><rect x="135.45" y="331.35" width="0.80" height="0.80" fill="#46b04a"/><rect x="136.20" y="331.35" width="0.80" height="0.80" fill="#46b04a"/><rect x="136.95" y="331.35" width="0.80" height="0.80" fill="#e0d83a"/><rect x="137.70" y="331.35" width="0.80" height="0.80" fill="#e8261e"/><rect x="138.45" y="331.35" width="0.80" height="0.80" fill="#e8261e"/><rect x="139.20" y="331.35" width="0.80" height="0.80" fill="#e8261e"/><rect x="139.95" y="331.35" width="0.80" height="0.80" fill="#e8261e"/><rect x="140.70" y="331.35" width="0.80" height="0.80" fill="#e8261e"/><rect x="141.45" y="331.35" width="0.80" height="0.80" fill="#f3951e"/><rect x="142.20" y="331.35" width="0.80" height="0.80" fill="#e0d83a"/><rect x="142.95" y="331.35" width="0.80" height="0.80" fill="#46b04a"/><rect x="143.70" y="331.35" width="0.80" height="0.80" fill="#46b04a"/><rect x="144.45" y="331.35" width="0.80" height="0.80" fill="#3a9fb5"/><rect x="145.20" y="331.35" width="0.80" height="0.80" fill="#3550b8"/><rect x="145.95" y="331.35" width="0.80" height="0.80" fill="#3550b8"/><rect x="133.20" y="332.10" width="0.80" height="0.80" fill="#3550b8"/><rect x="133.95" y="332.10" width="0.80" height="0.80" fill="#3a9a8c"/><rect x="134.70" y="332.10" width="0.80" height="0.80" fill="#46b04a"/><rect x="135.45" y="332.10" width="0.80" height="0.80" fill="#46b04a"/><rect x="136.20" y="332.10" width="0.80" height="0.80" fill="#e0d83a"/><rect x="136.95" y="332.10" width="0.80" height="0.80" fill="#f3951e"/><rect x="137.70" y="332.10" width="0.80" height="0.80" fill="#e8261e"/><rect x="138.45" y="332.10" width="0.80" height="0.80" fill="#e8261e"/><rect x="139.20" y="332.10" width="0.80" height="0.80" fill="#e8261e"/><rect x="139.95" y="332.10" width="0.80" height="0.80" fill="#e8261e"/><rect x="140.70" y="332.10" width="0.80" height="0.80" fill="#e8261e"/><rect x="141.45" y="332.10" width="0.80" height="0.80" fill="#f3951e"/><rect x="142.20" y="332.10" width="0.80" height="0.80" fill="#e0d83a"/><rect x="142.95" y="332.10" width="0.80" height="0.80" fill="#46b04a"/><rect x="143.70" y="332.10" width="0.80" height="0.80" fill="#46b04a"/><rect x="144.45" y="332.10" width="0.80" height="0.80" fill="#3a9a8c"/><rect x="130.95" y="332.85" width="0.80" height="0.80" fill="#3550b8"/><rect x="134.70" y="332.85" width="0.80" height="0.80" fill="#46b04a"/><rect x="135.45" y="332.85" width="0.80" height="0.80" fill="#46b04a"/><rect x="136.20" y="332.85" width="0.80" height="0.80" fill="#e0d83a"/><rect x="136.95" y="332.85" width="0.80" height="0.80" fill="#f3951e"/><rect x="137.70" y="332.85" width="0.80" height="0.80" fill="#e8261e"/><rect x="138.45" y="332.85" width="0.80" height="0.80" fill="#e8261e"/><rect x="139.20" y="332.85" width="0.80" height="0.80" fill="#e8261e"/><rect x="139.95" y="332.85" width="0.80" height="0.80" fill="#e8261e"/><rect x="140.70" y="332.85" width="0.80" height="0.80" fill="#e8261e"/><rect x="141.45" y="332.85" width="0.80" height="0.80" fill="#e8261e"/><rect x="142.20" y="332.85" width="0.80" height="0.80" fill="#e0d83a"/><rect x="142.95" y="332.85" width="0.80" height="0.80" fill="#46b04a"/><rect x="143.70" y="332.85" width="0.80" height="0.80" fill="#3a9a8c"/><rect x="144.45" y="332.85" width="0.80" height="0.80" fill="#3a9fb5"/><rect x="145.20" y="332.85" width="0.80" height="0.80" fill="#3a9a8c"/><rect x="131.70" y="333.60" width="0.80" height="0.80" fill="#3a9fb5"/><rect x="133.95" y="333.60" width="0.80" height="0.80" fill="#3550b8"/><rect x="134.70" y="333.60" width="0.80" height="0.80" fill="#3a9fb5"/><rect x="135.45" y="333.60" width="0.80" height="0.80" fill="#46b04a"/><rect x="136.20" y="333.60" width="0.80" height="0.80" fill="#e0d83a"/><rect x="136.95" y="333.60" width="0.80" height="0.80" fill="#f3951e"/><rect x="137.70" y="333.60" width="0.80" height="0.80" fill="#e8261e"/><rect x="138.45" y="333.60" width="0.80" height="0.80" fill="#e8261e"/><rect x="139.20" y="333.60" width="0.80" height="0.80" fill="#e8261e"/><rect x="139.95" y="333.60" width="0.80" height="0.80" fill="#e8261e"/><rect x="140.70" y="333.60" width="0.80" height="0.80" fill="#e8261e"/><rect x="141.45" y="333.60" width="0.80" height="0.80" fill="#e8261e"/><rect x="142.20" y="333.60" width="0.80" height="0.80" fill="#f3951e"/><rect x="142.95" y="333.60" width="0.80" height="0.80" fill="#46b04a"/><rect x="143.70" y="333.60" width="0.80" height="0.80" fill="#3a9fb5"/><rect x="144.45" y="333.60" width="0.80" height="0.80" fill="#3a9fb5"/><rect x="145.20" y="333.60" width="0.80" height="0.80" fill="#3550b8"/><rect x="133.20" y="334.35" width="0.80" height="0.80" fill="#3550b8"/><rect x="133.95" y="334.35" width="0.80" height="0.80" fill="#3a9fb5"/><rect x="134.70" y="334.35" width="0.80" height="0.80" fill="#46b04a"/><rect x="135.45" y="334.35" width="0.80" height="0.80" fill="#46b04a"/><rect x="136.20" y="334.35" width="0.80" height="0.80" fill="#e0d83a"/><rect x="136.95" y="334.35" width="0.80" height="0.80" fill="#f3951e"/><rect x="137.70" y="334.35" width="0.80" height="0.80" fill="#e8261e"/><rect x="138.45" y="334.35" width="0.80" height="0.80" fill="#e8261e"/><rect x="139.20" y="334.35" width="0.80" height="0.80" fill="#e8261e"/><rect x="139.95" y="334.35" width="0.80" height="0.80" fill="#e8261e"/><rect x="140.70" y="334.35" width="0.80" height="0.80" fill="#e8261e"/><rect x="141.45" y="334.35" width="0.80" height="0.80" fill="#e8261e"/><rect x="142.20" y="334.35" width="0.80" height="0.80" fill="#f3951e"/><rect x="142.95" y="334.35" width="0.80" height="0.80" fill="#46b04a"/><rect x="143.70" y="334.35" width="0.80" height="0.80" fill="#46b04a"/><rect x="145.20" y="334.35" width="0.80" height="0.80" fill="#3550b8"/><rect x="130.95" y="335.10" width="0.80" height="0.80" fill="#3a9fb5"/><rect x="133.20" y="335.10" width="0.80" height="0.80" fill="#3a9fb5"/><rect x="133.95" y="335.10" width="0.80" height="0.80" fill="#3a9fb5"/><rect x="134.70" y="335.10" width="0.80" height="0.80" fill="#3a9a8c"/><rect x="135.45" y="335.10" width="0.80" height="0.80" fill="#46b04a"/><rect x="136.20" y="335.10" width="0.80" height="0.80" fill="#e0d83a"/><rect x="136.95" y="335.10" width="0.80" height="0.80" fill="#f3951e"/><rect x="137.70" y="335.10" width="0.80" height="0.80" fill="#e8261e"/><rect x="138.45" y="335.10" width="0.80" height="0.80" fill="#e8261e"/><rect x="139.20" y="335.10" width="0.80" height="0.80" fill="#e8261e"/><rect x="139.95" y="335.10" width="0.80" height="0.80" fill="#e8261e"/><rect x="140.70" y="335.10" width="0.80" height="0.80" fill="#e8261e"/><rect x="141.45" y="335.10" width="0.80" height="0.80" fill="#e8261e"/><rect x="142.20" y="335.10" width="0.80" height="0.80" fill="#e0d83a"/><rect x="142.95" y="335.10" width="0.80" height="0.80" fill="#46b04a"/><rect x="143.70" y="335.10" width="0.80" height="0.80" fill="#46b04a"/><rect x="144.45" y="335.10" width="0.80" height="0.80" fill="#3a9a8c"/><rect x="145.20" y="335.10" width="0.80" height="0.80" fill="#3a9a8c"/><rect x="145.95" y="335.10" width="0.80" height="0.80" fill="#3a9fb5"/><rect x="133.95" y="335.85" width="0.80" height="0.80" fill="#3a9fb5"/><rect x="134.70" y="335.85" width="0.80" height="0.80" fill="#3550b8"/><rect x="135.45" y="335.85" width="0.80" height="0.80" fill="#3a9a8c"/><rect x="136.20" y="335.85" width="0.80" height="0.80" fill="#46b04a"/><rect x="136.95" y="335.85" width="0.80" height="0.80" fill="#f3951e"/><rect x="137.70" y="335.85" width="0.80" height="0.80" fill="#e8261e"/><rect x="138.45" y="335.85" width="0.80" height="0.80" fill="#e8261e"/><rect x="139.20" y="335.85" width="0.80" height="0.80" fill="#e8261e"/><rect x="139.95" y="335.85" width="0.80" height="0.80" fill="#e8261e"/><rect x="140.70" y="335.85" width="0.80" height="0.80" fill="#e8261e"/><rect x="141.45" y="335.85" width="0.80" height="0.80" fill="#f3951e"/><rect x="142.20" y="335.85" width="0.80" height="0.80" fill="#e0d83a"/><rect x="142.95" y="335.85" width="0.80" height="0.80" fill="#46b04a"/><rect x="143.70" y="335.85" width="0.80" height="0.80" fill="#3a9a8c"/><rect x="144.45" y="335.85" width="0.80" height="0.80" fill="#3a9a8c"/><rect x="145.20" y="335.85" width="0.80" height="0.80" fill="#3550b8"/><rect x="134.70" y="336.60" width="0.80" height="0.80" fill="#3a9a8c"/><rect x="135.45" y="336.60" width="0.80" height="0.80" fill="#46b04a"/><rect x="136.20" y="336.60" width="0.80" height="0.80" fill="#46b04a"/><rect x="136.95" y="336.60" width="0.80" height="0.80" fill="#e0d83a"/><rect x="137.70" y="336.60" width="0.80" height="0.80" fill="#f3951e"/><rect x="138.45" y="336.60" width="0.80" height="0.80" fill="#e8261e"/><rect x="139.20" y="336.60" width="0.80" height="0.80" fill="#e8261e"/><rect x="139.95" y="336.60" width="0.80" height="0.80" fill="#e8261e"/><rect x="140.70" y="336.60" width="0.80" height="0.80" fill="#e8261e"/><rect x="141.45" y="336.60" width="0.80" height="0.80" fill="#f3951e"/><rect x="142.20" y="336.60" width="0.80" height="0.80" fill="#e0d83a"/><rect x="142.95" y="336.60" width="0.80" height="0.80" fill="#46b04a"/><rect x="143.70" y="336.60" width="0.80" height="0.80" fill="#3a9a8c"/><rect x="146.70" y="336.60" width="0.80" height="0.80" fill="#3a9fb5"/><rect x="133.95" y="337.35" width="0.80" height="0.80" fill="#3550b8"/><rect x="134.70" y="337.35" width="0.80" height="0.80" fill="#3550b8"/><rect x="135.45" y="337.35" width="0.80" height="0.80" fill="#3a9fb5"/><rect x="136.20" y="337.35" width="0.80" height="0.80" fill="#46b04a"/><rect x="136.95" y="337.35" width="0.80" height="0.80" fill="#e0d83a"/><rect x="137.70" y="337.35" width="0.80" height="0.80" fill="#f3951e"/><rect x="138.45" y="337.35" width="0.80" height="0.80" fill="#f3951e"/><rect x="139.20" y="337.35" width="0.80" height="0.80" fill="#e8261e"/><rect x="139.95" y="337.35" width="0.80" height="0.80" fill="#e8261e"/><rect x="140.70" y="337.35" width="0.80" height="0.80" fill="#f3951e"/><rect x="141.45" y="337.35" width="0.80" height="0.80" fill="#e0d83a"/><rect x="142.20" y="337.35" width="0.80" height="0.80" fill="#46b04a"/><rect x="142.95" y="337.35" width="0.80" height="0.80" fill="#3a9a8c"/><rect x="143.70" y="337.35" width="0.80" height="0.80" fill="#46b04a"/><rect x="144.45" y="337.35" width="0.80" height="0.80" fill="#3a9fb5"/><rect x="145.95" y="337.35" width="0.80" height="0.80" fill="#3a9fb5"/><rect x="133.95" y="338.10" width="0.80" height="0.80" fill="#3a9a8c"/><rect x="134.70" y="338.10" width="0.80" height="0.80" fill="#3a9fb5"/><rect x="135.45" y="338.10" width="0.80" height="0.80" fill="#3a9a8c"/><rect x="136.20" y="338.10" width="0.80" height="0.80" fill="#3a9a8c"/><rect x="136.95" y="338.10" width="0.80" height="0.80" fill="#46b04a"/><rect x="137.70" y="338.10" width="0.80" height="0.80" fill="#e0d83a"/><rect x="138.45" y="338.10" width="0.80" height="0.80" fill="#f3951e"/><rect x="139.20" y="338.10" width="0.80" height="0.80" fill="#f3951e"/><rect x="139.95" y="338.10" width="0.80" height="0.80" fill="#f3951e"/><rect x="140.70" y="338.10" width="0.80" height="0.80" fill="#e0d83a"/><rect x="141.45" y="338.10" width="0.80" height="0.80" fill="#e0d83a"/><rect x="142.20" y="338.10" width="0.80" height="0.80" fill="#46b04a"/><rect x="142.95" y="338.10" width="0.80" height="0.80" fill="#3a9a8c"/><rect x="144.45" y="338.10" width="0.80" height="0.80" fill="#3550b8"/><rect x="145.20" y="338.10" width="0.80" height="0.80" fill="#3550b8"/><rect x="132.45" y="338.85" width="0.80" height="0.80" fill="#3550b8"/><rect x="134.70" y="338.85" width="0.80" height="0.80" fill="#3a9a8c"/><rect x="135.45" y="338.85" width="0.80" height="0.80" fill="#3a9a8c"/><rect x="136.20" y="338.85" width="0.80" height="0.80" fill="#46b04a"/><rect x="136.95" y="338.85" width="0.80" height="0.80" fill="#46b04a"/><rect x="137.70" y="338.85" width="0.80" height="0.80" fill="#46b04a"/><rect x="138.45" y="338.85" width="0.80" height="0.80" fill="#e0d83a"/><rect x="139.20" y="338.85" width="0.80" height="0.80" fill="#e0d83a"/><rect x="139.95" y="338.85" width="0.80" height="0.80" fill="#e0d83a"/><rect x="140.70" y="338.85" width="0.80" height="0.80" fill="#e0d83a"/><rect x="141.45" y="338.85" width="0.80" height="0.80" fill="#46b04a"/><rect x="142.20" y="338.85" width="0.80" height="0.80" fill="#46b04a"/><rect x="142.95" y="338.85" width="0.80" height="0.80" fill="#3a9a8c"/><rect x="143.70" y="338.85" width="0.80" height="0.80" fill="#3a9a8c"/><rect x="144.45" y="338.85" width="0.80" height="0.80" fill="#3550b8"/><rect x="134.70" y="339.60" width="0.80" height="0.80" fill="#3550b8"/><rect x="135.45" y="339.60" width="0.80" height="0.80" fill="#3550b8"/><rect x="136.20" y="339.60" width="0.80" height="0.80" fill="#46b04a"/><rect x="136.95" y="339.60" width="0.80" height="0.80" fill="#3a9fb5"/><rect x="137.70" y="339.60" width="0.80" height="0.80" fill="#46b04a"/><rect x="138.45" y="339.60" width="0.80" height="0.80" fill="#46b04a"/><rect x="139.20" y="339.60" width="0.80" height="0.80" fill="#46b04a"/><rect x="139.95" y="339.60" width="0.80" height="0.80" fill="#46b04a"/><rect x="140.70" y="339.60" width="0.80" height="0.80" fill="#46b04a"/><rect x="141.45" y="339.60" width="0.80" height="0.80" fill="#46b04a"/><rect x="142.20" y="339.60" width="0.80" height="0.80" fill="#3a9a8c"/><rect x="142.95" y="339.60" width="0.80" height="0.80" fill="#46b04a"/><rect x="143.70" y="339.60" width="0.80" height="0.80" fill="#3a9fb5"/><rect x="144.45" y="339.60" width="0.80" height="0.80" fill="#3550b8"/><rect x="132.45" y="340.35" width="0.80" height="0.80" fill="#3550b8"/><rect x="133.20" y="340.35" width="0.80" height="0.80" fill="#3550b8"/><rect x="134.70" y="340.35" width="0.80" height="0.80" fill="#3a9fb5"/><rect x="135.45" y="340.35" width="0.80" height="0.80" fill="#3a9a8c"/><rect x="136.20" y="340.35" width="0.80" height="0.80" fill="#3a9fb5"/><rect x="136.95" y="340.35" width="0.80" height="0.80" fill="#3a9a8c"/><rect x="137.70" y="340.35" width="0.80" height="0.80" fill="#46b04a"/><rect x="138.45" y="340.35" width="0.80" height="0.80" fill="#46b04a"/><rect x="139.20" y="340.35" width="0.80" height="0.80" fill="#46b04a"/><rect x="139.95" y="340.35" width="0.80" height="0.80" fill="#46b04a"/><rect x="140.70" y="340.35" width="0.80" height="0.80" fill="#46b04a"/><rect x="141.45" y="340.35" width="0.80" height="0.80" fill="#3a9fb5"/><rect x="142.20" y="340.35" width="0.80" height="0.80" fill="#3a9a8c"/><rect x="142.95" y="340.35" width="0.80" height="0.80" fill="#3550b8"/><rect x="143.70" y="340.35" width="0.80" height="0.80" fill="#3550b8"/><rect x="144.45" y="340.35" width="0.80" height="0.80" fill="#3a9a8c"/><rect x="133.20" y="341.10" width="0.80" height="0.80" fill="#3550b8"/><rect x="136.20" y="341.10" width="0.80" height="0.80" fill="#3550b8"/><rect x="136.95" y="341.10" width="0.80" height="0.80" fill="#3550b8"/><rect x="137.70" y="341.10" width="0.80" height="0.80" fill="#3a9fb5"/><rect x="138.45" y="341.10" width="0.80" height="0.80" fill="#46b04a"/><rect x="139.20" y="341.10" width="0.80" height="0.80" fill="#3a9a8c"/><rect x="139.95" y="341.10" width="0.80" height="0.80" fill="#3a9fb5"/><rect x="140.70" y="341.10" width="0.80" height="0.80" fill="#3a9fb5"/><rect x="141.45" y="341.10" width="0.80" height="0.80" fill="#3a9a8c"/><rect x="142.20" y="341.10" width="0.80" height="0.80" fill="#3a9fb5"/><rect x="142.95" y="341.10" width="0.80" height="0.80" fill="#3a9a8c"/><rect x="143.70" y="341.10" width="0.80" height="0.80" fill="#3a9a8c"/><rect x="135.45" y="341.85" width="0.80" height="0.80" fill="#3a9fb5"/><rect x="136.20" y="341.85" width="0.80" height="0.80" fill="#3a9fb5"/><rect x="136.95" y="341.85" width="0.80" height="0.80" fill="#3a9fb5"/><rect x="137.70" y="341.85" width="0.80" height="0.80" fill="#3550b8"/><rect x="138.45" y="341.85" width="0.80" height="0.80" fill="#46b04a"/><rect x="139.20" y="341.85" width="0.80" height="0.80" fill="#46b04a"/><rect x="139.95" y="341.85" width="0.80" height="0.80" fill="#3a9a8c"/><rect x="140.70" y="341.85" width="0.80" height="0.80" fill="#46b04a"/><rect x="141.45" y="341.85" width="0.80" height="0.80" fill="#3a9fb5"/><rect x="142.20" y="341.85" width="0.80" height="0.80" fill="#3a9a8c"/><rect x="142.95" y="341.85" width="0.80" height="0.80" fill="#3550b8"/><rect x="143.70" y="341.85" width="0.80" height="0.80" fill="#3a9a8c"/><rect x="136.20" y="342.60" width="0.80" height="0.80" fill="#3a9fb5"/><rect x="136.95" y="342.60" width="0.80" height="0.80" fill="#3550b8"/><rect x="137.70" y="342.60" width="0.80" height="0.80" fill="#3a9a8c"/><rect x="139.20" y="342.60" width="0.80" height="0.80" fill="#3a9a8c"/><rect x="139.95" y="342.60" width="0.80" height="0.80" fill="#3a9a8c"/><rect x="140.70" y="342.60" width="0.80" height="0.80" fill="#3a9a8c"/><rect x="141.45" y="342.60" width="0.80" height="0.80" fill="#3a9fb5"/><rect x="142.95" y="342.60" width="0.80" height="0.80" fill="#3a9fb5"/><rect x="133.95" y="343.35" width="0.80" height="0.80" fill="#3a9fb5"/><rect x="136.20" y="343.35" width="0.80" height="0.80" fill="#3550b8"/><rect x="136.95" y="343.35" width="0.80" height="0.80" fill="#3a9a8c"/><rect x="137.70" y="343.35" width="0.80" height="0.80" fill="#3550b8"/><rect x="138.45" y="343.35" width="0.80" height="0.80" fill="#3550b8"/><rect x="139.20" y="343.35" width="0.80" height="0.80" fill="#3a9fb5"/><rect x="142.20" y="343.35" width="0.80" height="0.80" fill="#3550b8"/><rect x="142.95" y="343.35" width="0.80" height="0.80" fill="#3a9a8c"/><rect x="145.20" y="343.35" width="0.80" height="0.80" fill="#3550b8"/><rect x="134.70" y="344.10" width="0.80" height="0.80" fill="#3550b8"/><rect x="136.95" y="344.10" width="0.80" height="0.80" fill="#3a9a8c"/><rect x="137.70" y="344.10" width="0.80" height="0.80" fill="#3550b8"/><rect x="138.45" y="344.10" width="0.80" height="0.80" fill="#3a9a8c"/><rect x="139.20" y="344.10" width="0.80" height="0.80" fill="#3a9fb5"/><rect x="139.95" y="344.10" width="0.80" height="0.80" fill="#3a9a8c"/><rect x="141.45" y="344.10" width="0.80" height="0.80" fill="#3550b8"/><rect x="142.20" y="344.10" width="0.80" height="0.80" fill="#3a9fb5"/><rect x="145.95" y="344.10" width="0.80" height="0.80" fill="#3550b8"/><rect x="135.45" y="344.85" width="0.80" height="0.80" fill="#3550b8"/><rect x="137.70" y="344.85" width="0.80" height="0.80" fill="#3a9fb5"/><rect x="138.45" y="344.85" width="0.80" height="0.80" fill="#3550b8"/><rect x="139.20" y="344.85" width="0.80" height="0.80" fill="#3a9a8c"/><rect x="139.95" y="344.85" width="0.80" height="0.80" fill="#3a9fb5"/><rect x="140.70" y="344.85" width="0.80" height="0.80" fill="#3550b8"/><rect x="141.45" y="344.85" width="0.80" height="0.80" fill="#3a9fb5"/><rect x="142.20" y="344.85" width="0.80" height="0.80" fill="#3550b8"/><rect x="139.20" y="345.60" width="0.80" height="0.80" fill="#3550b8"/><rect x="139.95" y="345.60" width="0.80" height="0.80" fill="#3550b8"/><rect x="140.70" y="345.60" width="0.80" height="0.80" fill="#3a9fb5"/><rect x="136.20" y="346.35" width="0.80" height="0.80" fill="#3550b8"/><rect x="136.95" y="346.35" width="0.80" height="0.80" fill="#3550b8"/><rect x="137.70" y="347.10" width="0.80" height="0.80" fill="#3550b8"/><rect x="141.45" y="347.10" width="0.80" height="0.80" fill="#3550b8"/><rect x="137.70" y="347.85" width="0.80" height="0.80" fill="#3a9fb5"/><rect x="144.45" y="347.85" width="0.80" height="0.80" fill="#3550b8"/><rect x="137.70" y="348.60" width="0.80" height="0.80" fill="#3550b8"/><rect x="139.20" y="348.60" width="0.80" height="0.80" fill="#3550b8"/><rect x="139.95" y="349.35" width="0.80" height="0.80" fill="#3550b8"/></g>
<rect x="113.10" y="304.50" width="53.10" height="56.20" fill="none" stroke="#8592a8" stroke-width="0.75"/>
<text x="110.70" y="361.00" font-size="4.5" text-anchor="end" fill="#484848">10<tspan font-size="2.93" dy="-1.6">0</tspan></text>
<text x="110.70" y="351.40" font-size="4.5" text-anchor="end" fill="#484848">10<tspan font-size="2.93" dy="-1.6">1</tspan></text>
<text x="110.70" y="341.80" font-size="4.5" text-anchor="end" fill="#484848">10<tspan font-size="2.93" dy="-1.6">2</tspan></text>
<text x="110.70" y="332.20" font-size="4.5" text-anchor="end" fill="#484848">10<tspan font-size="2.93" dy="-1.6">3</tspan></text>
<text x="110.70" y="322.60" font-size="4.5" text-anchor="end" fill="#484848">10<tspan font-size="2.93" dy="-1.6">4</tspan></text>
<text x="110.70" y="313.00" font-size="4.5" text-anchor="end" fill="#484848">10<tspan font-size="2.93" dy="-1.6">5</tspan></text>
<text x="113.30" y="368.00" font-size="4.5" text-anchor="middle" fill="#484848">10<tspan font-size="2.93" dy="-1.6">0</tspan></text>
<text x="124.40" y="368.00" font-size="4.5" text-anchor="middle" fill="#484848">10<tspan font-size="2.93" dy="-1.6">1</tspan></text>
<text x="135.50" y="368.00" font-size="4.5" text-anchor="middle" fill="#484848">10<tspan font-size="2.93" dy="-1.6">2</tspan></text>
<text x="146.60" y="368.00" font-size="4.5" text-anchor="middle" fill="#484848">10<tspan font-size="2.93" dy="-1.6">3</tspan></text>
<text x="157.70" y="368.00" font-size="4.5" text-anchor="middle" fill="#484848">10<tspan font-size="2.93" dy="-1.6">4</tspan></text>
<text x="115.70" y="309.20" font-size="5.65" text-anchor="start" fill="#e4302c" stroke="#e4302c" stroke-width="0.1" textLength="13.90" lengthAdjust="spacingAndGlyphs">2.38%</text>
<text x="147.70" y="309.20" font-size="5.65" text-anchor="start" fill="#e4302c" stroke="#e4302c" stroke-width="0.1" textLength="17.30" lengthAdjust="spacingAndGlyphs">19.39%</text>
<text x="114.90" y="359.80" font-size="5.65" text-anchor="start" fill="#222" stroke="#222" stroke-width="0.1" textLength="9.50" lengthAdjust="spacingAndGlyphs">4.61%</text>
<text x="147.70" y="357.30" font-size="5.65" text-anchor="start" fill="#e4302c" stroke="#e4302c" stroke-width="0.1" textLength="17.30" lengthAdjust="spacingAndGlyphs">73.53%</text>
<text x="13.10" y="262.80" font-size="6.78" text-anchor="start" fill="#262626" stroke="#262626" stroke-width="0.07" textLength="7.30" lengthAdjust="spacingAndGlyphs">CT</text>
<text x="7.40" y="334.60" font-size="6.78" text-anchor="start" fill="#262626" stroke="#262626" stroke-width="0.07" textLength="18.40" lengthAdjust="spacingAndGlyphs">shGCK</text>
<line x1="28.90" y1="337.50" x2="28.90" y2="375.30" stroke="#111" stroke-width="1"/>
<line x1="28.40" y1="374.80" x2="54.50" y2="374.80" stroke="#111" stroke-width="1"/>
<path d="M28.9,335 L27.2,338.6 L30.6,338.6 Z" fill="#111"/>
<path d="M57,374.8 L53.4,373.1 L53.4,376.5 Z" fill="#111"/>
<text x="23.30" y="355.00" font-size="6.78" text-anchor="middle" fill="#222" stroke="#222" stroke-width="0.07" font-weight="bold" transform="rotate(-90 23.3 355)" textLength="22.00" lengthAdjust="spacingAndGlyphs">Annexin V</text>
<text x="43.25" y="384.00" font-size="8.59" text-anchor="middle" fill="#222" stroke="#222" stroke-width="0.07" font-weight="bold" textLength="12.90" lengthAdjust="spacingAndGlyphs">7AAD</text>
<text x="278.00" y="191.90" font-size="8.81" text-anchor="middle" fill="#262626" stroke="#262626" stroke-width="0.07" textLength="25.00" lengthAdjust="spacingAndGlyphs">Vehicle</text>
<text x="374.60" y="191.90" font-size="8.81" text-anchor="middle" fill="#262626" stroke="#262626" stroke-width="0.07" textLength="40.00" lengthAdjust="spacingAndGlyphs">Iberdomide</text>
<text x="205.10" y="240.40" font-size="7.01" text-anchor="start" fill="#262626" stroke="#262626" stroke-width="0.07" textLength="7.70" lengthAdjust="spacingAndGlyphs">CT</text>
<text x="197.90" y="337.00" font-size="7.01" text-anchor="start" fill="#262626" stroke="#262626" stroke-width="0.07" textLength="20.70" lengthAdjust="spacingAndGlyphs">shGCK</text>
<path d="M260.00,262.30 L265.00,262.00 L267.60,261.00 L269.00,255.00 L270.20,236.00 L271.20,204.20 L272.20,236.00 L273.30,255.00 L274.40,259.60 L276.00,260.00 L281.00,259.60 L285.00,259.00 L287.50,257.60 L289.50,254.00 L291.40,251.60 L293.20,254.50 L295.20,262.30 Z" fill="#f8e4e4" stroke="none"/>
<path d="M268.00,262.30 L269.40,256.00 L270.40,236.00 L271.20,204.80 L272.00,236.00 L273.00,256.00 L274.20,262.30 Z" fill="#f5c5c9" stroke="#d98f95" stroke-width="0.4"/>
<path d="M286.50,262.30 L291.20,253.20 L295.00,262.30 Z" fill="#f5c5c9" stroke="#d98f95" stroke-width="0.4"/>
<path d="M260.00,262.30 L265.00,262.00 L267.60,261.00 L269.00,255.00 L270.20,236.00 L271.20,204.20 L272.20,236.00 L273.30,255.00 L274.40,259.60 L276.00,260.00 L281.00,259.60 L285.00,259.00 L287.50,257.60 L289.50,254.00 L291.40,251.60 L293.20,254.50 L295.20,262.30" fill="none" stroke="#8c4048" stroke-width="0.6" stroke-linejoin="round"/>
<line x1="248.10" y1="200.50" x2="248.10" y2="262.80" stroke="#111" stroke-width="1.1"/>
<line x1="245.10" y1="204.20" x2="248.10" y2="204.20" stroke="#111" stroke-width="0.9"/>
<text x="242.40" y="206.50" font-size="7.23" text-anchor="end" fill="#333" stroke="#333" stroke-width="0.05" textLength="10.68" lengthAdjust="spacingAndGlyphs">725</text>
<line x1="245.10" y1="218.70" x2="248.10" y2="218.70" stroke="#111" stroke-width="0.9"/>
<text x="242.40" y="221.00" font-size="7.23" text-anchor="end" fill="#333" stroke="#333" stroke-width="0.05" textLength="10.68" lengthAdjust="spacingAndGlyphs">544</text>
<line x1="245.10" y1="233.20" x2="248.10" y2="233.20" stroke="#111" stroke-width="0.9"/>
<text x="242.40" y="235.50" font-size="7.23" text-anchor="end" fill="#333" stroke="#333" stroke-width="0.05" textLength="10.68" lengthAdjust="spacingAndGlyphs">363</text>
<line x1="245.10" y1="247.70" x2="248.10" y2="247.70" stroke="#111" stroke-width="0.9"/>
<text x="242.40" y="250.00" font-size="7.23" text-anchor="end" fill="#333" stroke="#333" stroke-width="0.05" textLength="10.68" lengthAdjust="spacingAndGlyphs">181</text>
<line x1="245.10" y1="262.20" x2="248.10" y2="262.20" stroke="#111" stroke-width="0.9"/>
<text x="242.40" y="264.50" font-size="7.23" text-anchor="end" fill="#333" stroke="#333" stroke-width="0.05">0</text>
<line x1="246.10" y1="259.30" x2="248.10" y2="259.30" stroke="#111" stroke-width="0.75"/>
<line x1="246.10" y1="256.40" x2="248.10" y2="256.40" stroke="#111" stroke-width="0.75"/>
<line x1="246.10" y1="253.50" x2="248.10" y2="253.50" stroke="#111" stroke-width="0.75"/>
<line x1="246.10" y1="250.60" x2="248.10" y2="250.60" stroke="#111" stroke-width="0.75"/>
<line x1="246.10" y1="244.80" x2="248.10" y2="244.80" stroke="#111" stroke-width="0.75"/>
<line x1="246.10" y1="241.90" x2="248.10" y2="241.90" stroke="#111" stroke-width="0.75"/>
<line x1="246.10" y1="239.00" x2="248.10" y2="239.00" stroke="#111" stroke-width="0.75"/>
<line x1="246.10" y1="236.10" x2="248.10" y2="236.10" stroke="#111" stroke-width="0.75"/>
<line x1="246.10" y1="230.30" x2="248.10" y2="230.30" stroke="#111" stroke-width="0.75"/>
<line x1="246.10" y1="227.40" x2="248.10" y2="227.40" stroke="#111" stroke-width="0.75"/>
<line x1="246.10" y1="224.50" x2="248.10" y2="224.50" stroke="#111" stroke-width="0.75"/>
<line x1="246.10" y1="221.60" x2="248.10" y2="221.60" stroke="#111" stroke-width="0.75"/>
<line x1="246.10" y1="215.80" x2="248.10" y2="215.80" stroke="#111" stroke-width="0.75"/>
<line x1="246.10" y1="212.90" x2="248.10" y2="212.90" stroke="#111" stroke-width="0.75"/>
<line x1="246.10" y1="210.00" x2="248.10" y2="210.00" stroke="#111" stroke-width="0.75"/>
<line x1="246.10" y1="207.10" x2="248.10" y2="207.10" stroke="#111" stroke-width="0.75"/>
<line x1="246.10" y1="201.30" x2="248.10" y2="201.30" stroke="#111" stroke-width="0.75"/>
<line x1="247.60" y1="262.30" x2="307.70" y2="262.30" stroke="#111" stroke-width="1.1"/>
<line x1="248.40" y1="262.30" x2="248.40" y2="265.30" stroke="#111" stroke-width="0.9"/>
<line x1="259.95" y1="262.30" x2="259.95" y2="265.30" stroke="#111" stroke-width="0.9"/>
<line x1="271.50" y1="262.30" x2="271.50" y2="265.30" stroke="#111" stroke-width="0.9"/>
<line x1="283.05" y1="262.30" x2="283.05" y2="265.30" stroke="#111" stroke-width="0.9"/>
<line x1="294.60" y1="262.30" x2="294.60" y2="265.30" stroke="#111" stroke-width="0.9"/>
<line x1="306.15" y1="262.30" x2="306.15" y2="265.30" stroke="#111" stroke-width="0.9"/>
<line x1="250.71" y1="262.30" x2="250.71" y2="264.30" stroke="#111" stroke-width="0.75"/>
<line x1="253.02" y1="262.30" x2="253.02" y2="264.30" stroke="#111" stroke-width="0.75"/>
<line x1="255.33" y1="262.30" x2="255.33" y2="264.30" stroke="#111" stroke-width="0.75"/>
<line x1="257.64" y1="262.30" x2="257.64" y2="264.30" stroke="#111" stroke-width="0.75"/>
<line x1="262.26" y1="262.30" x2="262.26" y2="264.30" stroke="#111" stroke-width="0.75"/>
<line x1="264.57" y1="262.30" x2="264.57" y2="264.30" stroke="#111" stroke-width="0.75"/>
<line x1="266.88" y1="262.30" x2="266.88" y2="264.30" stroke="#111" stroke-width="0.75"/>
<line x1="269.19" y1="262.30" x2="269.19" y2="264.30" stroke="#111" stroke-width="0.75"/>
<line x1="273.81" y1="262.30" x2="273.81" y2="264.30" stroke="#111" stroke-width="0.75"/>
<line x1="276.12" y1="262.30" x2="276.12" y2="264.30" stroke="#111" stroke-width="0.75"/>
<line x1="278.43" y1="262.30" x2="278.43" y2="264.30" stroke="#111" stroke-width="0.75"/>
<line x1="280.74" y1="262.30" x2="280.74" y2="264.30" stroke="#111" stroke-width="0.75"/>
<line x1="285.36" y1="262.30" x2="285.36" y2="264.30" stroke="#111" stroke-width="0.75"/>
<line x1="287.67" y1="262.30" x2="287.67" y2="264.30" stroke="#111" stroke-width="0.75"/>
<line x1="289.98" y1="262.30" x2="289.98" y2="264.30" stroke="#111" stroke-width="0.75"/>
<line x1="292.29" y1="262.30" x2="292.29" y2="264.30" stroke="#111" stroke-width="0.75"/>
<line x1="296.91" y1="262.30" x2="296.91" y2="264.30" stroke="#111" stroke-width="0.75"/>
<line x1="299.22" y1="262.30" x2="299.22" y2="264.30" stroke="#111" stroke-width="0.75"/>
<line x1="301.53" y1="262.30" x2="301.53" y2="264.30" stroke="#111" stroke-width="0.75"/>
<line x1="303.84" y1="262.30" x2="303.84" y2="264.30" stroke="#111" stroke-width="0.75"/>
<text x="250.00" y="271.70" font-size="7.23" text-anchor="end" fill="#333" stroke="#333" stroke-width="0.05" transform="rotate(-45 250.0 271.7)" textLength="5.69" lengthAdjust="spacingAndGlyphs">-8</text>
<text x="261.55" y="271.70" font-size="7.23" text-anchor="end" fill="#333" stroke="#333" stroke-width="0.05" transform="rotate(-45 261.55 271.7)" textLength="17.80" lengthAdjust="spacingAndGlyphs">52422</text>
<text x="273.10" y="271.70" font-size="7.23" text-anchor="end" fill="#333" stroke="#333" stroke-width="0.05" transform="rotate(-45 273.1 271.7)" textLength="21.36" lengthAdjust="spacingAndGlyphs">104853</text>
<text x="284.65" y="271.70" font-size="7.23" text-anchor="end" fill="#333" stroke="#333" stroke-width="0.05" transform="rotate(-45 284.65000000000003 271.7)" textLength="21.36" lengthAdjust="spacingAndGlyphs">157283</text>
<text x="296.20" y="271.70" font-size="7.23" text-anchor="end" fill="#333" stroke="#333" stroke-width="0.05" transform="rotate(-45 296.20000000000005 271.7)" textLength="21.36" lengthAdjust="spacingAndGlyphs">209714</text>
<text x="307.75" y="271.70" font-size="7.23" text-anchor="end" fill="#333" stroke="#333" stroke-width="0.05" transform="rotate(-45 307.75 271.7)" textLength="21.36" lengthAdjust="spacingAndGlyphs">262144</text>
<text x="284.80" y="215.50" font-size="7.12" text-anchor="end" fill="#333" stroke="#333" stroke-width="0.07" textLength="10.15" lengthAdjust="spacingAndGlyphs">G1:</text>
<text x="286.70" y="215.50" font-size="7.12" text-anchor="start" fill="#333" stroke="#333" stroke-width="0.07" textLength="18.58" lengthAdjust="spacingAndGlyphs">54.5%</text>
<text x="284.80" y="221.85" font-size="7.12" text-anchor="end" fill="#333" stroke="#333" stroke-width="0.07" textLength="10.15" lengthAdjust="spacingAndGlyphs">G2:</text>
<text x="286.70" y="221.85" font-size="7.12" text-anchor="start" fill="#333" stroke="#333" stroke-width="0.07" textLength="18.58" lengthAdjust="spacingAndGlyphs">20.1%</text>
<text x="284.80" y="228.20" font-size="7.12" text-anchor="end" fill="#333" stroke="#333" stroke-width="0.07" textLength="5.95" lengthAdjust="spacingAndGlyphs">S:</text>
<text x="286.70" y="228.20" font-size="7.12" text-anchor="start" fill="#333" stroke="#333" stroke-width="0.07" textLength="18.58" lengthAdjust="spacingAndGlyphs">25.4%</text>
<text x="226.10" y="231.20" font-size="8.14" text-anchor="middle" fill="#222" stroke="#222" stroke-width="0.07" font-weight="bold" transform="rotate(-90 226.1 231.2)" textLength="14.00" lengthAdjust="spacingAndGlyphs">Count</text>
<text x="275.50" y="298.00" font-size="9.04" text-anchor="middle" fill="#222" stroke="#222" stroke-width="0.07" font-weight="bold" textLength="11.30" lengthAdjust="spacingAndGlyphs">PI-A</text>
<path d="M358.00,262.30 L362.00,261.80 L364.30,260.50 L365.60,254.00 L366.60,234.00 L367.60,200.20 L368.60,234.00 L369.60,254.00 L370.90,260.30 L373.00,261.00 L380.00,261.10 L386.00,261.20 L389.00,260.40 L392.00,261.20 L397.00,262.30 Z" fill="#f8e4e4" stroke="none"/>
<path d="M364.40,262.30 L365.80,255.00 L366.80,234.00 L367.60,200.80 L368.40,234.00 L369.40,255.00 L370.70,262.30 Z" fill="#f5c5c9" stroke="#d98f95" stroke-width="0.4"/>
<path d="M358.00,262.30 L362.00,261.80 L364.30,260.50 L365.60,254.00 L366.60,234.00 L367.60,200.20 L368.60,234.00 L369.60,254.00 L370.90,260.30 L373.00,261.00 L380.00,261.10 L386.00,261.20 L389.00,260.40 L392.00,261.20 L397.00,262.30" fill="none" stroke="#8c4048" stroke-width="0.6" stroke-linejoin="round"/>
<line x1="342.60" y1="197.30" x2="342.60" y2="262.80" stroke="#111" stroke-width="1.1"/>
<line x1="339.60" y1="200.50" x2="342.60" y2="200.50" stroke="#111" stroke-width="0.9"/>
<text x="336.90" y="202.80" font-size="7.23" text-anchor="end" fill="#333" stroke="#333" stroke-width="0.05" textLength="10.68" lengthAdjust="spacingAndGlyphs">669</text>
<line x1="339.60" y1="215.80" x2="342.60" y2="215.80" stroke="#111" stroke-width="0.9"/>
<text x="336.90" y="218.10" font-size="7.23" text-anchor="end" fill="#333" stroke="#333" stroke-width="0.05" textLength="10.68" lengthAdjust="spacingAndGlyphs">502</text>
<line x1="339.60" y1="231.10" x2="342.60" y2="231.10" stroke="#111" stroke-width="0.9"/>
<text x="336.90" y="233.40" font-size="7.23" text-anchor="end" fill="#333" stroke="#333" stroke-width="0.05" textLength="10.68" lengthAdjust="spacingAndGlyphs">335</text>
<line x1="339.60" y1="246.60" x2="342.60" y2="246.60" stroke="#111" stroke-width="0.9"/>
<text x="336.90" y="248.90" font-size="7.23" text-anchor="end" fill="#333" stroke="#333" stroke-width="0.05" textLength="10.68" lengthAdjust="spacingAndGlyphs">167</text>
<line x1="339.60" y1="262.10" x2="342.60" y2="262.10" stroke="#111" stroke-width="0.9"/>
<text x="336.90" y="264.40" font-size="7.23" text-anchor="end" fill="#333" stroke="#333" stroke-width="0.05">0</text>
<line x1="340.60" y1="259.02" x2="342.60" y2="259.02" stroke="#111" stroke-width="0.75"/>
<line x1="340.60" y1="255.94" x2="342.60" y2="255.94" stroke="#111" stroke-width="0.75"/>
<line x1="340.60" y1="252.86" x2="342.60" y2="252.86" stroke="#111" stroke-width="0.75"/>
<line x1="340.60" y1="249.78" x2="342.60" y2="249.78" stroke="#111" stroke-width="0.75"/>
<line x1="340.60" y1="243.62" x2="342.60" y2="243.62" stroke="#111" stroke-width="0.75"/>
<line x1="340.60" y1="240.54" x2="342.60" y2="240.54" stroke="#111" stroke-width="0.75"/>
<line x1="340.60" y1="237.46" x2="342.60" y2="237.46" stroke="#111" stroke-width="0.75"/>
<line x1="340.60" y1="234.38" x2="342.60" y2="234.38" stroke="#111" stroke-width="0.75"/>
<line x1="340.60" y1="228.22" x2="342.60" y2="228.22" stroke="#111" stroke-width="0.75"/>
<line x1="340.60" y1="225.14" x2="342.60" y2="225.14" stroke="#111" stroke-width="0.75"/>
<line x1="340.60" y1="222.06" x2="342.60" y2="222.06" stroke="#111" stroke-width="0.75"/>
<line x1="340.60" y1="218.98" x2="342.60" y2="218.98" stroke="#111" stroke-width="0.75"/>
<line x1="340.60" y1="212.82" x2="342.60" y2="212.82" stroke="#111" stroke-width="0.75"/>
<line x1="340.60" y1="209.74" x2="342.60" y2="209.74" stroke="#111" stroke-width="0.75"/>
<line x1="340.60" y1="206.66" x2="342.60" y2="206.66" stroke="#111" stroke-width="0.75"/>
<line x1="340.60" y1="203.58" x2="342.60" y2="203.58" stroke="#111" stroke-width="0.75"/>
<line x1="342.10" y1="262.30" x2="406.00" y2="262.30" stroke="#111" stroke-width="1.1"/>
<line x1="342.90" y1="262.30" x2="342.90" y2="265.30" stroke="#111" stroke-width="0.9"/>
<line x1="354.45" y1="262.30" x2="354.45" y2="265.30" stroke="#111" stroke-width="0.9"/>
<line x1="366.00" y1="262.30" x2="366.00" y2="265.30" stroke="#111" stroke-width="0.9"/>
<line x1="377.55" y1="262.30" x2="377.55" y2="265.30" stroke="#111" stroke-width="0.9"/>
<line x1="389.10" y1="262.30" x2="389.10" y2="265.30" stroke="#111" stroke-width="0.9"/>
<line x1="400.65" y1="262.30" x2="400.65" y2="265.30" stroke="#111" stroke-width="0.9"/>
<line x1="345.21" y1="262.30" x2="345.21" y2="264.30" stroke="#111" stroke-width="0.75"/>
<line x1="347.52" y1="262.30" x2="347.52" y2="264.30" stroke="#111" stroke-width="0.75"/>
<line x1="349.83" y1="262.30" x2="349.83" y2="264.30" stroke="#111" stroke-width="0.75"/>
<line x1="352.14" y1="262.30" x2="352.14" y2="264.30" stroke="#111" stroke-width="0.75"/>
<line x1="356.76" y1="262.30" x2="356.76" y2="264.30" stroke="#111" stroke-width="0.75"/>
<line x1="359.07" y1="262.30" x2="359.07" y2="264.30" stroke="#111" stroke-width="0.75"/>
<line x1="361.38" y1="262.30" x2="361.38" y2="264.30" stroke="#111" stroke-width="0.75"/>
<line x1="363.69" y1="262.30" x2="363.69" y2="264.30" stroke="#111" stroke-width="0.75"/>
<line x1="368.31" y1="262.30" x2="368.31" y2="264.30" stroke="#111" stroke-width="0.75"/>
<line x1="370.62" y1="262.30" x2="370.62" y2="264.30" stroke="#111" stroke-width="0.75"/>
<line x1="372.93" y1="262.30" x2="372.93" y2="264.30" stroke="#111" stroke-width="0.75"/>
<line x1="375.24" y1="262.30" x2="375.24" y2="264.30" stroke="#111" stroke-width="0.75"/>
<line x1="379.86" y1="262.30" x2="379.86" y2="264.30" stroke="#111" stroke-width="0.75"/>
<line x1="382.17" y1="262.30" x2="382.17" y2="264.30" stroke="#111" stroke-width="0.75"/>
<line x1="384.48" y1="262.30" x2="384.48" y2="264.30" stroke="#111" stroke-width="0.75"/>
<line x1="386.79" y1="262.30" x2="386.79" y2="264.30" stroke="#111" stroke-width="0.75"/>
<line x1="391.41" y1="262.30" x2="391.41" y2="264.30" stroke="#111" stroke-width="0.75"/>
<line x1="393.72" y1="262.30" x2="393.72" y2="264.30" stroke="#111" stroke-width="0.75"/>
<line x1="396.03" y1="262.30" x2="396.03" y2="264.30" stroke="#111" stroke-width="0.75"/>
<line x1="398.34" y1="262.30" x2="398.34" y2="264.30" stroke="#111" stroke-width="0.75"/>
<line x1="402.96" y1="262.30" x2="402.96" y2="264.30" stroke="#111" stroke-width="0.75"/>
<line x1="405.27" y1="262.30" x2="405.27" y2="264.30" stroke="#111" stroke-width="0.75"/>
<text x="346.70" y="273.90" font-size="7.23" text-anchor="end" fill="#333" stroke="#333" stroke-width="0.05" transform="rotate(-45 346.70000000000005 273.9)" textLength="9.25" lengthAdjust="spacingAndGlyphs">-16</text>
<text x="358.40" y="273.90" font-size="7.23" text-anchor="end" fill="#333" stroke="#333" stroke-width="0.05" transform="rotate(-45 358.40000000000003 273.9)" textLength="17.80" lengthAdjust="spacingAndGlyphs">52416</text>
<text x="370.10" y="273.90" font-size="7.23" text-anchor="end" fill="#333" stroke="#333" stroke-width="0.05" transform="rotate(-45 370.1 273.9)" textLength="21.36" lengthAdjust="spacingAndGlyphs">104848</text>
<text x="381.80" y="273.90" font-size="7.23" text-anchor="end" fill="#333" stroke="#333" stroke-width="0.05" transform="rotate(-45 381.8 273.9)" textLength="21.36" lengthAdjust="spacingAndGlyphs">157280</text>
<text x="393.50" y="273.90" font-size="7.23" text-anchor="end" fill="#333" stroke="#333" stroke-width="0.05" transform="rotate(-45 393.50000000000006 273.9)" textLength="21.36" lengthAdjust="spacingAndGlyphs">209712</text>
<text x="405.20" y="273.90" font-size="7.23" text-anchor="end" fill="#333" stroke="#333" stroke-width="0.05" transform="rotate(-45 405.20000000000005 273.9)" textLength="21.36" lengthAdjust="spacingAndGlyphs">262144</text>
<text x="380.90" y="213.10" font-size="7.12" text-anchor="end" fill="#333" stroke="#333" stroke-width="0.07" textLength="10.15" lengthAdjust="spacingAndGlyphs">G1:</text>
<text x="382.80" y="213.10" font-size="7.12" text-anchor="start" fill="#333" stroke="#333" stroke-width="0.07" textLength="18.58" lengthAdjust="spacingAndGlyphs">82.3%</text>
<text x="380.90" y="219.45" font-size="7.12" text-anchor="end" fill="#333" stroke="#333" stroke-width="0.07" textLength="10.15" lengthAdjust="spacingAndGlyphs">G2:</text>
<text x="382.80" y="219.45" font-size="7.12" text-anchor="start" fill="#333" stroke="#333" stroke-width="0.07" textLength="14.93" lengthAdjust="spacingAndGlyphs">3.8%</text>
<text x="380.90" y="225.80" font-size="7.12" text-anchor="end" fill="#333" stroke="#333" stroke-width="0.07" textLength="5.95" lengthAdjust="spacingAndGlyphs">S:</text>
<text x="382.80" y="225.80" font-size="7.12" text-anchor="start" fill="#333" stroke="#333" stroke-width="0.07" textLength="18.58" lengthAdjust="spacingAndGlyphs">13.9%</text>
<text x="320.60" y="230.20" font-size="8.14" text-anchor="middle" fill="#222" stroke="#222" stroke-width="0.07" font-weight="bold" transform="rotate(-90 320.6 230.2)" textLength="14.00" lengthAdjust="spacingAndGlyphs">Count</text>
<text x="370.70" y="298.80" font-size="9.04" text-anchor="middle" fill="#222" stroke="#222" stroke-width="0.07" font-weight="bold" textLength="11.30" lengthAdjust="spacingAndGlyphs">PI-A</text>
<path d="M260.00,373.80 L264.00,373.40 L266.00,371.80 L267.40,370.60 L268.30,365.00 L269.20,346.00 L270.20,315.00 L271.20,346.00 L272.10,365.00 L273.20,370.00 L275.00,370.80 L280.00,370.60 L285.00,370.30 L287.50,369.00 L289.30,368.00 L291.00,369.20 L292.50,373.80 Z" fill="#f8e4e4" stroke="none"/>
<path d="M267.20,373.80 L268.40,366.00 L269.40,346.00 L270.20,315.60 L271.00,346.00 L272.00,366.00 L273.20,373.80 Z" fill="#f5c5c9" stroke="#d98f95" stroke-width="0.4"/>
<path d="M286.50,373.80 L289.30,369.20 L292.30,373.80 Z" fill="#f5c5c9" stroke="#d98f95" stroke-width="0.4"/>
<path d="M260.00,373.80 L264.00,373.40 L266.00,371.80 L267.40,370.60 L268.30,365.00 L269.20,346.00 L270.20,315.00 L271.20,346.00 L272.10,365.00 L273.20,370.00 L275.00,370.80 L280.00,370.60 L285.00,370.30 L287.50,369.00 L289.30,368.00 L291.00,369.20 L292.50,373.80" fill="none" stroke="#8c4048" stroke-width="0.6" stroke-linejoin="round"/>
<line x1="247.70" y1="312.90" x2="247.70" y2="374.30" stroke="#111" stroke-width="1.1"/>
<line x1="244.70" y1="315.70" x2="247.70" y2="315.70" stroke="#111" stroke-width="0.9"/>
<text x="242.00" y="318.00" font-size="7.23" text-anchor="end" fill="#333" stroke="#333" stroke-width="0.05" textLength="10.68" lengthAdjust="spacingAndGlyphs">663</text>
<line x1="244.70" y1="330.20" x2="247.70" y2="330.20" stroke="#111" stroke-width="0.9"/>
<text x="242.00" y="332.50" font-size="7.23" text-anchor="end" fill="#333" stroke="#333" stroke-width="0.05" textLength="10.68" lengthAdjust="spacingAndGlyphs">497</text>
<line x1="244.70" y1="344.60" x2="247.70" y2="344.60" stroke="#111" stroke-width="0.9"/>
<text x="242.00" y="346.90" font-size="7.23" text-anchor="end" fill="#333" stroke="#333" stroke-width="0.05" textLength="10.68" lengthAdjust="spacingAndGlyphs">332</text>
<line x1="244.70" y1="359.00" x2="247.70" y2="359.00" stroke="#111" stroke-width="0.9"/>
<text x="242.00" y="361.30" font-size="7.23" text-anchor="end" fill="#333" stroke="#333" stroke-width="0.05" textLength="10.68" lengthAdjust="spacingAndGlyphs">166</text>
<line x1="244.70" y1="373.40" x2="247.70" y2="373.40" stroke="#111" stroke-width="0.9"/>
<text x="242.00" y="375.70" font-size="7.23" text-anchor="end" fill="#333" stroke="#333" stroke-width="0.05">0</text>
<line x1="245.70" y1="370.51" x2="247.70" y2="370.51" stroke="#111" stroke-width="0.75"/>
<line x1="245.70" y1="367.63" x2="247.70" y2="367.63" stroke="#111" stroke-width="0.75"/>
<line x1="245.70" y1="364.75" x2="247.70" y2="364.75" stroke="#111" stroke-width="0.75"/>
<line x1="245.70" y1="361.86" x2="247.70" y2="361.86" stroke="#111" stroke-width="0.75"/>
<line x1="245.70" y1="356.09" x2="247.70" y2="356.09" stroke="#111" stroke-width="0.75"/>
<line x1="245.70" y1="353.21" x2="247.70" y2="353.21" stroke="#111" stroke-width="0.75"/>
<line x1="245.70" y1="350.32" x2="247.70" y2="350.32" stroke="#111" stroke-width="0.75"/>
<line x1="245.70" y1="347.44" x2="247.70" y2="347.44" stroke="#111" stroke-width="0.75"/>
<line x1="245.70" y1="341.67" x2="247.70" y2="341.67" stroke="#111" stroke-width="0.75"/>
<line x1="245.70" y1="338.78" x2="247.70" y2="338.78" stroke="#111" stroke-width="0.75"/>
<line x1="245.70" y1="335.90" x2="247.70" y2="335.90" stroke="#111" stroke-width="0.75"/>
<line x1="245.70" y1="333.01" x2="247.70" y2="333.01" stroke="#111" stroke-width="0.75"/>
<line x1="245.70" y1="327.24" x2="247.70" y2="327.24" stroke="#111" stroke-width="0.75"/>
<line x1="245.70" y1="324.36" x2="247.70" y2="324.36" stroke="#111" stroke-width="0.75"/>
<line x1="245.70" y1="321.47" x2="247.70" y2="321.47" stroke="#111" stroke-width="0.75"/>
<line x1="245.70" y1="318.59" x2="247.70" y2="318.59" stroke="#111" stroke-width="0.75"/>
<line x1="247.20" y1="373.80" x2="305.80" y2="373.80" stroke="#111" stroke-width="1.1"/>
<line x1="248.00" y1="373.80" x2="248.00" y2="376.80" stroke="#111" stroke-width="0.9"/>
<line x1="259.55" y1="373.80" x2="259.55" y2="376.80" stroke="#111" stroke-width="0.9"/>
<line x1="271.10" y1="373.80" x2="271.10" y2="376.80" stroke="#111" stroke-width="0.9"/>
<line x1="282.65" y1="373.80" x2="282.65" y2="376.80" stroke="#111" stroke-width="0.9"/>
<line x1="294.20" y1="373.80" x2="294.20" y2="376.80" stroke="#111" stroke-width="0.9"/>
<line x1="305.75" y1="373.80" x2="305.75" y2="376.80" stroke="#111" stroke-width="0.9"/>
<line x1="250.31" y1="373.80" x2="250.31" y2="375.80" stroke="#111" stroke-width="0.75"/>
<line x1="252.62" y1="373.80" x2="252.62" y2="375.80" stroke="#111" stroke-width="0.75"/>
<line x1="254.93" y1="373.80" x2="254.93" y2="375.80" stroke="#111" stroke-width="0.75"/>
<line x1="257.24" y1="373.80" x2="257.24" y2="375.80" stroke="#111" stroke-width="0.75"/>
<line x1="261.86" y1="373.80" x2="261.86" y2="375.80" stroke="#111" stroke-width="0.75"/>
<line x1="264.17" y1="373.80" x2="264.17" y2="375.80" stroke="#111" stroke-width="0.75"/>
<line x1="266.48" y1="373.80" x2="266.48" y2="375.80" stroke="#111" stroke-width="0.75"/>
<line x1="268.79" y1="373.80" x2="268.79" y2="375.80" stroke="#111" stroke-width="0.75"/>
<line x1="273.41" y1="373.80" x2="273.41" y2="375.80" stroke="#111" stroke-width="0.75"/>
<line x1="275.72" y1="373.80" x2="275.72" y2="375.80" stroke="#111" stroke-width="0.75"/>
<line x1="278.03" y1="373.80" x2="278.03" y2="375.80" stroke="#111" stroke-width="0.75"/>
<line x1="280.34" y1="373.80" x2="280.34" y2="375.80" stroke="#111" stroke-width="0.75"/>
<line x1="284.96" y1="373.80" x2="284.96" y2="375.80" stroke="#111" stroke-width="0.75"/>
<line x1="287.27" y1="373.80" x2="287.27" y2="375.80" stroke="#111" stroke-width="0.75"/>
<line x1="289.58" y1="373.80" x2="289.58" y2="375.80" stroke="#111" stroke-width="0.75"/>
<line x1="291.89" y1="373.80" x2="291.89" y2="375.80" stroke="#111" stroke-width="0.75"/>
<line x1="296.51" y1="373.80" x2="296.51" y2="375.80" stroke="#111" stroke-width="0.75"/>
<line x1="298.82" y1="373.80" x2="298.82" y2="375.80" stroke="#111" stroke-width="0.75"/>
<line x1="301.13" y1="373.80" x2="301.13" y2="375.80" stroke="#111" stroke-width="0.75"/>
<line x1="303.44" y1="373.80" x2="303.44" y2="375.80" stroke="#111" stroke-width="0.75"/>
<text x="250.80" y="384.40" font-size="7.23" text-anchor="end" fill="#333" stroke="#333" stroke-width="0.05" transform="rotate(-45 250.79999999999998 384.4)" textLength="5.69" lengthAdjust="spacingAndGlyphs">-7</text>
<text x="262.35" y="384.40" font-size="7.23" text-anchor="end" fill="#333" stroke="#333" stroke-width="0.05" transform="rotate(-45 262.35 384.4)" textLength="17.80" lengthAdjust="spacingAndGlyphs">52423</text>
<text x="273.90" y="384.40" font-size="7.23" text-anchor="end" fill="#333" stroke="#333" stroke-width="0.05" transform="rotate(-45 273.90000000000003 384.4)" textLength="21.36" lengthAdjust="spacingAndGlyphs">104853</text>
<text x="285.45" y="384.40" font-size="7.23" text-anchor="end" fill="#333" stroke="#333" stroke-width="0.05" transform="rotate(-45 285.45 384.4)" textLength="21.36" lengthAdjust="spacingAndGlyphs">157284</text>
<text x="297.00" y="384.40" font-size="7.23" text-anchor="end" fill="#333" stroke="#333" stroke-width="0.05" transform="rotate(-45 297.0 384.4)" textLength="21.36" lengthAdjust="spacingAndGlyphs">209714</text>
<text x="308.55" y="384.40" font-size="7.23" text-anchor="end" fill="#333" stroke="#333" stroke-width="0.05" transform="rotate(-45 308.55 384.4)" textLength="21.36" lengthAdjust="spacingAndGlyphs">262144</text>
<text x="284.30" y="319.20" font-size="7.12" text-anchor="end" fill="#333" stroke="#333" stroke-width="0.07" textLength="10.15" lengthAdjust="spacingAndGlyphs">G1:</text>
<text x="286.20" y="319.20" font-size="7.12" text-anchor="start" fill="#333" stroke="#333" stroke-width="0.07" textLength="18.58" lengthAdjust="spacingAndGlyphs">69.5%</text>
<text x="284.30" y="325.55" font-size="7.12" text-anchor="end" fill="#333" stroke="#333" stroke-width="0.07" textLength="10.15" lengthAdjust="spacingAndGlyphs">G2:</text>
<text x="286.20" y="325.55" font-size="7.12" text-anchor="start" fill="#333" stroke="#333" stroke-width="0.07" textLength="14.93" lengthAdjust="spacingAndGlyphs">8.4%</text>
<text x="284.30" y="331.90" font-size="7.12" text-anchor="end" fill="#333" stroke="#333" stroke-width="0.07" textLength="5.95" lengthAdjust="spacingAndGlyphs">S:</text>
<text x="286.20" y="331.90" font-size="7.12" text-anchor="start" fill="#333" stroke="#333" stroke-width="0.07" textLength="18.58" lengthAdjust="spacingAndGlyphs">22.2%</text>
<text x="225.70" y="343.00" font-size="8.14" text-anchor="middle" fill="#222" stroke="#222" stroke-width="0.07" font-weight="bold" transform="rotate(-90 225.7 343)" textLength="14.00" lengthAdjust="spacingAndGlyphs">Count</text>
<text x="274.80" y="409.20" font-size="9.04" text-anchor="middle" fill="#222" stroke="#222" stroke-width="0.07" font-weight="bold" textLength="11.30" lengthAdjust="spacingAndGlyphs">PI-A</text>
<path d="M356.00,373.40 L360.00,373.00 L362.30,371.50 L363.60,366.00 L364.90,350.00 L365.80,335.00 L366.50,310.50 L367.20,335.00 L368.10,350.00 L369.40,366.00 L370.60,371.50 L372.50,372.70 L385.00,372.80 L392.00,372.50 L396.00,373.40 Z" fill="#f8e4e4" stroke="none"/>
<path d="M362.40,373.40 L363.80,366.00 L365.00,350.00 L365.90,335.00 L366.50,311.00 L367.10,335.00 L368.00,350.00 L369.20,366.00 L370.50,373.40 Z" fill="#f5c5c9" stroke="#d98f95" stroke-width="0.4"/>
<path d="M356.00,373.40 L360.00,373.00 L362.30,371.50 L363.60,366.00 L364.90,350.00 L365.80,335.00 L366.50,310.50 L367.20,335.00 L368.10,350.00 L369.40,366.00 L370.60,371.50 L372.50,372.70 L385.00,372.80 L392.00,372.50 L396.00,373.40" fill="none" stroke="#8c4048" stroke-width="0.6" stroke-linejoin="round"/>
<line x1="342.50" y1="307.40" x2="342.50" y2="373.90" stroke="#111" stroke-width="1.1"/>
<line x1="339.50" y1="311.00" x2="342.50" y2="311.00" stroke="#111" stroke-width="0.9"/>
<text x="336.80" y="313.30" font-size="7.23" text-anchor="end" fill="#333" stroke="#333" stroke-width="0.05" textLength="10.68" lengthAdjust="spacingAndGlyphs">279</text>
<line x1="339.50" y1="326.40" x2="342.50" y2="326.40" stroke="#111" stroke-width="0.9"/>
<text x="336.80" y="328.70" font-size="7.23" text-anchor="end" fill="#333" stroke="#333" stroke-width="0.05" textLength="10.68" lengthAdjust="spacingAndGlyphs">209</text>
<line x1="339.50" y1="341.90" x2="342.50" y2="341.90" stroke="#111" stroke-width="0.9"/>
<text x="336.80" y="344.20" font-size="7.23" text-anchor="end" fill="#333" stroke="#333" stroke-width="0.05" textLength="10.68" lengthAdjust="spacingAndGlyphs">140</text>
<line x1="339.50" y1="357.20" x2="342.50" y2="357.20" stroke="#111" stroke-width="0.9"/>
<text x="336.80" y="359.50" font-size="7.23" text-anchor="end" fill="#333" stroke="#333" stroke-width="0.05" textLength="7.12" lengthAdjust="spacingAndGlyphs">70</text>
<line x1="339.50" y1="372.90" x2="342.50" y2="372.90" stroke="#111" stroke-width="0.9"/>
<text x="336.80" y="375.20" font-size="7.23" text-anchor="end" fill="#333" stroke="#333" stroke-width="0.05">0</text>
<line x1="340.50" y1="369.80" x2="342.50" y2="369.80" stroke="#111" stroke-width="0.75"/>
<line x1="340.50" y1="366.71" x2="342.50" y2="366.71" stroke="#111" stroke-width="0.75"/>
<line x1="340.50" y1="363.61" x2="342.50" y2="363.61" stroke="#111" stroke-width="0.75"/>
<line x1="340.50" y1="360.52" x2="342.50" y2="360.52" stroke="#111" stroke-width="0.75"/>
<line x1="340.50" y1="354.33" x2="342.50" y2="354.33" stroke="#111" stroke-width="0.75"/>
<line x1="340.50" y1="351.23" x2="342.50" y2="351.23" stroke="#111" stroke-width="0.75"/>
<line x1="340.50" y1="348.14" x2="342.50" y2="348.14" stroke="#111" stroke-width="0.75"/>
<line x1="340.50" y1="345.04" x2="342.50" y2="345.04" stroke="#111" stroke-width="0.75"/>
<line x1="340.50" y1="338.85" x2="342.50" y2="338.85" stroke="#111" stroke-width="0.75"/>
<line x1="340.50" y1="335.76" x2="342.50" y2="335.76" stroke="#111" stroke-width="0.75"/>
<line x1="340.50" y1="332.66" x2="342.50" y2="332.66" stroke="#111" stroke-width="0.75"/>
<line x1="340.50" y1="329.57" x2="342.50" y2="329.57" stroke="#111" stroke-width="0.75"/>
<line x1="340.50" y1="323.38" x2="342.50" y2="323.38" stroke="#111" stroke-width="0.75"/>
<line x1="340.50" y1="320.28" x2="342.50" y2="320.28" stroke="#111" stroke-width="0.75"/>
<line x1="340.50" y1="317.19" x2="342.50" y2="317.19" stroke="#111" stroke-width="0.75"/>
<line x1="340.50" y1="314.09" x2="342.50" y2="314.09" stroke="#111" stroke-width="0.75"/>
<line x1="340.50" y1="307.90" x2="342.50" y2="307.90" stroke="#111" stroke-width="0.75"/>
<line x1="342.00" y1="373.40" x2="406.30" y2="373.40" stroke="#111" stroke-width="1.1"/>
<line x1="342.80" y1="373.40" x2="342.80" y2="376.40" stroke="#111" stroke-width="0.9"/>
<line x1="354.35" y1="373.40" x2="354.35" y2="376.40" stroke="#111" stroke-width="0.9"/>
<line x1="365.90" y1="373.40" x2="365.90" y2="376.40" stroke="#111" stroke-width="0.9"/>
<line x1="377.45" y1="373.40" x2="377.45" y2="376.40" stroke="#111" stroke-width="0.9"/>
<line x1="389.00" y1="373.40" x2="389.00" y2="376.40" stroke="#111" stroke-width="0.9"/>
<line x1="400.55" y1="373.40" x2="400.55" y2="376.40" stroke="#111" stroke-width="0.9"/>
<line x1="345.11" y1="373.40" x2="345.11" y2="375.40" stroke="#111" stroke-width="0.75"/>
<line x1="347.42" y1="373.40" x2="347.42" y2="375.40" stroke="#111" stroke-width="0.75"/>
<line x1="349.73" y1="373.40" x2="349.73" y2="375.40" stroke="#111" stroke-width="0.75"/>
<line x1="352.04" y1="373.40" x2="352.04" y2="375.40" stroke="#111" stroke-width="0.75"/>
<line x1="356.66" y1="373.40" x2="356.66" y2="375.40" stroke="#111" stroke-width="0.75"/>
<line x1="358.97" y1="373.40" x2="358.97" y2="375.40" stroke="#111" stroke-width="0.75"/>
<line x1="361.28" y1="373.40" x2="361.28" y2="375.40" stroke="#111" stroke-width="0.75"/>
<line x1="363.59" y1="373.40" x2="363.59" y2="375.40" stroke="#111" stroke-width="0.75"/>
<line x1="368.21" y1="373.40" x2="368.21" y2="375.40" stroke="#111" stroke-width="0.75"/>
<line x1="370.52" y1="373.40" x2="370.52" y2="375.40" stroke="#111" stroke-width="0.75"/>
<line x1="372.83" y1="373.40" x2="372.83" y2="375.40" stroke="#111" stroke-width="0.75"/>
<line x1="375.14" y1="373.40" x2="375.14" y2="375.40" stroke="#111" stroke-width="0.75"/>
<line x1="379.76" y1="373.40" x2="379.76" y2="375.40" stroke="#111" stroke-width="0.75"/>
<line x1="382.07" y1="373.40" x2="382.07" y2="375.40" stroke="#111" stroke-width="0.75"/>
<line x1="384.38" y1="373.40" x2="384.38" y2="375.40" stroke="#111" stroke-width="0.75"/>
<line x1="386.69" y1="373.40" x2="386.69" y2="375.40" stroke="#111" stroke-width="0.75"/>
<line x1="391.31" y1="373.40" x2="391.31" y2="375.40" stroke="#111" stroke-width="0.75"/>
<line x1="393.62" y1="373.40" x2="393.62" y2="375.40" stroke="#111" stroke-width="0.75"/>
<line x1="395.93" y1="373.40" x2="395.93" y2="375.40" stroke="#111" stroke-width="0.75"/>
<line x1="398.24" y1="373.40" x2="398.24" y2="375.40" stroke="#111" stroke-width="0.75"/>
<line x1="402.86" y1="373.40" x2="402.86" y2="375.40" stroke="#111" stroke-width="0.75"/>
<line x1="405.17" y1="373.40" x2="405.17" y2="375.40" stroke="#111" stroke-width="0.75"/>
<text x="346.60" y="384.80" font-size="7.23" text-anchor="end" fill="#333" stroke="#333" stroke-width="0.05" transform="rotate(-45 346.6 384.79999999999995)" textLength="9.25" lengthAdjust="spacingAndGlyphs">-17</text>
<text x="358.45" y="384.80" font-size="7.23" text-anchor="end" fill="#333" stroke="#333" stroke-width="0.05" transform="rotate(-45 358.45000000000005 384.79999999999995)" textLength="17.80" lengthAdjust="spacingAndGlyphs">52415</text>
<text x="370.30" y="384.80" font-size="7.23" text-anchor="end" fill="#333" stroke="#333" stroke-width="0.05" transform="rotate(-45 370.3 384.79999999999995)" textLength="21.36" lengthAdjust="spacingAndGlyphs">104847</text>
<text x="382.15" y="384.80" font-size="7.23" text-anchor="end" fill="#333" stroke="#333" stroke-width="0.05" transform="rotate(-45 382.15000000000003 384.79999999999995)" textLength="21.36" lengthAdjust="spacingAndGlyphs">157280</text>
<text x="394.00" y="384.80" font-size="7.23" text-anchor="end" fill="#333" stroke="#333" stroke-width="0.05" transform="rotate(-45 394.0 384.79999999999995)" textLength="21.36" lengthAdjust="spacingAndGlyphs">209712</text>
<text x="405.85" y="384.80" font-size="7.23" text-anchor="end" fill="#333" stroke="#333" stroke-width="0.05" transform="rotate(-45 405.85 384.79999999999995)" textLength="21.36" lengthAdjust="spacingAndGlyphs">262144</text>
<text x="380.50" y="319.20" font-size="7.12" text-anchor="end" fill="#333" stroke="#333" stroke-width="0.07" textLength="10.15" lengthAdjust="spacingAndGlyphs">G1:</text>
<text x="382.40" y="319.20" font-size="7.12" text-anchor="start" fill="#333" stroke="#333" stroke-width="0.07" textLength="18.58" lengthAdjust="spacingAndGlyphs">92.9%</text>
<text x="380.50" y="325.55" font-size="7.12" text-anchor="end" fill="#333" stroke="#333" stroke-width="0.07" textLength="10.15" lengthAdjust="spacingAndGlyphs">G2:</text>
<text x="382.40" y="325.55" font-size="7.12" text-anchor="start" fill="#333" stroke="#333" stroke-width="0.07" textLength="14.93" lengthAdjust="spacingAndGlyphs">1.2%</text>
<text x="380.50" y="331.90" font-size="7.12" text-anchor="end" fill="#333" stroke="#333" stroke-width="0.07" textLength="5.95" lengthAdjust="spacingAndGlyphs">S:</text>
<text x="382.40" y="331.90" font-size="7.12" text-anchor="start" fill="#333" stroke="#333" stroke-width="0.07" textLength="14.93" lengthAdjust="spacingAndGlyphs">3.9%</text>
<text x="320.50" y="329.50" font-size="8.14" text-anchor="middle" fill="#222" stroke="#222" stroke-width="0.07" font-weight="bold" transform="rotate(-90 320.5 329.5)" textLength="14.00" lengthAdjust="spacingAndGlyphs">Count</text>
<text x="375.50" y="409.00" font-size="9.04" text-anchor="middle" fill="#222" stroke="#222" stroke-width="0.07" font-weight="bold" textLength="11.30" lengthAdjust="spacingAndGlyphs">PI-A</text>
<line x1="225.10" y1="359.50" x2="225.10" y2="415.90" stroke="#111" stroke-width="1"/>
<line x1="224.60" y1="415.40" x2="256.20" y2="415.40" stroke="#111" stroke-width="1"/>
<path d="M225.1,357.2 L223.4,360.8 L226.8,360.8 Z" fill="#111"/>
<path d="M258.6,415.4 L255,413.7 L255,417.1 Z" fill="#111"/>
<text x="219.90" y="401.80" font-size="7.01" text-anchor="middle" fill="#222" stroke="#222" stroke-width="0.07" font-weight="bold" transform="rotate(-90 219.9 401.8)" textLength="14.50" lengthAdjust="spacingAndGlyphs">Count</text>
<text x="242.10" y="425.00" font-size="7.23" text-anchor="middle" fill="#222" stroke="#222" stroke-width="0.07" font-weight="bold" textLength="10.60" lengthAdjust="spacingAndGlyphs">PI-A</text>
<line x1="440.80" y1="268.00" x2="440.80" y2="337.90" stroke="#111" stroke-width="1"/>
<line x1="440.30" y1="337.40" x2="483.50" y2="337.40" stroke="#111" stroke-width="1"/>
<line x1="438.40" y1="337.40" x2="440.80" y2="337.40" stroke="#111" stroke-width="0.9"/>
<text x="435.60" y="339.80" font-size="7.57" text-anchor="end" fill="#262626" stroke="#262626" stroke-width="0.07">0</text>
<line x1="438.40" y1="326.17" x2="440.80" y2="326.17" stroke="#111" stroke-width="0.9"/>
<text x="435.60" y="328.57" font-size="7.57" text-anchor="end" fill="#262626" stroke="#262626" stroke-width="0.07" textLength="7.45" lengthAdjust="spacingAndGlyphs">20</text>
<line x1="438.40" y1="314.94" x2="440.80" y2="314.94" stroke="#111" stroke-width="0.9"/>
<text x="435.60" y="317.34" font-size="7.57" text-anchor="end" fill="#262626" stroke="#262626" stroke-width="0.07" textLength="7.45" lengthAdjust="spacingAndGlyphs">40</text>
<line x1="438.40" y1="303.71" x2="440.80" y2="303.71" stroke="#111" stroke-width="0.9"/>
<text x="435.60" y="306.11" font-size="7.57" text-anchor="end" fill="#262626" stroke="#262626" stroke-width="0.07" textLength="7.45" lengthAdjust="spacingAndGlyphs">60</text>
<line x1="438.40" y1="292.48" x2="440.80" y2="292.48" stroke="#111" stroke-width="0.9"/>
<text x="435.60" y="294.88" font-size="7.57" text-anchor="end" fill="#262626" stroke="#262626" stroke-width="0.07" textLength="7.45" lengthAdjust="spacingAndGlyphs">80</text>
<line x1="438.40" y1="281.25" x2="440.80" y2="281.25" stroke="#111" stroke-width="0.9"/>
<text x="435.60" y="283.65" font-size="7.57" text-anchor="end" fill="#262626" stroke="#262626" stroke-width="0.07" textLength="11.18" lengthAdjust="spacingAndGlyphs">100</text>
<line x1="438.40" y1="270.02" x2="440.80" y2="270.02" stroke="#111" stroke-width="0.9"/>
<text x="435.60" y="272.42" font-size="7.57" text-anchor="end" fill="#262626" stroke="#262626" stroke-width="0.07" textLength="11.18" lengthAdjust="spacingAndGlyphs">120</text>
<rect x="444.55" y="281.25" width="6.9" height="15.88" rx="1.2" fill="#f3992c"/>
<rect x="444.55" y="296.13" width="6.9" height="10.99" rx="0.8" fill="#5a1a6e"/>
<rect x="444.55" y="306.52" width="6.9" height="30.88" fill="#3ea63a"/>
<line x1="448.00" y1="337.40" x2="448.00" y2="339.70" stroke="#111" stroke-width="0.9"/>
<rect x="454.65" y="281.25" width="6.9" height="14.48" rx="1.2" fill="#f3992c"/>
<rect x="454.65" y="294.73" width="6.9" height="5.09" rx="0.8" fill="#5a1a6e"/>
<rect x="454.65" y="299.22" width="6.9" height="38.18" fill="#3ea63a"/>
<line x1="458.10" y1="337.40" x2="458.10" y2="339.70" stroke="#111" stroke-width="0.9"/>
<rect x="464.95" y="281.25" width="6.9" height="9.42" rx="1.2" fill="#f3992c"/>
<rect x="464.95" y="289.67" width="6.9" height="2.28" rx="0.8" fill="#5a1a6e"/>
<rect x="464.95" y="291.36" width="6.9" height="46.04" fill="#3ea63a"/>
<line x1="468.40" y1="337.40" x2="468.40" y2="339.70" stroke="#111" stroke-width="0.9"/>
<rect x="475.45" y="281.25" width="6.9" height="4.09" rx="1.2" fill="#f3992c"/>
<rect x="475.45" y="284.34" width="6.9" height="1.44" rx="0.8" fill="#5a1a6e"/>
<rect x="475.45" y="285.18" width="6.9" height="52.22" fill="#3ea63a"/>
<line x1="478.90" y1="337.40" x2="478.90" y2="339.70" stroke="#111" stroke-width="0.9"/>
<text x="420.70" y="302.10" font-size="5.99" text-anchor="middle" fill="#2a2a2a" stroke="#2a2a2a" stroke-width="0.07" transform="rotate(-90 420.7 302.1)" textLength="23.20" lengthAdjust="spacingAndGlyphs">% Cell cycle</text>
<line x1="445.40" y1="277.80" x2="480.00" y2="277.80" stroke="#7a7280" stroke-width="1.15"/>
<text x="462.70" y="278.30" font-size="7.23" text-anchor="middle" fill="#333" textLength="4.98" lengthAdjust="spacingAndGlyphs">**</text>
<line x1="456.00" y1="269.70" x2="480.00" y2="269.70" stroke="#2e2e2e" stroke-width="1.15"/>
<text x="467.90" y="269.60" font-size="7.23" text-anchor="middle" fill="#333" textLength="4.98" lengthAdjust="spacingAndGlyphs">**</text>
<line x1="464.20" y1="262.50" x2="480.00" y2="262.50" stroke="#2e2e2e" stroke-width="1.15"/>
<text x="472.00" y="262.50" font-size="7.23" text-anchor="middle" fill="#333" textLength="4.98" lengthAdjust="spacingAndGlyphs">**</text>
<rect x="488.70" y="289.50" width="6.10" height="5.80" rx="0" fill="#3ea63a"/>
<text x="497.30" y="295.10" font-size="8.36" text-anchor="start" fill="#262626" stroke="#262626" stroke-width="0.07" textLength="9.87" lengthAdjust="spacingAndGlyphs">G1</text>
<rect x="488.70" y="300.00" width="6.10" height="5.80" rx="0" fill="#5a1a6e"/>
<text x="497.30" y="305.60" font-size="8.36" text-anchor="start" fill="#262626" stroke="#262626" stroke-width="0.07" textLength="9.87" lengthAdjust="spacingAndGlyphs">G2</text>
<rect x="488.70" y="309.70" width="6.10" height="5.80" rx="0" fill="#f3992c"/>
<text x="497.30" y="315.30" font-size="8.36" text-anchor="start" fill="#262626" stroke="#262626" stroke-width="0.07">S</text>
<text x="448.00" y="346.70" font-size="7.12" text-anchor="middle" fill="#262626" stroke="#262626" stroke-width="0.07">–</text>
<text x="448.00" y="353.40" font-size="7.12" text-anchor="middle" fill="#262626" stroke="#262626" stroke-width="0.07">–</text>
<text x="458.10" y="346.70" font-size="7.12" text-anchor="middle" fill="#262626" stroke="#262626" stroke-width="0.07">+</text>
<text x="458.10" y="353.40" font-size="7.12" text-anchor="middle" fill="#262626" stroke="#262626" stroke-width="0.07">–</text>
<text x="468.40" y="346.70" font-size="7.12" text-anchor="middle" fill="#262626" stroke="#262626" stroke-width="0.07">–</text>
<text x="468.40" y="353.40" font-size="7.12" text-anchor="middle" fill="#262626" stroke="#262626" stroke-width="0.07">+</text>
<text x="478.90" y="346.70" font-size="7.12" text-anchor="middle" fill="#262626" stroke="#262626" stroke-width="0.07">+</text>
<text x="478.90" y="353.40" font-size="7.12" text-anchor="middle" fill="#262626" stroke="#262626" stroke-width="0.07">+</text>
<text x="484.40" y="346.80" font-size="6.78" text-anchor="start" fill="#262626" stroke="#262626" stroke-width="0.07" textLength="19.30" lengthAdjust="spacingAndGlyphs">shGCK</text>
<text x="484.40" y="353.50" font-size="6.55" text-anchor="start" fill="#262626" stroke="#262626" stroke-width="0.07" textLength="28.90" lengthAdjust="spacingAndGlyphs">Iberdomide</text>
</svg>
</body></html>
